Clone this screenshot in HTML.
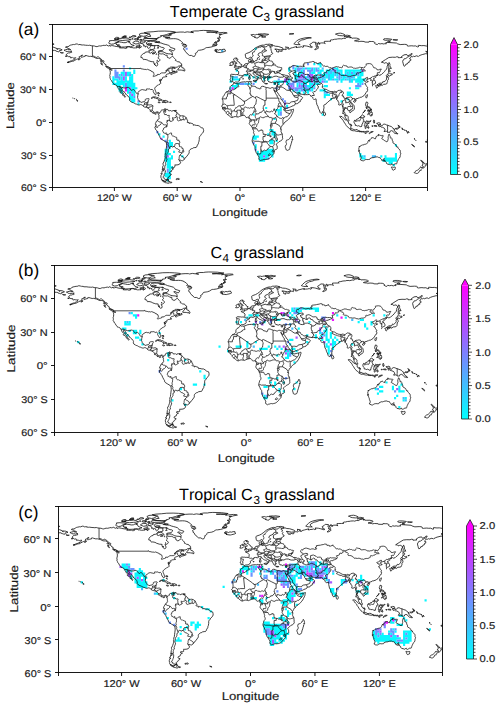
<!DOCTYPE html>
<html><head><meta charset="utf-8"><title>grassland maps</title>
<style>
html,body{margin:0;padding:0;background:#fff}
body{width:500px;height:709px;overflow:hidden}
svg{display:block}
text{text-rendering:geometricPrecision;font-kerning:none;font-family:"Liberation Sans", sans-serif;fill:#1a1a1a}
.t{font-size:9.5px;stroke:#1a1a1a;stroke-width:0.18px}
.ttl{font-size:15.5px;fill:#000}
</style></head><body>
<svg width="500" height="709" viewBox="0 0 500 709">
<defs>
<linearGradient id="cool" x1="0" y1="1" x2="0" y2="0"><stop offset="0" stop-color="#00ffff"/><stop offset="1" stop-color="#ff00ff"/></linearGradient>
<g id="world" fill="none" stroke="#111" stroke-linejoin="round"><path vector-effect="non-scaling-stroke" stroke-width="0.8" d="M11.9 24.3L13.3 23.9L15.5 23.4L16.3 23.4L16.2 23.9L18.3 23.9L17.5 23.3L16.3 22.9L15.6 22.4L14.6 22L13.2 21.6L13.8 21.1L15.6 21.1L16.8 20.6L17.1 20.1L18.1 19.7L19.1 19.5L21 19.1L21.9 19.2L23.4 18.6L24.9 18.8L25.7 19.3L26.1 19.1L27.8 19.2L27.7 19.4L29.3 19.6L30.3 19.5L32.4 19.8L34.3 19.9L35.1 20L36.4 19.8L37.9 20.2L39 20.3L40.9 20.5L42.4 21L43.5 21.1L44.4 20.7L45.6 20.4L47.1 20.5L48.6 20.1L50.2 19.8L50.9 20.2L51.6 20L51.9 19.5L52.5 19.6L54.2 20.5L55.6 19.8L55.7 20.6L56.9 20.4L57.3 20.1L58.5 20.2L60.1 20.6L62.4 21L63.8 21.2L64.8 21.1L66.1 21.6L64.7 22.1L66.5 22.3L69.2 22.2L70 22.6L71.1 22.6L72.2 22.1L71.2 21.7L71.8 21.3L73 21.3L73.8 21.2L74.7 21.4L75.7 22L76.8 21.9L78.5 22.3L80.1 22.2L81.6 22.2L81.4 21.6L82.3 21.4L83.9 21.8L83.9 22.7L84.5 21.9L85.3 21.9L85.8 20.9L84.7 20.3L83.5 19.9L83.6 18.8L84.8 18.1L86.1 18.2L87.1 18.7L88.5 19.8L87.6 20.3L89.5 20.5L89.5 21.5L90.8 20.7L92 21.4L91.7 22.1L92.7 22.8L93.7 22.1L94.4 21.2L94.5 20.1L95.9 20.2L97.4 20.3L98.7 20.8L98.8 21.3L98 21.9L98.7 22.4L98.6 22.9L96.7 23.6L95.3 23.7L94.2 23.4L93.9 23.9L93 24.8L92.7 25.2L91.5 25.9L90.1 26L89.3 26.4L89.2 27L88.1 27.2L86.8 28L85.8 29.1L85.4 29.9L85.3 31L86.8 31.2L87.2 32.1L87.7 32.9L89.1 32.7L91 33.1L92 33.5L92.7 34L93.9 34.3L95 34.7L96.6 34.8L97.7 34.9L97.6 35.7L97.9 36.7L98.6 37.8L100.1 38.8L100.9 38.5L101.4 37.4L100.9 35.9L100.2 35.3L101.8 34.9L102.9 34.2L103.5 33.5L103.4 32.8L102.7 32L101.5 31.2L102.7 30.1L102.2 29.2L101.9 27.7L102.6 27.5L104.3 27.7L105.3 27.8L106.2 27.6L107.1 27.9L108.3 28.5L108.6 28.9L110.4 28.9L110.4 29.8L110.7 31L111.6 31.2L112.3 31.8L113.8 31.2L114.8 30.1L115.4 29.7L116.2 30.6L117.5 31.8L118.6 33L118.2 33.7L119.5 34.2L120.4 34.8L122 35L122.7 35.4L123.1 36.2L123.8 36.4L124.2 36.7L124.3 37.9L122.9 38.6L121.2 38.9L120 39.8L118.3 39.9L116.1 39.7L114.6 39.7L113.6 39.8L112.8 40.5L111.5 40.9L110 42.3L108.9 43.2L109.7 43L111.3 41.7L113.5 40.9L114.9 40.8L115.8 41.3L114.9 41.9L115.2 43L115.5 43.8L116.8 44.3L118.5 44.1L119.5 43L119.5 43.7L120.2 44.1L119 44.7L116.8 45.3L115.8 45.7L114.6 46.5L113.9 46.4L113.8 45.5L115.6 44.7L114 44.7L112.9 44.9L113 45.2L112 45.7L110.9 46L109.9 46.3L109.3 46.9L109.2 47.1L109.2 47.7L109.5 48.2L109.9 48.2L109.8 47.9L110.1 48.1L110 48.4L109.4 48.5L108.9 48.5L108.1 48.7L107.1 48.8L106.3 49.1L106 49.4L105.7 49.5L106 49.6L105.8 50.3L105.1 51.1L105 50.8L104.8 50.8L104.5 50.5L104.7 51L104.9 51.2L104.9 51.6L104.6 52L104.1 52.8L104 52.7L104.3 52.1L103.8 51.7L103.7 50.9L103.5 51.3L103.7 51.9L103 51.8L103.7 52.1L103.7 53L104 53.1L104.3 54.5L103.6 55.2L102.6 55.5L102 56.1L101.5 56.1L100.9 56.5L100.8 56.8L99.7 57.5L99.1 58L98.7 58.6L98.5 59.3L98.7 60L99 60.8L99.5 61.5L99.5 62L99.9 63.1L99.9 63.8L99.9 64.2L99.6 64.8L99.3 64.9L98.8 64.8L98.7 64.4L98.3 64.1L97.8 63.3L97.3 62.5L97.1 62.1L97.3 61.5L97.1 60.9L96.3 60.1L95.9 59.9L94.9 60.4L94.7 60.3L94.2 59.9L93.6 59.6L92.5 59.7L91.6 59.6L90.8 59.7L90.4 59.8L90.6 60.1L90.6 60.5L90.8 60.7L90.6 60.8L90.2 60.7L89.8 60.9L89.1 60.9L88.4 60.3L87.5 60.5L86.8 60.2L86.2 60.3L85.3 60.5L84.4 61.3L83.4 61.7L82.9 62.2L82.6 62.6L82.6 63.3L82.7 63.8L82.9 64.1L82.5 65L82.3 65.7L82.2 67.1L82.1 67.6L82.3 68.1L82.6 68.6L82.8 69.4L83.5 70.1L83.7 70.7L84.1 71.2L85.2 71.4L85.6 71.9L86.5 71.6L87.2 71.5L88.6 71.1L89.2 70.7L89.5 70.1L89.5 69.3L89.7 69L90.4 68.7L91.5 68.5L92.3 68.5L93 68.5L93.2 68.7L93.2 69.2L92.6 69.7L92.4 70.3L92.6 70.5L92.4 71L92.2 71.7L91.9 71.5L91.7 71.5L91.7 71.7L91.9 71.7L91.9 72.7L91.7 72.9L91.8 73.5L91.1 74.1L91.4 74.3L91.5 74.1L91.8 74.3L92.1 74.1L92.4 74.1L93.1 74.2L93.6 74.2L94 74L94.6 74.1L95 74L95.6 74.2L96.2 74.6L96.6 74.7L96.8 75L96.7 75.3L96.8 75.7L96.6 76L96.5 76.4L96.5 76.9L96.5 77.6L96.4 77.7L96.3 78.1L96.3 78.4L96.1 78.6L96.3 79.1L96.6 79.6L97 80L97.5 80.4L97.8 80.8L98.2 81L98.6 81.2L99 81.1L99.5 80.9L100.1 80.7L100.4 80.4L101 80.5L101.5 80.6L101.9 80.8L102.3 81L102.7 81.3L103.2 81.4L103.9 80.7L104.3 80.6L104.3 80.2L104.5 79.4L105.1 78.9L105.7 78.9L105.8 78.7L106.6 78.8L107.4 78.3L107.8 78L108.2 77.6L108.6 77.6L108.9 77.9L108.7 78.2L108.6 78.5L108 78.6L108.4 79L108.4 79.5L107.9 80.1L108.3 80.9L108.7 80.9L109 80.1L108.7 79.8L108.6 79L109.8 78.6L109.7 78.2L110.1 77.8L110.4 78.5L111.1 78.6L111.8 79.1L111.8 79.5L112.7 79.5L113.8 79.3L114.3 79.8L115.1 79.9L115.7 79.6L115.7 79.4L116.9 79.3L118.1 79.3L117.3 79.6L117.6 80L118.4 80.1L119.2 80.6L119.3 81.4L119.8 81.4L120.2 81.6L120.9 82L121.5 82.7L121.5 83.2L121.9 83.2L122.5 83.7L122.8 84L124 84.2L124.2 84L125 84L126 84.2L127.1 84.6L128.2 85.4L128.3 85.8L128.7 85.8L128.9 86.3L129.5 88.1L130 88.3L130.1 89L129.3 89.8L129.6 90.1L131.4 90.2L131.4 91.2L132.2 90.6L133.4 90.9L135.1 91.5L135.6 92.1L135.4 92.7L136.6 92.4L138.5 92.9L140 92.9L141.5 93.7L142.8 94.8L143.6 95.1L144.4 95.2L144.8 95.5L145.1 96.7L145.3 97.3L144.9 99L144.4 99.7L142.9 101L142.3 102.2L141.6 103L141.3 103.1L141.1 103.8L141.1 105.7L140.8 107.2L140.7 107.9L140.4 108.3L140.2 109.6L139.2 110.9L139.1 111.9L138.2 112.4L138 113L136.9 113L135.3 113.3L134.7 113.8L133.5 114.1L132.3 114.9L131.5 115.9L131.4 116.6L131.5 117.2L131.3 118.2L131.1 118.7L130.4 119.2L129.3 121L128.4 121.8L127.7 122.2L127.3 123.2L126.6 123.8L126.2 124.4L125.1 125L124.3 124.8L123.8 124.9L122.9 124.4L122.2 124.5L121.6 123.9L121.5 124.4L122.8 125.3L122.6 126L123.3 126.4L123.2 126.9L122.2 128.2L120.8 128.7L118.8 128.9L117.7 128.8L117.9 129.4L117.7 130.2L117.8 130.7L117.2 131L116.2 131.2L115.3 130.8L114.9 131.1L115 132.1L115.7 132.4L116.2 132L116.5 132.6L115.6 132.9L114.8 133.5L114.7 134.5L114.4 135L113.5 135L112.7 135.6L112.4 136.3L113.4 137L114.4 137.2L114 138.1L112.8 138.7L112.2 139.9L111.3 140.3L110.9 140.7L111.2 141.8L111.8 142.3L111.4 142.3L110.5 142.3L110.1 142.5L109.2 142.9L109 143.8L108.6 143.9L107.4 143.5L106.3 142.8L105 142.3L104.7 141.6L105 141L104.5 140.4L104.4 138.7L104.8 137.7L105.9 136.9L104.4 136.7L105.3 135.8L105.7 134.1L106.8 134.4L107.3 132.4L106.6 132.1L106.3 133.4L105.7 133.2L106 131.8L106.3 129.9L106.8 129.3L106.5 128.3L106.4 127.2L106.8 127.1L107.5 125.5L108.1 123.9L108.6 122.4L108.3 120.9L108.6 120.1L108.5 118.9L109.1 117.6L109.3 115.7L109.6 113.6L109.9 111.4L109.8 109.8L109.6 108.3L108.6 107.8L108.5 107.4L106.6 106.4L104.8 105.3L104 104.7L103.6 103.8L103.7 103.5L102.9 102.2L101.9 100.4L101 98.4L100.5 97.9L100.2 97.2L99.5 96.5L98.8 96.1L99.1 95.7L98.6 94.7L98.9 94L99.7 93.4L100.2 92.7L100 92.2L99.6 92.7L99 92.2L99.2 92L99.1 91.1L99.4 90.9L99.6 90.3L100 89.6L99.9 89.2L100.5 89L101.1 88.6L101 88.3L101.4 88.2L101.3 87.7L101.6 87.4L102.1 87.3L102.5 86.7L102.9 86.2L102.5 85.9L102.7 85.3L102.5 84.4L102.7 84.2L102.5 83.3L102.1 82.8L101.8 82.5L101.6 82L101.8 81.7L101.6 81.6L101.4 81.3L100.9 81L100.4 81.1L100.2 81.4L99.8 81.7L99.6 81.7L99.5 81.9L100 82.5L99.7 82.6L99.6 82.7L99.1 82.8L98.9 82.2L98.8 82.3L98.5 82.3L98.3 81.9L97.9 81.8L97.6 81.7L97.2 81.7L97.2 81.9L97 81.8L96.5 81.5L96.3 81.3L96.4 81.2L96.4 81L96.1 80.7L95.7 80.5L95.3 80.4L95.3 80.1L95 79.9L95.1 80.2L94.9 80.4L94.7 80.2L94.3 80.1L94.2 79.9L94.2 79.6L94.3 79.2L94.1 79.1L94.3 78.9L93.9 78.6L93.5 78.2L93.2 77.9L92.8 77.5L92.3 77.1L92.4 76.9L92.6 77.1L92.7 77L92.5 76.7L92.2 76.6L92.1 76.8L91.5 76.8L91.2 76.7L90.7 76.5L90.2 76.5L89.9 76.3L89.4 76.1L88.8 76.1L88.3 75.9L87.8 75.5L86.6 74.4L86.1 74.1L85.3 73.8L84.8 73.9L84 74.2L83.4 74.3L82.7 74.1L82 73.9L81 73.4L80.3 73.3L79.2 72.8L78.3 72.3L78.1 72.1L77.5 72L76.5 71.7L76.1 71.2L75 70.7L74.5 70L74.3 69.6L74.6 69.5L74.5 69.2L74.7 68.9L74.7 68.6L74.4 68.1L74.3 67.7L74 67.2L73.1 66.2L72.1 65.5L71.6 64.8L70.7 64.4L70.6 64.2L70.7 63.6L70.2 63.3L69.6 62.8L69.4 62.1L68.8 62.1L68.2 61.5L67.8 61L67.7 60.7L67.2 60L66.8 59.2L66.8 58.8L66.1 58.4L65.8 58.5L65.2 58.2L65.1 58.6L65.2 59.1L65.3 59.8L65.7 60.2L66.4 60.9L66.6 61.2L66.7 61.2L66.9 61.6L67 61.6L67.2 62.2L67.5 62.5L67.8 62.8L68.4 63.3L68.7 64.3L69 64.7L69.3 65.2L69.3 65.7L69.8 65.7L70.2 66.2L70.6 66.6L70.6 66.8L70.2 67.2L70 67.2L69.7 66.6L69 66L68.3 65.5L67.8 65.3L67.8 64.5L67.7 64L67.2 63.7L66.5 63.2L66.4 63.4L66.2 63.1L65.5 62.9L64.9 62.3L65 62.2L65.4 62.3L65.8 61.9L65.8 61.4L65.1 60.7L64.5 60.4L64.1 59.8L63.7 59.2L63.3 58.4L62.9 57.5L62.7 57L62.1 56.4L61.6 56.3L61.5 56L60.9 55.9L60.6 55.6L59.6 55.5L59.4 55.4L59.3 54.8L58.3 53.8L57.5 52.5L57.5 52.2L57 51.9L56.3 51L56.1 50.2L55.6 49.7L55.8 48.9L55.8 48L55.5 47.2L55.9 46.3L56.1 44.5L55.9 43.1L55.6 42.3L55.3 41.8L55.4 41.6L56.9 42L57.4 42.9L57.7 42.6L57.5 41.8L57.2 41L57 41L55.1 40L54.4 39.6L52.6 39.2L52 38.3L52.2 37.7L50.9 37.2L50.7 36.4L49.5 35.7L49.5 35.2L48.9 34.8L48 34.5L47.8 33.6L46.5 32.8L45.9 31.9L45 31.8L43.4 31.8L42.2 31.5L40.1 30.5L37.4 29.9L36 30L34.1 29.5L32.9 29.1L31.8 29.3L32 30L31.4 30.1L30.3 30.3L29.4 30.6L28.3 30.8L28.1 30.3L28.6 29.3L29.7 29L29.4 28.7L28.1 29.3L27.4 29.9L26 30.6L26.7 31.1L25.8 31.9L24.7 32.3L23.7 32.6L23.4 33L21.9 33.5L21.6 34L20.4 34.4L19.7 34.4L18.8 34.6L17.8 35L16.9 35.3L15.2 35.6L15.1 35.4L16.2 35L17.1 34.6L18.2 34.1L19.4 34L19.9 33.6L21.3 33L21.5 32.8L22.3 32.4L22.4 31.7L23 31.1L21.8 31.4L21.5 31.2L20.9 31.6L20.3 31.1L20 31.4L19.6 30.9L18.6 31.3L18 31.3L17.9 30.7L18.1 30.4L17.5 30L16.2 30.2L15.3 29.7L14.7 29.5L14.7 28.9L13.9 28.5L14.3 27.9L15.1 27.4L15.4 26.9L16.2 26.8L16.9 26.9L17.7 26.5L18.5 26.5L19.2 26.2L19 25.8L18.5 25.6L19.2 25.2L18.6 25.2L17.6 25.4L17.2 25.7L16.4 25.4L15 25.5L13.6 25.3L13.2 24.9L11.9 24.3M133.2 7.4L136.6 6.8L140.1 6.8L141.4 6.5L144.9 6.3L152.9 6.5L159.2 7.3L157.3 7.7L153.5 7.7L148.1 7.8L148.6 8L152.1 7.9L155.2 8.2L157.1 7.9L157.9 8.3L156.8 8.8L159.4 8.5L164.2 8.1L167.2 8.3L167.8 8.7L163.7 9.4L163.2 9.7L159.9 9.8L162.3 9.9L161.1 10.6L160.3 11.2L160.3 12.4L161.5 13L160 13.1L158.3 13.4L160.2 13.9L160.4 14.8L159.3 14.8L160.6 15.7L158.4 15.8L159.6 16.2L159.2 16.5L157.8 16.7L156.4 16.7L157.7 17.4L157.7 17.8L155.7 17.4L155.2 17.7L156.6 17.9L157.9 18.5L158.2 19.3L156.5 19.5L155.7 19.1L154.5 18.6L154.8 19.2L153.6 19.8L156.3 19.8L157.7 19.9L155 20.7L152.2 21.5L149.3 21.9L148.2 21.9L147.2 22.3L145.8 23.3L143.7 24L143 24.1L141.6 24.3L140.2 24.5L139.3 25.2L139.3 25.9L138.8 26.5L137.2 27.3L137.6 28.1L137.1 28.9L136.6 29.9L135.2 30L133.7 29.1L131.7 29.1L130.8 28.6L130.1 27.6L128.4 26.4L127.9 25.7L127.7 24.8L126.3 23.9L126.7 23.2L126 22.8L127 21.6L128.5 21.3L128.9 20.8L129.1 20.1L128 20.4L127.4 20.6L126.5 20.7L125.3 20.4L125.2 19.7L125.6 19.2L126.6 19.2L128.6 19.4L126.9 18.8L126 18.5L125 18.6L124.2 18.3L125.3 17.4L124.7 17L123.9 16.3L122.7 15.3L121.4 14.9L121.4 14.5L118.7 13.9L116.6 13.8L113.9 13.9L111.5 13.9L110.3 13.6L108.6 13L111.2 12.7L113.2 12.6L109 12.4L106.7 12L106.8 11.6L110.6 11.1L114.3 10.6L114.7 10.2L112 9.9L112.8 9.5L116.3 8.8L117.8 8.7L117.3 8.2L119.7 8L122.8 7.8L125.9 7.8L127 8.1L129.6 7.6L132 7.9L133.4 8L135.5 8.3L133.1 7.8L133.2 7.4M115 28.1L113.5 27.7L111.5 27.6L109.5 27.2L108.2 26.6L106.5 25.8L104.5 25.6L102.2 25.7L102 25.1L103.5 24.7L106 24.6L106.5 23.7L107.8 22.7L106.7 21.9L105 21.7L103.5 21L102 20L100 20L97.5 20L95 19.9L92.5 19.7L91 19L90.5 17.8L91.5 16.5L94.5 16.2L97.5 16.3L99.5 17L102 17.5L104.5 17.7L106.5 18.5L108.5 19L110.5 19.5L112 20L113 20.8L113.5 21.8L116 22.5L118 23.2L117.5 23.8L116.5 25L115 24.6L113.5 23.7L112.2 24L113 24.8L114.5 25.5L115 26.3L115.5 26.9L115 28.1M79 20L77.5 20.5L75.5 21.1L73.5 21L71.5 21.3L69.5 21.4L66.7 21.5L66 20.9L64 20.8L62.7 20L65 19.7L63 19.3L61.6 19.1L62.2 18.6L61 18.3L62 17.5L64.5 16.7L67 17.1L69 17.5L71 17.4L72.5 16.6L74.5 17L75.5 18.8L77.2 19.5L79 20M59.5 18.6L57 18.9L55 18.1L54.4 17.6L55.5 16.7L55.2 15.7L58.5 15.5L62 15.8L64.5 16.5L62.5 17.2L60.8 17.6L59.5 18.6M100 13.8L97 13.6L91.5 13.6L90.5 13L92 12L95 11.5L93.5 10.5L94 9.5L90 9L88.5 8.4L92 7.8L97 7.5L102 7L108 6.9L113 7.1L117.5 7.5L118.5 8L115.5 8.5L112.5 9.2L110 10L107.5 10.7L104 11.2L105 11.7L103.5 12.5L101.5 12.8L102 13.4L100 13.8M88 11.7L85 11.2L83.5 10L85.5 9L89 8.7L91 9.2L92.5 9.8L91.5 10.8L89.5 11.4L88 11.7M99.5 15.4L96 15.5L92 15.5L89 15.3L87.5 14.5L88 13.8L91 13.6L95 13.8L98 14.1L100.5 14.7L99.5 15.4M74 15L71 15.2L67.5 15.5L64 15.1L62.5 14.4L65 13.6L67.5 13.5L71 13.2L73.5 13.5L74.5 14.2L74 15M64.5 13.5L62 14.1L60 13.7L62 12.6L64 12.7L64.5 13.5M82.5 15L79.5 14.8L79 14L81 13.6L82.5 14L82.5 15M86.5 15.3L84 15.2L84.5 14.5L86.5 14.6L86.5 15.3M86 18L84.5 17.1L85 16.2L88 15.9L89.8 16.5L88 17.5L86 18M83 18.3L80.5 18.7L77.5 17.5L78.5 16.8L80 16.1L83 16.2L83.5 17.3L83 18.3M84 21.5L81.5 21.4L80.5 20.8L82 20.2L84 20.5L84 21.5M99.7 26.2L98.5 26.6L96.5 25.9L94.5 27L92.8 26.4L93.5 25.3L94 24.4L96.5 24L98.5 25.1L99.7 26.2M98.5 27.3L97 27.8L96 27.5L97 27.1L98.5 27.3M83.5 12.5L85.5 12.4L85.2 11.6L83.8 11.4L83 11.9L83.5 12.5M76 12.1L78.5 12.2L80.8 11.7L80 11.1L77.5 11L76 12.1M68 12.1L71 12L71.5 11.3L69.5 11.2L68 12.1M67 12.6L69.5 12.7L71.5 12.4L70 12L67 12.6M74 12.7L75.5 12.8L76 12.4L74.5 12.3L74 12.7M99 17.2L102 17.3L103.5 16.8L101.5 16.3L99.5 16.4L99 17.2M101 22.5L102.5 22.2L101.5 21.7L101 22.5M81.5 14.2L83.5 14.4L83 13.7L81.5 14.2M76.5 14.1L78 14.3L77.5 13.7L76.5 14.1M100.5 33.8L101.2 34L101 33.4L100.5 33.8M73.5 16.8L75 16.6L74.5 16.2L73.2 16.3L73.5 16.8M75 15L76 14.7L75.2 14.4L74.4 14.7L75 15M100 14.2L101 13.9L99.5 13.7L100 14.2M101.5 20.7L102.5 20.4L102 20.1L101.2 20.4L101.5 20.7M98.5 37.1L99.2 36.9L98.5 36.7L98 36.9L98.5 37.1M99.8 28.2L100.5 27.8L100 27.6L99.5 27.9L99.8 28.2M102 26.7L102.8 26.4L101.8 26.2L102 26.7M115 28.7L115.7 28.4L114.9 28.2L115 28.7M92 19.5L94 19.2L96 18.6L93.5 18.1L91.5 18.6L92 19.5M60 14.5L62.5 14.8L64 14.5L62 14.1L60 14.5M82 12.8L83.5 13L84 12.6L82.5 12.4L82 12.8M88.5 12.8L90.5 12.5L89 12.2L88.5 12.8M124.5 38.4L123.3 38.7L122.6 39.4L121.6 40.8L120.7 41.4L120.6 42.3L121.8 42.4L123.9 42.4L124.7 42.9L125.8 42.2L126.4 43.4L127.4 43L127.3 42.2L126.9 41.5L126.4 40.8L125.5 40.4L124.5 40.2L124.2 39.5L124.5 38.4M118.2 40.9L116.4 40.6L115.5 40.1L116.8 40.3L118.2 40.9M118 43.6L116.8 43.8L115.8 43.4L116.4 43.4L118 43.6M56.5 41.6L54.5 41.1L52.5 39.9L51.6 39.2L53 39.4L54.5 40L56 40.8L56.5 41.6M48.8 37.9L47.5 37.2L46.9 35.8L48.3 35.9L48 37L48.8 37.9M47.4 35L46.5 34.1L47 33.6L47.5 34.4L47.4 35M27.5 32.1L26.5 33L25.4 33.1L25.8 32.4L27 31.9L27.5 32.1M8.3 26.2L9.5 26.6L11.3 26.7L10.4 26.9L8.7 26.8L8.3 26.2M13.1 29.8L14.5 29.6L14.4 30.1L13.1 29.8M15.1 35.4L16.5 35.1L15.8 35.6L15.1 35.4M24.5 70.9L24.1 70.5L24.2 69.8L24.9 70.2L25.2 70.5L24.5 70.9M23.9 69.4L23.3 69.1L23.6 69L23.9 69.4M22.3 68.7L21.8 68.5L22.1 68.3L22.3 68.7M20.6 68.1L20.2 67.9L20.5 67.8L20.6 68.1M97.7 66.8L98.6 66.9L99.4 66.9L100.3 67.2L100.7 67.6L101.7 67.5L102 67.7L102.8 68.3L103.5 68.8L103.8 68.8L104.4 69L104.3 69.3L105.1 69.3L105.8 69.7L105.7 70L105 70.1L104.4 70.1L103.7 70L102.2 70.1L102.9 69.6L102.5 69.3L101.9 69.3L101.5 69L101.3 68.4L100.7 68.4L99.8 68.2L99.5 68L98.2 67.8L97.8 67.6L98.2 67.4L97.2 67.3L96.5 67.8L96.1 67.8L96 68.1L95.5 68.2L95 68.1L95.5 67.8L95.8 67.4L96.2 67.2L96.7 67L97.5 66.9L97.7 66.8M106.8 70.1L107.4 70.1L108.3 70.3L108.4 70.1L109.2 70.1L109.8 70.4L110 70.3L110.2 70.7L110.8 70.7L110.8 71L111.2 71L111.7 71.4L111.3 71.8L110.8 71.6L110.4 71.6L110 71.6L109.9 71.8L109.5 71.8L109.3 71.6L109 71.7L108.6 72.4L108.3 72.2L108.3 72L107.6 71.8L107.2 71.8L106.5 71.8L106.1 72L105.5 71.7L105.6 71.3L106.5 71.5L107.3 71.5L107.7 71.3L107.2 70.9L107.2 70.5L106.6 70.4L106.8 70.1M102.4 71.5L103.1 71.6L103.6 71.8L103.8 72.1L103.1 72.1L102.8 72.3L102.2 72.1L101.7 71.8L101.8 71.5L102.2 71.5L102.4 71.5M113.7 71.5L114.2 71.6L114.4 71.8L114.2 72L113.4 72L112.8 72L112.8 71.6L112.9 71.5L113.7 71.5M102.5 66.2L102.2 65.7L101.6 65.4L102 64.8L102.2 65.2L102.5 66.2M101 63.2L101.5 63.1L102.2 63.2L102.2 63.4L101.1 63.6L101 63.2M102.2 63L103 63.4L102.8 64.1L102.6 64L102.7 63.5L102.2 63.1L102.2 63M118.3 79.2L118.9 79.1L119.1 79.1L119.1 79.9L118.2 80L118 79.9L118.3 79.6L118.3 79.2M118.8 141.8L120 141.2L120.8 141.5L121.5 141.1L122.2 141.6L122 141.9L120.6 142.2L120.2 141.8L119.3 142.3L118.8 141.8M111.4 142.6L111.8 143.1L112.2 143.8L113.5 144.4L115 144.7L114.5 145.2L113.5 145.2L113 144.9L112.7 145.3L111.8 145.6L111.4 145.6L110.8 145.5L110 145.2L109 145.1L107.7 144.5L106.7 144L105.3 142.8L106.2 143.1L107.6 143.7L108.9 144.1L109.4 143.6L109.7 142.9L110.7 142.5L111.4 142.6M142 144L143.5 144.2L144.2 144.8L143 144.5L142 144M360 25L358.7 25.5L357.4 25.4L358.3 25.9L358.9 26.8L359.4 27L359.5 27.4L359.2 27.7L357.4 27.5L354.6 28.2L353.7 28.4L352.1 29L350.7 29.7L350.3 30.1L348.9 29.4L346.3 30.2L345.8 29.8L344.9 30.3L343.5 30.1L343.2 30.8L342 31.8L342.1 32.2L343.2 32.4L343.1 33.8L342.1 33.9L341.7 34.7L342.1 35.1L340.4 35.7L340 36.8L338.5 37L338.2 38.1L336.8 39L336.4 38.3L336 36.8L335.4 34.6L335.9 33.2L336.8 32.6L336.8 32.2L338.4 31.9L340.1 30.7L341.9 29.7L343.7 28.9L344.5 27.5L343.3 27.5L342.7 28.4L340.1 29.5L339.3 28.2L336.7 28.6L334.2 30.2L335 30.9L332.8 31.1L331.3 31.2L331.3 30.5L329.8 30.3L328.5 30.8L325.5 30.7L322.2 31L319 32.9L315.1 35.3L316.7 35.4L317.2 36L318.2 36.2L318.8 35.8L319.9 35.8L321.4 36.9L321.4 37.8L320.6 38.8L320.5 40L320.1 41.5L318.6 43L318.2 43.7L316.9 44.9L315.5 46L314.9 46.6L313.5 47.2L312.9 47.2L312.3 46.7L310.9 47.5L310.8 47.8L310.4 47.7L310 48.1L309.7 48.4L309.7 49.1L309.2 49.3L309 49.5L308.6 49.8L308 50L307.5 50.2L307.5 50.7L307.4 50.8L307.8 51L308.4 51.4L309.2 52.6L309.5 53.2L309.5 54.4L309.1 54.9L308.2 55.1L307.4 55.5L306.5 55.6L306.4 55.1L306.6 54.3L306.1 53.3L306.9 53.1L306.2 52.2L305.7 52.1L305.6 52.2L305.3 52.3L305.2 52.1L305 52L304.7 51.9L305 51.5L305.2 51.3L305.1 51.1L305.4 50.6L305.3 50.5L304.7 50.3L304.3 50.1L302.9 50.4L302.1 50.8L301.1 51.1L301.6 50.6L301.4 50.2L302.2 49.6L301.6 49L300.8 49.4L299.6 50.1L299 50.8L298 50.8L297.5 51.3L298.1 51.9L298.9 52.1L298.9 52.5L299.7 52.8L300.8 52.1L301.7 52.5L302.4 52.5L302.5 53.1L301.1 53.4L300.6 53.9L299.7 54.4L299.1 55.1L300.2 55.6L300.6 56.6L301.2 57.5L301.9 58.3L301.9 59L301.3 59.3L301.5 59.9L302.1 60.2L301.9 61L301.7 61.8L301.1 61.9L300.4 63L299.6 64.3L298.7 65.5L297.3 66.4L295.9 67.2L294.8 67.3L294.1 67.8L293.8 67.5L293.2 68L291.8 68.5L290.8 68.6L290.4 69.7L289.9 69.7L289.6 69L289.9 68.6L288.5 68.3L288.1 68.5L286.7 69.3L285.9 70.2L285.7 70.9L286.4 72L287.4 73.3L288.3 73.9L288.9 74.7L289.3 76.6L289.2 78.3L288.4 79L287.2 79.6L286.4 80.5L285.2 81.4L284.8 80.8L285.1 80.1L284.3 79.5L283.5 79.4L283.1 78.8L282.6 77.8L281.7 77.3L280.8 77.4L281 76.6L280.1 76.6L280 77.7L279.5 79.2L279.1 80L279.2 80.8L279.9 80.8L280.3 81.7L280.5 82.6L281 83.1L281.6 83.3L282.1 83.8L282.4 83.9L283 84.5L283.4 85.1L283.4 85.8L283.3 86.3L283.4 86.6L283.5 87.2L283.9 87.5L284.2 88.4L284.2 88.7L283.5 88.8L282.6 88L281.4 87.2L281.3 86.7L280.7 86.1L280.6 85.2L280.2 84.7L280.3 84L280.1 83.5L279.7 83.2L279.5 82.7L279 82.1L278.5 81.6L278.3 82.2L278.1 81.7L278.3 81L278.6 80.1L278.5 79.3L278.8 78.6L278.4 78L278.5 76.9L278.1 76.4L277.8 75.2L277.6 73.9L277.2 73.1L276.5 73.6L275.4 74.3L274.8 74.2L274.2 74L274.5 72.7L274.3 71.8L273.5 70.6L273.7 70.3L273.1 70.1L272.4 69.3L272.1 68.8L272 68.3L271.8 67.8L271.4 67.2L270.5 67.2L270.6 67.6L270.3 68.2L269.9 68L269.7 68.1L269.4 68L269 67.9L268.9 68.3L268.2 68.3L267 68.5L267 69.3L266.5 69.8L265.1 70.5L263.9 71.7L263.2 72.3L262.2 73L262.2 73.4L261.7 73.7L260.8 74L260.3 74.1L260 74.9L260.2 76.2L260.3 77L259.9 77.9L259.9 79.6L259.3 79.7L258.9 80.5L259.2 80.8L258.3 81.1L257.9 81.8L257.5 82L256.6 81.1L256.1 79.7L255.8 78.7L255.4 78.2L254.9 77.3L254.6 76L254.4 75.4L253.5 74L253.1 72.1L252.8 70.8L252.8 69.6L252.6 68.6L251.2 69.2L250.5 69.1L249.2 67.9L249.6 67.5L249.3 67.2L248.2 66.3L247.4 66.1L247.2 65.3L246.4 64.6L244.5 64.8L242.9 64.8L241.5 64.9L239.6 64.6L238.5 64.4L237.4 64.3L237 63L236.5 62.9L235.7 63L234.7 63.5L233.5 63.2L232.5 62.4L231.5 62.1L230.8 61.2L230.1 59.9L229.6 60L228.9 59.7L228.6 60.1L228 60L228.2 60.5L228.1 60.7L228.4 61.5L228.8 62.3L229.3 62.5L229.5 62.9L230.2 63.3L230.2 63.7L230.1 64.1L230.2 64.4L230.5 64.7L230.7 65L230.8 65.2L231.1 65.4L231.4 65.4L231.6 65.8L231.8 65.7L231.8 66L232.6 65.8L233.4 65.8L234 65.9L234.7 65.2L235.4 64.6L236.1 63.9L236.4 63.6L236.5 63.7L236.4 64.1L236.3 64.3L236.4 65.1L236.8 65.8L237.4 66.1L238.1 66.2L238.7 66.4L239.2 67L239.4 67.3L239.8 67.5L239.8 67.7L239.4 68.3L239.3 68.6L238.9 68.9L238.5 69.6L238 69.5L237.8 69.8L237.7 70.3L237.8 70.9L237.7 71.1L237.2 71L236.6 71.4L236.5 71.9L236.3 72.1L235.7 72.1L235.3 72.4L235.3 72.8L234.8 73L234.2 73L233.6 73.3L233.1 73.3L232.4 73.6L232.2 74.1L232.2 74.4L231.2 74.8L229.6 75.3L228.7 76L228.2 76L227.9 76L227.3 76.4L226.7 76.6L225.9 76.7L225.6 76.7L225.4 77L225.1 77L225 77.3L224.5 77.3L224.2 77.4L223.5 77.4L223.2 76.8L223.2 76.2L223.1 75.9L222.9 75.2L222.6 74.8L222.8 74.7L222.7 74.3L222.8 74.1L222.8 73.7L222.7 73.2L222.3 72.9L222.3 72.5L221.8 72.2L221.2 71.3L220.9 70.5L220.2 69.8L219.8 69.7L219.1 68.7L219 68L219.1 67.4L218.5 66.3L218 65.9L217.5 65.7L217.2 65.1L217.2 64.9L216.9 64.4L216.6 64.2L216.2 63.4L215.6 62.6L215.1 61.9L214.6 61.9L214.8 61.4L214.8 61L215 60.6L214.9 60.5L214.6 60.9L214.4 61.7L214.2 62.2L213.9 62.4L213.6 62L213.1 61.6L212.4 60.1L212.3 60.2L212.7 61.3L213.3 62.3L214.1 63.9L214.5 64.4L214.8 65L215.7 66.1L215.5 66.2L215.5 66.9L216.7 67.8L216.9 68L217.2 69L217 69.2L217.1 70.2L217.5 71.4L217.9 71.6L218.4 72L219 73.2L219.3 74.1L219.8 74.6L221.2 75.5L221.7 76.1L222.3 76.7L222.6 77L223.1 77.3L223.3 77.6L223.3 78L222.7 78.3L223.2 78.5L223.5 78.7L223.7 79.1L224.1 79.5L224.6 79.6L225.6 79.3L226.7 79.2L227.5 78.9L228 78.8L228.4 78.6L228.9 78.6L229.3 78.6L229.7 78.4L230.3 78.3L230.7 78L231.1 78L231.1 78.2L231 78.8L231.1 79.4L230.8 79.7L230.6 80.8L230.1 81.9L229.4 83.2L228.6 84.7L227.7 85.8L226.6 87.1L225.6 88L224.1 89L223.1 89.7L222 90.9L221.8 91.5L221.6 91.7L220.9 92.1L220.6 92.5L220.3 92.6L220.1 93.3L219.8 93.7L219.6 94.3L219.2 94.7L218.7 95.9L218.8 96.5L219.4 96.8L219.5 97.1L219.2 97.7L219.2 98L219.2 98.5L219.5 99.1L219.9 100.1L220.3 100.3L220.5 100.8L220.4 101.8L220.6 102.6L220.6 104.2L220.8 104.7L220.5 105.4L220.1 106.1L219.4 106.7L218.5 107.1L217.4 107.6L216.3 108.7L215.9 108.8L215.2 109.5L214.8 109.8L214.7 110.5L215.2 111.2L215.4 111.8L215.4 112.1L215.6 112.1L215.5 113.1L215.4 113.5L215.6 113.7L215.5 114.1L215 114.5L214.2 114.8L213 115.4L212.6 115.7L212.7 116.2L212.9 116.2L212.8 116.7L212.6 117.5L212.5 118.3L212.2 118.8L211.5 119.3L211.3 119.4L210.9 119.9L210.6 120.4L210.1 121.1L208.9 122.2L208.2 122.8L207.5 123.2L206.4 123.6L205.9 123.7L205.8 123.9L205.2 123.8L204.7 124L203.6 123.8L203 123.9L202.6 123.9L201.5 124.3L200.7 124.4L200.1 124.8L199.6 124.8L199.2 124.5L198.9 124.4L198.4 124L198.4 124.1L198.2 123.9L198.2 123.3L197.9 122.6L198.2 122.4L198.2 121.7L197.6 120.7L197.1 119.9L196.3 118.6L195.6 117.8L195.2 117.1L195 116.1L194.7 115.4L194.4 113.8L194.4 112.7L194.3 112.1L193.9 111.7L193.3 110.9L192.8 109.7L192.6 109L191.8 108.1L191.7 107.3L191.6 106.7L191.8 105.8L192.1 104.9L192.2 104.5L192.5 103.5L192.7 103.1L193.3 102.5L193.6 102L193.7 101.3L193.7 100.7L193.4 100.4L193.1 99.8L192.9 99.2L192.9 99L193.2 98.6L192.9 97.6L192.7 96.9L192.2 96.3L192.3 96.1L192.2 95.8L191.9 95L191.1 94L190.1 93L189.4 92.1L188.8 91.1L188.8 90.8L189.1 90.5L189.3 89.7L189.5 89L189.3 88.8L189.7 87.7L189.8 86.9L189.4 86.3L188.9 86.1L188.7 85.7L188.5 85.5L188.5 85.2L187.5 85.6L187.1 85.5L186.7 85.8L185.9 85.7L185.4 85.1L185 84.4L184.3 83.7L183.6 83.7L182.7 83.7L181.9 83.9L181.1 84.1L179.5 84.7L178.9 85L178 85.3L177.1 85L176.7 85L176 84.8L175.3 84.8L174.2 85L173.5 85.3L172.5 85.7L172.3 85.6L172 85.6L171 85.2L170.1 84.4L169.2 83.9L168.6 83.2L168.3 83.1L167.6 82.7L167.1 82.2L166.9 81.8L166.8 81.1L166.3 80.5L165.9 80.1L165.7 80L165.4 79.8L165.3 79.3L165.2 79.1L164.9 79L164.3 78.5L163.9 78.5L163.7 78.2L163.7 78L163.4 77.8L163.3 77.6L163.2 76.8L163.3 76.4L162.9 75.6L162.4 75.3L162.8 75.1L163.3 74.4L163.5 73.9L163.4 73.3L163.7 72.8L163.8 71.9L163.7 70.9L163.6 70.4L163.7 69.9L163.5 69.4L162.9 69L163 68.6L163 68.1L163.4 67.8L163.7 67.3L163.7 67L164 66.3L164.6 65.6L164.9 65.5L165.2 64.9L165.2 64.4L165.6 63.8L166.2 63.4L166.9 62.4L167.4 62L168.3 61.9L169.1 61.2L169.6 60.9L170.4 60.1L170.2 58.8L170.6 58L170.7 57.4L171.3 56.8L172.3 56.3L173.1 55.9L173.8 54.9L174.1 54.2L174.8 54.2L175.4 54.7L176.4 54.6L177.4 54.8L177.8 54.8L178.8 54.3L179.9 54.1L180.5 53.7L181.5 53.4L183.2 53.2L184.8 53.1L185.3 53.3L186.3 52.9L187.3 52.9L187.7 53.1L188.4 53L189.5 52.6L190.2 52.8L190.2 53.3L191 52.9L191.1 53.1L190.6 53.6L190.6 54L190.9 54.3L190.8 55.2L190.2 55.7L190.3 56.2L190.9 56.2L191.1 56.7L191.5 56.9L192.7 57.2L193.1 57.1L193.9 57.3L195.2 57.7L195.7 58.6L196.6 58.8L198 59.2L199.1 59.7L199.6 59.5L200.1 59L199.8 58.2L200.1 57.8L200.8 57.3L201.5 57.2L202.9 57.4L203.2 57.8L203.6 57.8L203.9 58L204.9 58.1L205.2 58.4L206.5 58.4L207.5 58.7L208.4 59L208.9 59.1L209.7 58.8L210.1 58.5L211 58.4L211.7 58.6L212 59.1L212.2 58.7L213 59L213.8 59L214.3 58.8L214.6 58.5L214.5 58.4L214.8 57.9L215 57.2L215.1 56.9L215.5 56.1L216 55.4L215.9 54.6L216.2 54.2L215.8 53.7L216.2 53.4L215.6 53.4L214.7 53.2L214 53.8L212.5 53.9L211.7 53.4L210.6 53.3L210.4 53.7L209.7 53.9L208.7 53.3L207.6 53.3L207.1 52.4L206.3 51.8L206.8 51L206.2 50.5L207.3 49.6L208.8 49.5L209.2 48.8L211.2 48.9L212.3 48.3L213.5 48L215.2 48L216.9 48.7L218.3 49L219.5 48.9L220.4 49L221.6 48.5L221.7 48L221.4 47.4L220.9 47L220.3 46.9L220 46.6L218.7 45.7L217.5 45.3L216.7 44.8L217.4 44.6L218.2 43.8L217.7 43.4L219.2 43L219.1 42.7L218.2 42.9L217.4 43L216.8 43.3L215.8 43.4L215 43.7L215 44.4L215.5 44.6L216.5 44.5L216.3 44.9L215.2 45.1L213.9 45.6L213.3 45.4L213.6 45L212.4 44.7L212.6 44.5L213.6 44.1L213.3 43.9L211.7 43.7L211.7 43.3L210.8 43.4L210.4 44L209.6 45L209.1 45.2L208.8 45.1L208.6 46.3L208 46.7L207.7 47.4L208 48L208.1 48.4L209 48.7L208.8 49L207.6 49L207.2 49.3L206.4 49.9L206 49.4L205.4 49.1L204.9 49L203.7 49.3L204.4 49.9L203.9 50L203.3 50L202.8 49.5L202.6 49.7L202.8 50.3L203.3 50.8L203 51L203.5 51.5L204 51.8L204 52.3L203.1 52.1L203.4 52.6L202.8 52.7L203.2 53.6L202.5 53.6L201.7 53.1L201.3 52.4L201.1 51.7L200.7 51.2L200.2 50.7L200.2 50.4L200 50.3L200 50.1L199.4 49.8L199.3 49.3L199.4 48.6L199.5 48.3L198.4 47.5L197.5 47.1L196.9 46.8L196 46.5L195.2 45.8L195.4 45.7L194.9 45.3L194.9 44.9L194.3 44.8L193.9 45.2L193.7 44.9L193.7 44.5L193.1 44.3L192.6 44.6L192.3 45.1L192.6 45.9L193.5 46.4L194 47.2L195.1 48L195.9 48L196.2 48.3L195.9 48.5L196.8 48.8L197.5 49.1L198.4 49.6L198.5 49.8L198.3 50.2L197.7 49.7L196.9 49.6L196.4 50.2L197.2 50.6L197.1 51.1L196.6 51.2L196.1 52L195.7 52.1L195.7 51.8L195.9 51.2L196.1 51L195.7 50.5L195.4 50L195 49.8L194.7 49.4L194.1 49.2L193.6 48.8L192.9 48.8L192.1 48.3L191.2 47.6L190.5 47.1L190.2 46.1L189.7 46L188.9 45.6L188.4 45.8L187.8 46.2L187.4 46.3L186.5 46.9L184.6 46.6L183.1 46.9L183 47.5L183 48.1L182.1 48.8L180.8 49L180.7 49.3L180.1 49.9L179.7 50.7L180.1 51.3L179.5 51.7L179.3 52.4L178.6 52.6L177.8 53.3L176.6 53.3L175.6 53.3L175 53.7L174.6 54L174.1 54L173.8 53.6L173.5 53.1L172.6 52.9L172.1 53.2L171.6 53L171.1 53.1L171.2 52.4L171.2 51.7L170.7 51.6L170.5 51.3L170.6 50.6L170.9 50.2L171 49.8L171.2 49.2L171.2 48.8L171 48.5L171 48.1L171 47.4L170.6 47L172 46.2L173.2 46.4L174.6 46.4L175.7 46.6L176.5 46.5L178.1 46.6L178.6 46L178.8 44L177.8 42.9L177 42.4L175.5 42L175.4 41.3L176.7 41.1L178.4 41.4L178.1 40.2L179 40.6L181.3 39.9L181.6 39L182.5 38.9L183.3 38.6L183.8 38.4L184.7 36.9L186.1 36.5L186.9 36.5L187.1 36.3L187.9 36.2L188.1 36.5L188.8 36L188.6 35.6L188.5 35L188.1 34.5L188.1 33.5L188.3 33.2L188.5 32.9L189.4 32.8L189.9 32.4L190.6 32.3L190.6 32.8L190.2 33.1L190.4 33.4L190.9 33.5L190.7 33.9L190.4 33.8L189.7 34.5L189.9 35L189.9 35.4L190.9 35.6L190.9 36L192 35.8L192.5 35.5L193.7 35.9L194.1 36.2L194.8 36L196.4 35.5L197.6 35.1L198.6 35.3L198.7 35.6L199.7 35.6L199.9 35.1L201.3 34.8L201.1 34L201.1 33.2L201.6 32.6L202.5 32.2L203.3 33L204.1 33L204.3 32.2L204.4 31.6L204.1 31.7L203.4 31.4L203.3 30.8L204.6 30.5L205.9 30.4L206.9 30.5L208 30.5L209.1 30L208.1 29.5L206.3 29.6L204.5 29.9L202.9 30.1L202.3 29.6L201.3 29.3L201.5 28.3L201.1 27.4L201.5 26.8L202.4 26.2L204.7 25.1L205.4 24.9L205.3 24.5L203.9 24L202.2 24.3L201.2 25L201.4 25.6L199.8 26.4L197.8 27.2L197.1 28.7L197.8 29.4L198.8 29.9L197.9 31L196.8 31.3L196.4 33L195.9 33.9L194.7 33.8L194.1 34.6L192.9 34.6L192.6 33.7L191.8 32.6L191 31.1L190.4 30.5L188.4 31.7L187.1 31.9L185.7 31.4L185.3 30.3L185 28L185.9 27.4L188.6 26.5L190.5 25.5L192.4 24.1L194.8 22.2L196.4 21.4L199.2 20.2L201.4 19.7L203 19.8L204.6 19L206.4 19L208.2 18.8L211.3 19.5L210 19.8L211.1 20.4L212.1 20.1L213.8 20.7L216.5 20.9L220.3 22.1L221.1 22.5L221.1 23.2L220 23.7L218.4 24L213.9 23.2L213.2 23.4L214.8 24.1L214.9 24.6L214.9 25.6L216.2 25.9L217 26.1L217.1 25.7L216.5 25.2L217.2 24.9L219.6 25.5L220.4 25.2L219.8 24.5L222.1 23.5L223 23.6L223.9 23.9L224.5 23.2L223.7 22.7L224.2 22L223.4 21.4L226.2 21.8L226.8 22.3L225.6 22.4L225.6 23L226.3 23.3L227.9 23.1L228.1 22.5L230.2 22L233.7 21.1L234.5 21.2L233.5 21.8L234.7 21.9L235.4 21.6L237.3 21.5L238.8 21.1L239.9 21.7L241.1 21.1L240 20.5L240.6 20.2L243.5 20.5L244.9 20.8L248.5 21.9L249.2 21.4L248.2 20.9L248.1 20.6L246.9 20.5L247.3 20.1L246.7 19.3L246.7 19L248.5 18.1L249.2 17.2L249.9 17L252.6 17.2L252.8 17.8L251.8 18.6L252.5 18.9L252.8 19.6L252.6 21L253.7 21.6L253.2 22.3L251.3 23.7L252.4 23.8L252.8 23.5L253.9 23.2L254.2 22.7L255.1 22.2L254.5 21.7L254.9 21L253.8 20.9L253.6 20.4L254.4 19.4L253.1 18.5L254.9 17.9L254.7 17.2L255.2 17.2L255.7 17.7L255.3 18.7L256.4 18.8L255.9 18.1L257.6 17.7L259.6 17.7L261.5 18.2L260.6 17.4L260.5 16.3L262.2 16.2L264.7 16.2L266.8 16.1L266 15.5L267.2 14.9L268.3 14.9L270.3 14.4L272.9 14.2L273.2 14L275.9 13.9L276.7 14.1L278.9 13.5L280.8 13.6L281 13.1L282 12.7L284.4 12.3L286.1 12.6L284.7 12.9L287 13L287.2 13.5L288.1 13.3L291.1 13.3L293.3 13.8L294.1 14.2L293.9 14.7L292.8 15L290.1 15.5L289.4 15.8L290.6 16L292.1 16.2L293 16L293.5 16.7L294 16.4L295.6 16.2L298.8 16.4L299 16.9L303.2 17L303.3 16.3L305.4 16.4L307 16.4L308.6 17L309.1 17.6L308.5 18L309.7 18.8L311.3 19.2L312.2 18.2L313.9 18.6L315.6 18.3L317.5 18.7L318.2 18.4L319.9 18.5L319.1 17.6L320.5 17.2L329.5 17.8L330.4 18.4L333 19.2L337 19L339 19.1L339.8 19.5L339.7 20.3L340.9 20.6L342.3 20.4L344.1 20.3L345.9 20.5L347.8 20.4L349.6 21.3L350.8 21L350 20.3L350.4 19.9L353.6 20.2L355.7 20.1L358.6 20.6L360 21M0 21L2.4 21.8L5.1 22.8L5 23.4L5.7 23.7L5.4 22.9L8.1 23.1L10.1 24L9.1 24.5L7.5 24.6L7.4 25.5L7 25.8L6.1 25.7L5.3 25.4L4 25.1L3.8 24.6L2.8 24.5L1.6 24.6L1.1 24.3L1.3 23.9L0.1 24.1L0.6 24.6L0 25M226.7 45.4L227.5 46.5L227.7 47.5L228.6 48.2L229.1 48.7L229.6 49.4L230.4 49.7L229.5 50L229.2 50.9L228.9 51.6L229.1 52.4L230.1 52.6L230.8 53.1L232.3 53.3L233.8 53.1L233.9 52.8L233.7 52.1L233.9 51.1L233.1 50.7L233.4 50.1L232.7 50L232.9 49.1L232.8 48.9L232.5 48.2L232.9 47.9L232.5 47.2L231.3 46.9L231 45.7L230.3 45.4L231.3 44.8L232.5 44.6L233 44.7L233.2 43.8L233 43.1L231.2 43L230 43.4L229.1 43.6L228.6 44.2L227.7 44.4L226.7 45.4M177 31.4L175.9 32.5L176.9 32.3L178 32.3L177.8 33.1L176.9 34L177.9 34.1L178.9 35.4L179.6 35.5L180.2 36.7L180.5 37.1L181.7 37.3L181.6 37.9L181.1 38.2L181.4 38.7L180.6 39.2L179.2 39.2L177.5 39.5L177 39.3L176.4 39.8L175.5 39.7L174.8 40L174.2 39.8L175.7 38.8L176.6 38.6L175 38.4L174.7 38L175.8 37.7L175.2 37.2L175.4 36.5L176.9 36.6L177.1 36L176.4 35.4L175.2 35.2L174.9 34.9L175.3 34.5L174.9 34.2L174.4 34.7L174.4 33.7L173.8 33.2L174.2 32.2L175 31.4L175.8 31.5L177 31.4M173.8 36.1L174 36.9L173.2 37.7L171.4 38.3L170 38.2L170.8 37.1L170.3 36.1L171.7 35.3L172.4 34.9L173.3 34.8L174.3 35.5L173.8 36.1M165.5 23.5L165.3 24.2L166.4 24.9L165.1 25.6L162.2 26.3L161.3 26.5L160 26.4L157.2 26L158.2 25.6L156 25.1L157.8 24.9L157.8 24.6L155.7 24.4L156.3 23.7L157.9 23.6L159.4 24.3L160.9 23.7L162.2 24L163.8 23.5L165.5 23.5M195.1 10.3L195.5 10L197 10L198.2 10.3L201.5 11L199 11.4L198.5 12.2L197.6 12.4L197.1 13.2L195.9 13.2L193.8 12.6L194.7 12.3L193.2 12L191.2 11.1L190.4 10.3L193.2 10L193.7 10.3L195.1 10.3M207.4 9.9L205.9 10.5L203 10.6L200.1 10.4L199.9 10.2L198.5 10.1L197.4 9.7L200.5 9.4L201.9 9.6L202.9 9.3L205.4 9.6L207.4 9.9M204.7 12.2L202.5 12.6L200.7 12.3L201.4 12.1L200.8 11.8L202.9 11.5L203.3 11.9L204.7 12.2M231.4 18.5L233.5 19.2L237.5 19.3L236 18.3L235.5 17.6L236 16.7L238 15.6L239 15L241 14.7L244 13.6L248.2 13.1L246 12.7L242 13.1L238 14L235.6 14.9L234 16.1L232.5 17.5L231.4 18.5M227 9.6L229.5 9.8L231.5 9.3L229 9.1L227 9.6M279.9 11.1L277.8 11.2L275 11L273.3 10.6L272.5 9.9L271.2 9.7L273.8 9L275.9 8.8L277.9 9.2L280.2 10.2L279.9 11.1M279.4 12.1L281.3 10.8L282.8 10.7L285.4 11.3L284.7 11.7L279.4 12.1M318.8 13.9L321.5 13.9L325.1 14.4L324.3 15.2L320.6 15.2L319 15.4L317 14.7L317.5 14L318.8 13.9M326.1 14.8L328.2 14.7L330.7 14.9L329.6 15.3L327.9 15.2L326.1 14.8M321 16.6L322 16.1L323.5 16.5L323.6 16.8L322.1 16.8L321 16.6M360 18.5L358.7 18.9L358.9 19.2L360 19.2M0 19.2L1.3 19.1L2.3 18.9L2.4 18.7L1 18.4L0.1 18.4L0 18.5M323.6 39.2L324.6 41L323.2 40.7L322.6 42.1L323.5 43.2L323.5 43.9L322.8 43.3L322.1 44L321.9 43.2L322 42.2L321.9 41.1L322.1 40.4L322.2 39L321.6 38.1L321.7 36.7L322.6 36.2L322.2 35.8L322.6 35.6L323.3 37.3L323.2 38.2L323.6 39.2M323.9 45.8L324.6 46L325.3 45.6L325.5 46.7L324.1 47L323.2 48L321.6 47.3L321.1 48.4L320 48.4L319.8 47.4L320.3 46.7L321.4 46.6L321.7 45.2L322 44.5L323.1 45.5L323.9 45.8M321.9 50.8L321 51.8L321 52.9L320.6 53.7L320.8 54.2L320.2 54.9L319 55.3L317.2 55.4L315.8 56.5L315.1 56.1L315.1 55.4L313.3 55.6L312.2 56.1L311 56.1L311.9 55.3L312.6 54.6L314.6 54.3L315.7 54.5L316.7 52.7L317.4 53.2L318.9 52.2L319.4 51.8L320.1 50.6L319.9 49.4L320.3 48.8L321.4 48.6L321.9 50L321.9 50.8M309.4 56.7L310.4 56.4L310.9 55.8L311.9 56.1L312 57.3L311.3 58.5L310.7 59L310.2 58.6L310.4 57.7L309.8 57.4L309.4 56.7M314.6 55.9L314.8 56.2L314.2 56.8L313.8 56.5L313.3 56.7L313 57.3L312.4 57L312.4 56.5L312.9 55.9L313.5 56.1L313.9 55.6L314.6 55.9M301.8 65.6L301.2 67.2L300.8 68L300.2 67.2L300.1 66.4L300.7 65.5L301.5 64.7L301.9 65L301.8 65.6M290.3 71.3L289.5 71.8L288.7 71.5L288.6 70.6L289.1 70.2L290.2 69.9L290.8 69.9L291 70.3L290.6 70.7L290.3 71.3M300.6 71.5L301.9 71.8L302.2 73L301.6 74.1L301.7 75.7L302.5 75.7L303.9 76.2L304.2 77L303.3 77L302 76.2L301 76.4L300.6 75.7L300.9 75.4L300.2 75L299.9 73.6L300.4 72.4L300.6 71.5M306.4 81.6L306.5 82.2L306.5 82.8L306.2 83.7L305.8 82.7L305.4 83.2L305.7 84L305.4 84.4L304.2 83.8L303.9 83.1L304.2 82.6L303.6 82.2L303.3 82.6L302.8 82.5L302.1 83.1L301.9 82.8L302.3 82L302.9 81.7L303.5 81.3L303.8 81.8L304.6 81.5L304.8 81L305.5 81L305.4 80.2L306.2 80.7L306.3 81.2L306.4 81.6M304.3 77.5L305.5 77.8L305.8 79L305 78.8L304.3 77.5M304.3 78.5L305 78.8L305.2 79.6L304.8 79.9L304.3 78.5M302 78.6L303.1 78.5L302.5 79.4L302 79.5L302 78.6M303 79.1L303.5 80L303.1 81L302.4 80.3L303 79.1M297.2 81.6L299.7 79.5L299.6 78.7L298.5 80.7L297.2 81.6M300.3 76.5L301.5 76.9L301.2 77.8L300.3 76.5M303.3 78.8L304 79.2L303.6 80.4L303.3 78.8M297.9 85.9L297.3 86.8L298.1 87.7L297.9 88.2L299 89.1L297.8 89.2L297.5 89.9L297.5 90.8L296.6 91.5L296.5 92.5L296.1 94L296 93.7L294.9 94.1L294.5 93.5L293.8 93.4L293.3 93.1L292.1 93.5L291.7 93L291.1 93L290.2 92.9L290.1 91.6L289.6 91.3L289.1 90.5L288.9 89.6L289.1 88.7L289.7 88L290.4 88.3L291.2 88.2L291.4 87.3L291.8 87.1L293 86.9L293.7 86.1L294.2 85.5L294.7 86L295.4 84.5L296.2 83.9L296.7 83.1L297.1 83.1L297.6 83.6L297.7 84L298.4 84.3L299.2 84.6L299.1 85L298.4 85L298.6 85.5L297.9 85.9M275.3 84.5L275.9 84.6L277.5 84.8L278.4 85.7L279.1 86.4L279.7 86.8L280.6 87.9L281.7 87.9L282.5 88.6L283.1 89.4L283.8 89.9L283.4 90.7L284 91.1L284.4 91.1L284.5 91.8L284.9 92.3L285.6 92.4L286.1 93.1L285.9 94.3L285.8 95.8L284.7 95.9L283.9 95L282.6 94.2L282.2 93.6L281.4 92.8L280.9 92L280.1 90.7L279.3 89.8L279 89L278.6 88.2L277.7 87.5L277.2 86.7L276.4 86.1L275.4 85L275.3 84.5M285.5 91.6L286.5 92.2L286.8 93.1L285.9 92.5L285.5 91.6M286.1 95.9L287.3 96L288.1 96.3L288.5 96.4L288.6 96.8L290.5 96.9L290.8 96.5L292.6 97L293 97.6L294.5 97.8L294.6 98.8L293.5 98.3L292.6 98.4L291.5 98.3L290.6 98.1L289.4 97.7L288.7 97.6L288.3 97.8L286.4 97.3L286.3 96.9L285.4 96.8L286.1 95.9M294.6 98.2L295.7 98.4L296.6 98.2L296.5 98.8L295.2 98.8L294.6 98.2M296.8 98.6L297.6 98.4L298.7 98.3L299.1 98.7L297.5 99L296.8 98.6M299.9 98.4L300.7 98.2L302 98.1L302.9 98.1L302.8 98.6L301.3 98.9L299.9 98.8L299.9 98.4M299 99.6L300.8 99.8L300 100.2L299 99.6M305 98.9L305.1 98.7L305.9 98.4L306.6 98.4L307.3 98.4L307 98.7L305.9 99.1L305.1 99.4L304.4 100.1L303.6 100.4L303.5 100.2L303.6 99.9L304 99.3L305 98.9M305.2 88.6L304.4 89.6L303.7 89.8L302.7 89.6L301.1 89.6L300.2 89.8L300 90.5L300.9 91.4L301.5 91L303.3 90.6L303.3 91.1L302.8 90.9L302.4 91.5L301.5 91.9L302.4 93.2L302.3 93.5L303.2 94.7L303.2 95.3L302.6 95.6L302.2 95.3L302.7 94.5L301.7 94.8L301.5 94.6L301.6 94.2L300.9 93.6L301 92.6L300.3 92.9L300.4 94.1L300.4 95.5L299.8 95.7L299.4 95.4L299.6 94.5L299.5 93.5L299.1 93.5L298.8 92.8L299.2 92.2L299.3 91.3L299.8 89.8L300 89.4L300.9 88.7L301.7 89L302.9 89.1L304.1 89.1L305.1 88.4L305.2 88.6M307.9 87.8L308.6 88.5L308.7 88.9L308 89.5L308.9 89.7L308.1 90.9L307.7 90.3L307.4 89L307.9 87.8M308.1 93L310.5 93L310.8 93.8L308.2 93.5L308.1 93M306 93.2L307.2 93.3L306.9 93.8L306 93.6L306 93.2M321 92.6L322.7 93.3L324.6 93.9L325.3 94.4L325.8 94.9L326 95.5L327.6 96.1L327.9 96.6L327 96.7L327.2 97.4L328.1 98L328.7 99.1L329.3 99.1L329.3 99.5L330 99.7L329.7 99.9L330.8 100.3L330.7 100.6L330 100.7L329.8 100.4L328.9 100.3L327.9 100.1L327.1 99.5L326.6 98.9L326.1 98.1L324.7 97.6L323.9 97.9L323.3 98.2L323.4 99L322.6 99.3L322.1 99.2L321 99.1L320.1 98.3L319.1 98.1L318.9 98.4L317.6 98.4L318 97.6L318.7 97.3L318.4 96.2L317.9 95.4L316 94.5L315.2 94.5L313.7 93.5L313.4 94L313 94.1L312.8 93.8L312.8 93.3L312 92.8L313.1 92.5L313.8 92.5L313.7 92.2L312.2 92.2L311.8 91.6L310.9 91.4L310.5 90.9L311.9 90.7L312.4 90.4L314 90.8L314.1 91.2L314.4 92.8L315.5 93.4L316.3 92.3L317.4 91.7L318.3 91.7L319.2 92L319.9 92.4L321 92.6M328.3 95.6L329.9 95.5L330.4 95.5L331.6 94.2L332.4 94.3L331.5 95.6L330.2 96.3L329 96.1L328.3 95.6M330.8 92.7L332.2 93.2L333 94.5L332.6 94.8L331.5 93.3L330.8 92.7M334.7 95L335.5 96.2L335.9 96.8L335 96.5L334.7 95M339.7 99.3L340.6 99.6L340.5 99.9L339.8 99.8L339.7 99.3M340.9 98.3L341.5 99.6L341 99L340.9 98.3M338.2 97.3L339.5 98L339.9 98.5L338.6 97.8L338.2 97.3M336.5 96.6L337.5 97.2L337.3 97.4L336.5 96.6M346.6 104.6L347.2 105.5L346.8 105.7L346.6 104.6M347.8 106.2L348.2 106.6L347.9 106.6L347.8 106.2M344 110.1L345 110.5L347 112.2L346.6 112.4L345.3 111.6L344 110.1M357.3 107.4L358.4 107.3L358.6 108.1L357.4 108.2L357.3 107.4M358.7 106L360 106.2L359.4 106.8L358.7 106M261.8 82.5L261.6 83.5L261.2 83.8L260.4 84L259.9 83.2L259.7 81.8L260.1 80.2L260.8 80.7L261.3 81.4L261.8 82.5M229.5 102.5L229.8 102.9L230.1 103.6L230.2 104.8L230.5 105.2L230.4 105.7L230.2 106L229.9 105.4L229.7 105.7L229.9 106.5L229.8 106.9L229.5 107.1L229.4 108L229 109.1L228.6 110.5L227.9 112.4L227.6 113.8L227.1 114.9L226.3 115.2L225.4 115.6L224.8 115.3L224 115L223.8 114.5L223.7 113.6L223.3 112.8L223.2 112.1L223.4 111.3L223.9 111.2L223.9 110.8L224.4 110.1L224.5 109.4L224.2 109L224 108.3L224 107.4L224.3 106.8L224.4 106.2L224.9 106.2L225.5 106L225.9 105.8L226.3 105.8L226.9 105.2L227.7 104.6L228 104.1L227.9 103.7L228.3 103.8L228.8 103.1L228.9 102.5L229.2 102L229.5 102.5M323.6 103.8L323.9 104.5L324.6 104.2L324.9 104.6L325.4 105L325.3 105.4L325.5 106.3L325.6 106.8L325.9 106.9L326.2 107.8L326.1 108.3L326.4 109L327.5 109.5L328.2 110L328.9 110.4L328.7 110.6L329.3 111.3L329.7 112.3L330.1 112.1L330.5 112.6L330.7 112.4L330.9 113.5L331.6 114.1L332.1 114.5L332.9 115.3L333.1 116.1L333.2 116.6L333.1 117.3L333.6 118.1L333.5 119L333.3 119.5L333.1 120.3L333.1 120.9L332.9 121.6L332.4 122.5L331.7 123L331.3 123.8L331 124.3L330.7 125.2L330.3 125.7L330.1 126.4L329.9 127.1L330 127.4L329.4 127.8L328.3 127.8L327.4 128.2L326.9 128.6L326.3 129L325.5 128.6L324.9 128.4L325 127.9L324.5 128.1L323.6 128.8L322.8 128.5L320.6 128L320 127.4L319.8 126.6L319.6 126.1L319.1 125.7L318.1 125.6L318.4 125.1L318.2 124.4L317.7 125.1L316.8 125.3L317.4 124.7L317.5 124.1L317.9 123.6L317.8 122.9L317 123.8L316.4 124.1L316 124.9L315.2 124.5L315.2 124L314.6 123.2L314.1 122.8L314.3 122.6L313 122L312.3 122L311.3 121.5L309.5 121.6L308.2 122L307.1 122.3L306.1 122.2L305.1 122.7L304.2 123L304 123.5L303.7 123.9L302.8 123.9L302.2 124L301.3 123.8L300.6 123.9L299.9 124L299.3 124.5L299 124.5L298.5 124.8L298 125.1L297.3 125L296.6 125L295.6 124.4L295 124.2L295.1 123.6L295.6 123.5L295.7 123.3L295.7 122.9L295.8 122.2L295.7 121.6L295.2 120.6L295 120L295 119.5L294.6 118.8L294.6 118.5L294.2 118.1L294.1 117.3L293.5 116.5L293.3 116.1L293.8 116.5L293.4 115.6L293.9 115.9L294.2 116.3L294.2 115.8L293.7 115L293.6 114.7L293.4 114.4L293.5 113.8L293.7 113.6L293.8 113.1L293.7 112.5L294.1 111.8L294.2 112.5L294.6 111.8L295.5 111.5L295.9 111.1L296.7 110.7L297.2 110.6L297.4 110.8L298.2 110.4L298.8 110.3L299 110L299.2 110L299.8 110L300.9 109.7L301.4 109.2L301.7 108.7L302.2 108.2L302.3 107.8L302.3 107.2L303 106.4L303.4 107.3L303.9 107.1L303.5 106.6L303.8 106.1L304.3 106.3L304.4 105.6L304.9 105.1L305.2 104.7L305.7 104.5L305.7 104.2L306.1 104.3L306.1 104.1L306.6 104L307.1 103.8L307.8 104.3L308.4 104.9L309 104.9L309.6 105L309.4 104.4L309.9 103.6L310.3 103.4L310.2 103.1L310.6 102.5L311.2 102.2L311.7 102.3L312.6 102.1L312.6 101.6L311.8 101.3L312.4 101.1L313 101.4L313.6 101.8L314.4 102L314.7 101.9L315.3 102.2L315.9 102L316.3 102L316.5 101.9L316.9 102.3L316.7 102.9L316.3 103.3L316 103.3L316.1 103.7L315.8 104.2L315.4 104.7L315.5 105L316.3 105.5L317.1 105.9L317.6 106.2L318.3 106.8L318.6 106.8L319.1 107.1L319.3 107.4L320.2 107.7L320.9 107.4L321.1 106.8L321.3 106.4L321.4 105.8L321.7 105L321.6 104.6L321.6 104.3L321.5 103.7L321.6 102.9L321.8 102.7L321.7 102.4L321.9 101.9L322.1 101.3L322.1 101L322.5 100.7L322.8 101.2L322.9 101.8L323.1 101.9L323.2 102.3L323.5 102.8L323.6 103.4L323.6 103.8M327.7 130.8L328.3 130.9L328.4 132.1L328 132.4L327.9 133.2L327.6 132.9L326.9 133.6L326.7 133.6L326.1 133.6L325.4 132.7L325.3 132L324.7 131.2L324.7 130.7L325.4 130.8L326.4 131.1L326.9 131L327.7 130.8M354.6 126.2L355.3 127.2L355.4 126.5L355.8 126.8L356 127.6L356.8 127.9L357.4 128L358 127.6L358.5 127.7L358.3 128.6L358 129.2L357.2 129.2L356.9 129.4L357 129.9L356.9 130.1L356.5 130.6L356 131.3L355.2 131.7L355.1 131.4L354.6 131.3L355.2 130.5L354.9 129.9L353.8 129.5L353.9 129.2L354.6 128.8L354.7 128L354.7 127.4L354.3 126.7L354.3 126.5L353.8 126.1L353.1 125.2L352.6 124.5L353 124.5L353.6 125L354.3 125.3L354.6 126.2M352.8 130.5L353 130.9L353.2 131.3L354 130.9L354.2 131.3L354.2 131.8L353.9 132.2L353.2 133L352.7 133.4L353.1 133.8L352.3 133.9L351.4 134.2L351.2 134.9L350.6 135.9L349.8 136.4L349.3 136.6L348.4 136.6L347.8 136.3L346.7 136.2L346.5 135.8L347.1 135.1L348.3 134.1L348.9 133.9L349.7 133.6L350.5 133L351.1 132.5L351.6 131.8L351.9 131.5L352.1 131L352.8 130.5M212.3 54.9L213 54.6L214.6 54.3L213.9 54.9L214 55.4L213 55.4L212.3 54.9M203.5 54.7L204.3 54.6L206.3 54.7L206.2 55L204.7 55.1L203.5 54.7M192.4 52.2L193.5 51.8L195.6 51.7L195.1 53L194.3 53L192.4 52.2M188.2 49.1L189.2 48.8L189.8 49.5L189.6 50.8L188.8 51.1L188.4 50.8L188.4 49.6L188.2 49.1M188.7 47.4L189.4 47L189.6 47.8L189.2 48.6L188.8 48.4L188.5 47.7L188.7 47.4M182.4 50.4L183.2 50.1L183.4 50.5L182.7 50.7L182.4 50.4M192.7 34.4L192.1 35.2L191 34.6L190.9 34.2L192.4 33.9L192.7 34.4M189.8 34.5L190.5 34.5L190.8 34.9L190 35L189.8 34.5M198.2 33L198.8 32.4L198.9 32.1L198.3 32.6L198.2 33M188.5 86.3L188.9 86.3L188.7 86.8L188.5 86.3M219.2 95.8L219.5 96.4L219.3 96.2L219.2 95.8M326.5 45L328 44.7L327 45.1L326.5 45M306.2 56.6L306.9 56.5L306.5 56.8L306.2 56.6"/><path vector-effect="non-scaling-stroke" stroke-width="0.75" d="M57.2 41L84.8 41L84.8 40.6L85.2 40.6L85.4 41.2L85.7 41.3L86.4 41.4L87.4 41.5L88.4 41.9L89.2 41.7L90.4 42L90.7 42L91.6 41.7L95.1 43.1L95.2 43.4L95.5 43.5L95.4 43.6L95.7 43.6L95.9 43.5L95.9 43.7L96.1 43.9L96.4 43.9L96.5 44L96.4 44.2L97.5 44.6L97.7 45.6L97.9 46.4L97.6 47L97.1 47.6L96.9 47.9L96.9 48L97 48.2L97.3 48.3L97.6 48.3L98.7 47.8L99.8 47.6L101.1 47.1L101.1 47L101 46.7L100.8 46.5L101.3 46.4L103.2 46.4L103.5 46L103.6 45.9L104.7 45.2L105.1 45L106.7 45L108.5 45L108.6 44.7L108.9 44.7L109.3 44.5L109.7 44.1L110 43.3L110.8 42.5L111.1 42.8L111.8 42.6L112.2 42.9L112.2 44.3L112.9 44.9M39 20.3L39 29.7L40 29.7L41 30L41.7 30.4L42.6 31.1L43.5 30.5L44.5 30.2L45.1 30.7L45.7 31.1L46.6 31.6L48.3 33.5L50 34.1L50 34.7L49.5 35.2M62.9 57.5L64 57.4L65.3 57.3L65.2 57.5L66.7 58L69 58.7L71 58.7L71.8 58.7L71.8 58.2L73.5 58.2L73.9 58.6L74.4 58.9L75 59.4L75.3 59.9L75.5 60.4L76.1 60.7L76.9 61L77.5 60.2L78.3 60.2L79 60.6L79.5 61.3L79.9 61.9L80.5 62.5L80.7 63.2L81 63.6L81.8 63.9L82.5 64.2L82.9 64.1M87.8 75.5L87.9 74.9L87.8 74.8L88.2 73.9L89.5 73.9L89.6 73.6L89.3 73.3L88.5 72.8L89 72.8L89 72.2L90.9 72.2M90.9 72.2L91.2 72.1L91.5 71.5L91.7 71.5M90.9 72.2L90.8 73L90.8 74.1L91.1 74.1M91.8 74.3L91.3 74.7L90.8 74.9L90.8 75.1L90.7 75.6L90.4 75.6L90.5 75.8L89.9 76.3M90.7 75.6L91.2 75.9L91.5 76.2L92.2 76.6M92.7 77L93.1 76.8L93.2 76.2L94 75.9L94.5 75.9L95 75.5L95.5 75.4L96.8 75M94.3 78.9L95 79L95.6 79L96.1 79.3L96.3 79.1M97.5 80.4L97.1 80.9L97.1 81.2L97 81.8M102.7 81.3L102.5 81.5L102.8 82.1L102.5 82.4L102.1 82.8M108.3 72L108.3 71.7L108 71.4L108.3 71.2L108.4 70.8L108.3 70.3M108.7 78.2L107.8 78.9L107.4 79.2L107.1 79.5L107 80.3L107.3 81.4L107.6 81.6L107.6 82L107.5 82.4L107.6 82.6L107.8 82.7L108 83L109.3 82.9L109.9 83L110.6 83.9L111 83.8L112.3 83.7L112.7 83.9L112.5 84.4L112.3 84.8L112.2 85.5L112.4 86.2L112.7 86.5L112.7 86.7L112.2 87.2L112.5 87.4L112.8 87.8L113.1 88.8M113.1 88.8L113.7 89.3L114.5 89.2L114.7 88.9L115.4 88.7L115.8 88.5L115.9 88.1L116.6 87.8L116.6 87.6L115.7 87.5L115.6 86.9L115.6 86.2L115.2 85.9L115.4 85.8L116.1 86L116.9 86.2L117.2 86L117.9 85.8L119 85.5L119.4 85.1L119.3 84.8M119.3 84.8L118.6 84L118.9 83.8L118.8 83.3L119.5 83.1L119.7 83L119.4 82.6L119.5 82.2L120.2 81.6M119.3 84.8L119.8 84.8L120 85L119.9 85.4L120.2 85.6L120.5 86L120.2 86.4L120 87.2L120.3 87.8L120.3 88.2L121 88.7L121.5 88.7L121.6 88.5L121.9 88.5L122.3 88.3L122.7 88L123.2 88.1L123.5 88.1M123.5 88.1L123.2 87.6L122.8 87.2L122.7 86.7L122.4 86.7L122 85.9L122.1 85.4L122.1 85.2L122.7 84.9L122.8 84M123.5 88.1L124 88.2L124.1 88L123.9 87.8L124 87.5L124.4 87.6L124.9 87.5L125.5 87.7M125.5 87.7L125.7 87.3L125.8 86.8L126 86.4L125.6 85.8L125.5 85.1L126 84.2M125.5 87.7L126.2 87.6L126.5 87.7L126.6 88L127.1 87.9L127.4 87.5L127.8 86.8L128.3 85.8M113.1 88.8L112.9 88.9L112.7 88.3L112.5 88L112.1 88.3L110.2 88.3L110.2 88.9L110.8 89L110.8 89.4L110.5 89.3L110 89.5L110 90.2L110.4 90.5L110.6 91.1L110.1 94.3M110.1 94.3L109.6 93.8L109.3 93.7L110 92.7L109.2 92.3L108.6 92.3L108.2 92.2L107.7 92.4L106.9 92.3L106.3 91.3L105.9 91L105.6 90.5L104.9 90.1L104.6 90.2M104.6 90.2L104.2 89.9L103.7 89.6L103.4 89.7L102.6 89.6L102.3 89.2L102.1 89.2L101.1 88.6M104.6 90.2L104.8 90.9L104.5 91.6L103.4 92.6L102.2 93L101.5 93.9L101.4 94.5L100.8 95L100.4 94.5L100 94.3L99.6 94.4L99.5 94.1L99.8 93.8L99.7 93.4M110.1 94.3L109.2 94.2L107.1 95.3L106.8 96.1L106.9 96.6L106.3 96.9L106.3 97.3L106 97.5L106.4 98.4L107 99L106.8 99.5L107.4 99.5L107.8 100L108.7 100.1L109.5 99.5L109.5 101L109.9 101.1L110.5 101M110.5 101L111.3 102.6L111.1 102.9L111.1 103.6L111 104.5L110.7 105L110.8 105.3L110.6 105.7L111 106.5L110.4 107.6L110.1 108.1L109.6 108.3M110.4 107.6L110.9 108.3L111 109L111.6 109.4L111.2 110.4L111.8 111.5L112.2 112.9L112.9 112.7M112.9 112.7L113.7 111.8L115 112.1L115.6 112.8L116 112L117.2 112L117.3 112.2M117.3 112.2L117.7 111L117.7 110.5L118.2 109.6L120 109.3L120.9 109.4L121.8 109.9L121.8 110.2M110.5 101L111.2 101L111.7 101L112 100.7L112.8 100.3L113.3 99.9L114.7 99.8L114.6 100.5L114.7 100.9L114.6 101.6L115.7 102.5L116.8 102.6L117.2 103L117.9 103.2L118.3 103.5L118.9 103.5L119.5 103.8L119.5 104.3L119.7 105.1L119.5 105.1L119.8 106.3L121.8 106.3L121.6 106.9L121.7 107.3L122.3 107.5L122.5 108.2L122.3 109L122 109.4L122.2 110L121.8 110.2M121.8 110.2L122.1 110.7L122.1 112.1L123.1 112.3L123.5 112.1L124.2 112.4L124.4 112.7L124.5 113.6L124.6 114L125.3 113.8L125.7 114L125.7 114.6L125.6 115.2L125.4 115.7M125.4 115.7L125.2 116.6L124.3 117.4L123.5 117.5L122.4 117.4L121.4 117.1L122.4 115.6L122.2 115.2L121.2 114.8L120 114L119.2 113.9L117.3 112.2M125.4 115.7L125.9 115.5L126.4 116.1L126.3 116.9L125.5 117.5L124.8 117.9L123.7 118.8L122.4 120.2M122.4 120.2L122.1 121L121.9 122L121.9 123L121.7 123.3L121.6 123.9M122.4 120.2L123 120.1L124 120.9L124.4 120.8L125.4 121.5L126.2 122L126.8 122.7L126.3 123.2L126.6 123.8M112.9 112.7L112.7 114L111.6 114.5L111.4 116.5L111.7 116.9L111 117.5L110.3 118.5L110 119.4L110.1 120.3L109.5 121.4L109.9 123.1L110.2 123.3L110.2 124.2L109.6 125.2L109.6 126L108.9 126.7L108.9 127.6L109.2 128.6L108.6 128.9L108.3 129.8L108.1 130.8L108.2 132.1L107.8 132.2L108.1 133.4L108.5 133.8L108.2 134.2L108.7 134.4L108.8 134.8L108.3 135L108.5 135.6L108.1 136.9L107.5 137.7L107.7 138.2L107.3 138.9L106.6 139.3L106.7 140.4L107 140.7L107.7 140.7L107.7 141.4L108.1 142L110.5 142.1L111.4 142.3M111.4 142.6L111.4 144.9M171.2 48L171.7 47.7L172 48.2L172.6 48.2L172.8 48.1L173.3 48.1L173.6 48.6L173.2 48.9L173.1 49.7L173 49.8L172.9 50.3L172.5 50.4L172.9 51L172.6 51.6L173 51.9L172.8 52.2L172.5 52.6L172.6 52.9M178.1 46.6L178.5 47L180.3 47.4L180.7 47.2L181.8 47.7L183 47.5M182.5 38.9L182.7 39.2L183.1 39.2L183.6 39.6L184.3 40.1L184.8 40L185.7 40.5L185.9 40.6L186.2 40.5L186.7 40.8L188.1 41L187.6 41.7L187.5 42.4L187.2 42.5L186.7 42.5L186.8 42.7L186 43.3L186 43.7L186.5 43.6L186.8 44L186.8 44.3L187.1 44.7L186.8 45L187 45.8L187.6 45.9L187.4 46.3M183.3 38.6L184.1 38.7L185 38.5L185.6 39L185.7 39.2L186 39.2L186.2 39.5L186.1 39.9L186.2 40.1L186.2 40.5M185.7 40.5L185.8 39.9L186.1 39.9M186 39.2L186.1 38.8L186 38.2L186.6 38.1L186.8 37.8L187.1 37.8L187.1 36.9L186.9 36.5M188.5 35L189.3 35.2L189.9 35M194.1 36.2L194.3 36.8L194.1 37L194.4 37.4L194.7 37.9L194.6 38.2L195 38.9L194.6 39L194.3 38.9L194.1 39.1L193.3 39.3L193 39.5L192.2 39.7L192.4 40L192.5 40.5L193 40.7L193.6 41.1L193.2 41.6L192.9 41.7L193 42.4L192.9 42.5L192.6 42.3L192.1 42.3L191.4 42.5L190.5 42.4L190.4 42.7L189.9 42.4L189.6 42.5L188.5 42.2L188.3 42.4L187.5 42.4M189.6 42.5L189.6 42.6L189.5 42.9L189.9 43.1L190.4 43.1L190.4 43.5L189.9 43.7L189.2 43.6L189 44L188.5 44L188.3 43.8L187.8 44.2L187.3 44.2L186.8 44M190.4 43.1L191.1 43.2L191.2 43.1L192.2 42.9L192.4 43.2L193.8 43.5L194.6 43.6L195.1 43.3L196 43.3L196.2 43.1L196.5 42.5L196.3 42.3L196.9 42.3L197 41.9L197 41.4L196.5 41.2L196 41.3L195.2 41L194.9 41L194.3 41.4L193.6 41.1M193.8 43.5L193.7 44L193.9 44.4L193.7 44.5M193.7 44.5L194.4 44.5L195.3 44.5L195.3 44.3L195.7 44.2L195.8 43.8L196.6 43.5L196.2 43.1M196.6 43.5L196.9 43.6L197.6 44L198.5 44.2L198.8 44.1L199.1 44.5L199.4 44.8L199 45.1M199 45.1L198.6 44.9L197.9 44.9L197 44.8L196.5 44.8L196.3 45L196 44.8L195.8 45.2L196.2 45.6L196.5 46L196.9 46.3L197.3 46.5L197.7 47L198.6 47.4M199 45.1L199.4 45.1L199.1 45.6L199.6 46L199.5 46.3L199.2 46.5L198.7 46.8L198.6 47.4M199.2 46.5L199.6 46.8L200.3 47.1L200.1 47.4L199.8 47.5L199.7 47.3L199.3 47.8L199.4 48.1M198.8 44.1L199.6 43.8L200.2 43.9L200.8 44.3L200.9 44.6L201.5 44.8L201.6 45.2L202.2 45.5L202.5 45.3L202.7 45.4L202.5 45.6L202.7 45.8L202.4 46L202.5 46.4L203 46.8L202.6 47.1L202.4 47.4L202.6 47.5L202.4 47.7L201.9 47.7L201.6 47.8L200.8 48L200.6 48.1L200.5 47.8L200.3 47.7L200.1 47.4M200.6 48.1L200.5 48.5L200.6 48.9L201 49.2L200.7 49.6L200.2 50.4M201 49.2L201.7 49.1L202.1 48.9L202.6 48.9L202.8 48.7L202.9 48.7L202.9 48L202.4 47.7M202.9 48.7L203.7 48.7L204.5 48.4L205.2 48.8L206.1 48.7L206.1 48.2L206.6 48.4L206.3 49.1L206 49.4M206.1 48.2L207.1 47.9L208 48M202.7 45.8L202.9 46.2L203.3 46.1L204.1 46.3L205.6 46.3L206.1 46.1L207.2 45.8L208 46.2L208.6 46.3M200.2 43.9L201 43.7L201.6 43L202.1 42.3L202.7 42.1L203.1 41.9L204.4 42L204.9 42.3L205.2 42.1L206.6 41.8L207.2 42.2L207.6 42.6L208.1 43.2L208.2 43.6L208.1 44.1L208.2 44.5L208.7 44.7L209.2 44.5L209.6 45M206.6 41.8L206.9 41.6L207.5 41.5L208.3 41.8L208.7 41.9L209.1 42.1L209.1 42.5L209.4 42.6L209.6 43.1L209.9 43.3L209.8 43.5L210 43.6L209.8 43.6L209.2 43.6L208.9 43.6L208.9 43.7L208.7 44.1L208.5 44.4L208.2 44.5M197 41.9L197.9 42.2L198.7 42.1L198.8 41.9L199.2 41.9L199.7 41.7L199.8 41.8L200.2 41.7L200.5 41.4L200.8 41.4L201.9 41.7L202.1 41.6L202.7 42.1M197 41.4L197.1 41.2L197.6 41.2L197.9 41.1L198.1 41L198.2 40.7L198.4 40.7L198.6 40.5L198.8 40.5L199.3 40.4L199.8 40.8L200.4 40.6L200.9 40.7L201.6 40.5L202.6 40.9L202.3 41.2L202.1 41.6M195 38.9L195.5 39.2L196.2 39.3L196.2 39.6L196.7 39.8L196.9 39.5L197.6 39.6L197.7 40L198.4 40L198.8 40.5M202.6 40.9L202.8 41L202.5 40.5L203.4 39.7L203.9 39.6L204 39.3L203.5 38.4L203.5 38L203.2 37.5L203.8 37.3L203.8 36.9L203.5 36.5L203.5 36.1L202.7 35.7L200.9 35.7L199.7 35.6M202.7 35.7L202.7 35.4L202.8 35.1L202.3 35L201.3 34.8M203.5 36.1L204.4 36.1L205.5 35.7L205.8 35.1L206.6 34.8L206.5 34.4L205 33.8L204.9 33.6L202.2 33.7L201.1 34M206.5 34.4L207.1 34.2L208.2 33.8L207.8 32.8L207.3 32.5L206.5 32.5L205.6 32.1L205.2 32L204.3 32.2M207.3 32.5L207.7 32.2L207.4 31.3L208.1 30.7L208 30.5M208.2 33.8L209.2 34.1L209.4 34.3L209.9 34.2L210.9 34.5L211 34.9L210.8 35.2L211.4 35.8L211.8 36L211.7 36.2L212.4 36.4L212.7 36.6L212.3 36.9L211.5 36.8L211.3 36.9L211.5 37.3L211.8 37.9M203.5 38.4L204.6 38.1L205.3 38.1L206.3 38.2L207.4 38.4L208.2 38.4L208.6 38.6L209 38.4L209.2 38.6L210.2 38.6L210.6 38.7L210.6 38.2L210.9 38L211.8 37.9M211.8 37.9L212.2 37.9L212.4 37.7L212.7 37.8L213.8 37.7L214.4 38.2L214.1 38.4L214.2 38.7L215 38.8L215.4 39.2L215.4 39.4L216.6 39.8L217.4 39.6L218 40.1L218.6 40.1L220.1 40.4L220.1 40.7L219.7 41.2L219.9 41.8L219.7 42.1L218.8 42.2L218.3 42.5L218.2 42.9M208.1 29.5L210.2 28.2L211.1 27.6L211.5 27.1L210 26.5L210.4 25.8L209.5 25L210.2 24.2L209.1 23.1L210 22.3L208.4 21.6L208.6 20.9L209.4 20.8L211.1 20.4M203.9 24L203.6 23.6L203.5 22.1L202 21.4L200.7 20.9L201.2 20.6L202.4 21.2L203.7 21.1L204.7 21.3L205.7 20.9L206.2 20.2L207.7 19.8L209 20.2L208.6 20.9M191 31.1L191.5 30.6L192.3 29.9L192.6 28.7L192 28.2L191.9 26.9L192.6 25.9L193.6 26L193.9 25.5L193.6 25.2L195.1 23.8L196.1 22.7L196.8 22L197.7 22L198 21.4L199.9 21.6L200 20.9L200.7 20.9M173.8 36.1L173.1 35.9L172.4 35.9L172.6 35.4L172.4 34.9M221.6 48.5L222.6 48.4L223.6 48.9L223.8 49.3L223.7 49.8L224.4 50L224.8 50.3L224.1 50.6L224.4 51.7L224.2 52L224.8 52.8L224.3 53L223.9 52.7L222.8 52.6L222.3 52.8L221.2 52.9L220.7 52.9L219.5 53.3L218.7 53.3L218.2 53.1L217.1 53.4L216.7 53.2L216.7 53.7L216.4 54L216.2 54.2M220 46.6L220.9 46.6L222.4 46.8L223.8 47.3L223.9 47.5L224.5 47.3L225.5 47.5L225.8 47.9L226.4 48.1L226.2 48.3L226.6 48.8L226.5 48.9L226 48.9L225.2 48.6L225 48.8L223.6 48.9M225 48.8L225.2 49L225.6 49.2L225.4 49.4L225.9 49.8L225.6 50.1L226 50.4L226.5 50.5L226.5 51.2L226.1 51.3L225.7 50.7L225.3 50.5L224.8 50.3M226.5 51.2L227.7 50.5L228.1 50.4L228.4 50.7L228 51.2L228.6 51.7L228.9 51.7M226.4 48.1L226.7 48.2L227.4 48.8L227.8 48.9L228 48.6L228.6 48.2M222.3 52.8L221.8 53.4L221.3 53.6L221.4 54.4L221 55.6L218.8 56.6L216.8 57.7L215.7 57.3L215.8 56.7L216.6 55.8L216.4 55.4L216 55.4M215.1 56.9L215.5 56.9L215.6 56.7L215.8 56.7M215.7 57.3L215.6 57.6L215.4 58.5L215.4 58.9L214.9 60.5M214.3 58.8L214.9 60.5M218.8 56.6L219.2 57.8L219 58L217 58.5L218 59.5L217.7 59.7L217.5 60.1L216.7 60.1L216.5 60.5L216.1 60.8L215 60.6M219.2 57.8L220.4 58.1L221.9 58.8L224.7 60.8L226.6 60.9L227.3 59.9L228 60M226.6 60.9L227.5 61L227.7 61.5L228.4 61.5M224.8 52.8L225.4 54L226.1 54.3L226.2 54.9L225.7 55.2L225.4 56L226.1 57L227.3 57.5L227.8 58.3L227.7 59L228 59L228 59.5L228.6 60.1M230.8 65.2L231.1 65.4M231.6 65.8L232 67L235 67.5L235.2 67.3L235.7 68L235 70L232 71L229.1 71.4L228.2 71.8L227.5 72.9L227 73L226.8 72.7L226.4 72.8L225.4 72.7L225.2 72.6L224.1 72.6L223.8 72.7L223.4 72.4L223.1 72.9L223.2 73.3L222.8 73.7M232 71L233.1 73.3M235.2 67.3L235.2 66.9L235.5 66.5L235.5 66.1L236 65.9L235.8 65.7L235.9 65.1L236.4 65.1M229.1 43.6L228.6 43.4L228.7 42.9L228.1 42.3L227.3 42.3L226.5 41.6L227 40.9L226.8 40.6L227.6 39.5L228.6 40.1L228.7 39.4L230.8 38.3L232.3 38.3L234.5 39L235.7 39.4L236.8 39L238.4 38.9L239.6 39.5L239.9 39.2L241.3 39.2L241.6 38.7L240 38L240.9 37.5L240.7 37.3L241.7 37L241 36.3L241.4 36L245.2 35.6L245.7 35.4L248.2 35L249.1 34.6L250.9 34.8L251.2 35.9L252.2 35.6L253.5 36L253.4 36.5L254.4 36.5L256.9 35.5L256.5 35.8L257.8 36.6L260 39.1L260.6 38.6L261.9 39.2L263.4 38.9L263.9 39.1L264.4 39.7L265.1 39.9L265.5 40.3L266.8 40.2L267.4 40.8L267.8 40.7M267.4 40.8L266.6 41.5L265.8 41.5L265.7 42.5L265.2 43L263.2 42.7L262.5 44.5L261.9 44.7L260 45.1L260.9 46.8L260.2 47.1L260.3 47.6M260.3 47.6L259.6 47.5L259.1 47.1L257.7 47L256 47L255.6 47.1L254.2 46.7L253.7 46.9L253.5 47.5L251.8 47.1L251.2 47.3L251 47.7M251 47.7L250.4 47.9L249.1 48.6L248.6 49.3L248.3 49.3L248 48.9L246.7 48.8L246.5 48L246 48L246.1 47L244.9 46.3L243.2 46.4L242 46.5L241.1 45.6L238.7 44.5L238.5 44.4L235.9 45L236 48.7M236 48.7L235.5 48.7L234.8 48L234.1 47.7L232.9 47.9L232.5 48.2M236 48.7L237.1 48.7L236.9 48.2L237.8 47.8L238.6 47.2L240 47.8L240.1 48.6L240.5 48.8L241.6 48.7L241.9 48.9L242.4 50L243.5 50.6L244.2 51.1L245.2 51.6L246.6 52L246.5 52.6M233.9 52.8L234.8 52.6L235.5 52L236.2 52.1L236.6 51.9L237.3 52L238.4 52.5L239.2 52.6L240.4 53.5L241.1 53.5L241.2 54.4M241.2 54.4L242.2 54.7L243 54.6L243.2 54.1L244 54L244.6 53.7L244.8 52.9L245.6 52.7L245.8 52.3L246.2 52.6L246.5 52.6L247.1 52.6L247.8 52.9M247.8 52.9L248.1 53L248.9 52.7L249.2 52.9L249.5 52.4L250.1 52.4L250.3 52.3L250.4 51.9L250.8 51.5L251.3 51.7L251.2 52L251.5 52.1L251.4 52.9L251.8 53.3L252.2 53L252.6 53L253.3 52.5L253.9 52.6L255 52.6M247.8 52.9L248.2 51.1L247.4 50.9L247.7 50.4L248.5 50.5L249 49.9L249.3 49.3L250.7 49L250.4 49.6L250.8 49.3L251 49.8L251.8 49.9L253.1 49.1L251.9 48.6L251.2 48.9L250.4 48.5L251.3 47.8L251 47.7M249.5 50.5L250.5 50.4L251.8 50.7L253.7 50.6M260.3 47.6L260.1 47.9L258.5 48.4L258.2 48.8L256.9 48.9L256.5 49.6L255.5 49.4L254.8 49.6L253.8 50.1L254 50.3L253.7 50.6L253.9 51.5L254.3 51.4L254.9 51.6L254.8 52L255 52.6M251.8 53.3L251.3 53.9L251.5 54.4L251.6 54.9L251.1 55.3L251.2 55.6L250.9 56L249.9 56L250.3 56.6L249.7 56.9L249.3 57.5L249.3 58.1L248.9 58.4L248.6 58.3L247.8 58.4L247.7 58.7L246.9 58.7L246.4 59.3L246.3 60.1L245.1 60.5L244.3 60.4L244.2 60.7L243.6 60.5L242.6 60.7L240.9 60.2M252.2 53L252.9 53.3L254.1 53.2L254.6 53L255 52.6M240.9 60.2L241.8 59.3L241.7 58.6L240.9 58.5L240.9 57.8L240.5 57L241 56.5L240.5 56.3L240.8 55.6L241.2 54.4M240.9 60.2L241.4 60.7L241.8 61.3L242.7 61.7L242.8 62.6L243.2 62.8L243.3 63.2L241.9 63.8L241.5 64.9M248.2 66.3L248.8 65.6L251 65.6L250.8 64.8L250.3 64.3L250.2 63.5L249.5 63.1L250.6 62L251.8 62.1L252.8 61L253.4 60L254.4 59L254.4 58.3L255.3 57.7L254.4 57.2L254.1 56.6L253.8 55.7L254.2 55.2L255.8 55.5L256.9 55.4L257.8 54.5M257.8 54.5L256.2 54.1L255.9 53.3L255.2 52.9L255 52.6M257.8 54.5L258.9 55.7L258.8 56.5L259.2 57L259.2 57.5L258.5 57.4L258.7 58.5L259.7 59.1L261.1 59.8M261.1 59.8L262.3 59.9L263.3 60.5L263.9 60.7L264.2 61.2L265 61.4L265.8 61.8L266.9 62L268.1 62.1M261.1 59.8L260.5 60.3L260.1 61.2L261.1 61.6L262 62.1L263.3 62.6L264.7 62.8L265.2 63.3L266 63.4L267.2 63.6L268.1 63.6L268.2 63.2L268 62.5L268.1 62.1M268.1 62.1L268.7 61.9L268.8 62.7L269.5 62L270 61.7L270.7 61.9L271.3 62L271.7 62.2L272.1 62.5L272 63.2L271.2 63.2L270.4 63.1L269.7 63.3L268.8 62.7M271.7 62.2L272.5 62.1L273.4 61.4L274.6 60.7L275.4 61L276.1 60.5L276.6 61.2L276.2 61.6L277.3 61.7M277.3 61.7L277.4 62.1L277.1 62.3L277.1 62.9L276.4 62.7L275.1 63.4L275.2 64L274.6 64.8L274.6 65.3L274.1 66.2L273.3 65.9L273.3 67L273.1 67.3L273.2 67.7L272.7 68M272.7 68L272.1 66.4L271.9 66.4L271.7 67L271.2 66.5L271.5 65.9L271.9 65.9L272.4 65L271.8 64.8L270.9 64.9L269.9 64.7L269.8 64L269.4 64L268.6 63.5L268.2 64.2L268.9 64.8L268.3 65.1L268.1 65.5L268.7 65.8L268.5 66.4L268.9 67.1L269 67.9M272.7 68L272.6 68.7L272.3 68.5L272.4 69.3M277.3 61.7L277.9 61.7L278.2 62.2L278.7 62.5L278.7 63.3L278.7 64.1L277.7 64.9L277.6 66.1L278.7 65.9L278.9 66.9L279.5 67L279.2 67.9L280 68.3L280.4 68.4L281.1 68.2L281.2 68.6M280.1 69.6L280.3 69.2L281.2 68.6M280.1 69.6L279.5 69.8L279 70.2L278.2 70.3L277.8 71.4L277.4 71.5L277.9 72.4L278.5 73.2L278.9 73.8L278.5 74.7L278.2 74.9L278.4 75.4L279.1 76.2L279.2 76.7L279.2 77.2L279.6 78.1L279 79L278.6 80.1M281.2 68.6L281.3 68.8L281.8 68.8L281.6 67.7L282.2 67.5L282.7 67.3L283.5 67.3L284.5 67.2L285.3 66.7L285.8 67L286.7 67.2L286.6 67.8L287 68.2L288.1 68.5M282.2 67.5L282.8 68.3L283.2 69.2L284.4 69.2L284.8 70.1L284.2 70.4L283.9 70.7L285.1 71.3L286.6 73.4L287.3 74.1L287.6 74.8L287.4 75.8M280.1 69.6L280.6 69.9L280.6 70.5L281.3 70.5L281 71.6L281.1 72.5L282.1 71.9L282.4 72.1L283.2 71.7L284 71.8L284.7 72.6L284.8 73.6L285.6 74.4L285.5 75.3L285.2 75.7M285.2 75.7L286 76.1L286.5 75.4L287.4 75.8M285.2 75.7L284.3 75.6L283 75.8L282.4 76.6L282.6 77.8M287.4 75.8L287.6 76.5L287.5 77.7L285.8 78.4L286.2 79L285.2 79.1L284.3 79.5M280.1 83.5L280.3 83.4L281.1 83.8L281.1 84.3L281.8 84.2L282.1 83.8M267.8 40.7L268.8 40.5L270.7 39.7L272.2 39.2L273.1 39.5L274.1 39.5L274.8 40L275.8 40L277.3 40.3L278.2 39.6L277.8 39L278.9 38L280 38.4L280.9 38.5L282.1 38.7L282.3 39.5L283.7 39.9L284.6 39.7L285.9 39.6L286.9 39.7L287.9 40.2L288.5 40.7L289.4 40.7L290.7 40.9L291.6 40.6L292.9 40.5L294.4 39.8L295 39.9L295.5 40.2L296.7 40.1M267.8 40.7L268 41.4L268.9 41.9L270.3 42.3L271 43.1L270.6 44.3L270.9 44.7L272.1 44.9L273.5 45L274.7 45.6L275.3 45.8L275.8 46.7L276.4 47.3L277.4 47.2L279.5 47.5L280.9 47.3L281.8 47.5L283.3 48.1L284.5 48.1L285 48.4L286.1 47.9L287.7 47.5L289.2 47.5L290.4 47.1L291.1 46.6L291.8 46.3L291.7 45.9L291.4 45.5L291.9 44.9L292.4 45L293.5 45.2L294.5 44.7L296 44.3L296.7 43.6L297.4 43.3L298.9 43.2L299.7 43.3L299.8 43L298.9 42.2L298.1 41.9L297.3 42.3L296.3 42.1L295.7 42.3L295.5 41.9L296.2 40.9L296.7 40.1M296.7 40.1L297.9 40.5L299.3 39.9L299.3 39.4L300.2 38.4L300.7 38L300.7 37.5L300.2 37.2L301 36.8L302.2 36.6L303.6 36.5L305.1 36.8L305.9 37.2L306.6 38.2L306.9 38.6L307.3 39.3L307.7 40.2L309.4 40.6L310.6 41.3L311 42.2L312.5 42.2L313.4 41.8L315 41.5L314.5 42.4L314.1 42.8L313.8 43.9L313.1 44.9L311.9 44.7L311 45L311.3 45.9L311.1 47.1L310.6 47.1L310.6 47.6L310.8 47.8M310.6 47.6L310.3 47.1L309.6 47.6L308.1 48L308.2 48.5L307.3 48.5L306.9 48.2L306.2 48.9L305.1 49.4L304.3 50.1M306.2 52.2L306.7 52.2L307.1 51.7L307.8 51.7L308.4 51.4M289.7 88L289.8 88.7L290.5 89.2L291.2 89L291.8 89.1L292.4 88.6L292.9 88.5L293.8 88.8L294.6 88.6L295.1 87.2L295.5 86.8L295.9 85.7L297 85.7L297.9 85.9M294.2 85.5L294.7 86L295.4 85.7L295.4 84.5M321 92.6L321 96.9L320.9 97L321 99.1M305 98.9L305.1 99.4M177.8 54.8L178.2 55.5L178.3 56.1L178.6 57.1L178.9 57.4L178.7 57.7L177.4 57.9L176.9 58.3L176.3 58.4L176.3 59.1L175.1 59.5L174.8 60L173.9 60.3L172.9 60.4L171.3 61.2L171.3 62.3M171.3 62.3L166.9 62.4M163 68.6L167 68.7L167 67L168 66.5L168 64L171.3 64L171.3 62.3M171.3 62.7L175.2 65L181.8 69.4L182.1 69.9L183.2 70.3L183.2 70.9L184.3 70.8L185.7 70.4L188.6 68.4L192 66.5L191.6 65.9L190.8 65.4L190.3 65.6L189.9 63.8L189.3 63.9L189.9 62.2L189.9 61L189.5 59.7L189.1 57.9L188.4 57.5L188.4 57.2L187.6 56.7L187.5 55.9L188.1 55.3L188.4 54.5L188.2 53.6L188.4 53M189.5 59.7L190 59L190.4 58.2L191.1 57.4L191.5 56.9M175.2 65L173.6 65L174.5 73.7L174.5 74.5L170.4 74.5L169.9 74.7L169.3 74.9L168.7 74.6L168.3 74.6L168.2 75.2L167.8 75.4M167.8 75.4L167.2 74.7L166.6 74L165.9 73.7L165.4 73.4L164.9 73.4L164.4 73.6L163.9 73.5L163.5 73.9M167.8 75.4L167.9 76L168.1 76.6L168.5 77.6M163.2 76.8L164.1 76.9L164.3 76.7L164.5 76.7L164.9 76.5L165.3 76.7L165.7 76.7L166.2 76.5L165.9 76.2L165.6 76.4L165.3 76.4L164.9 76.1L164.6 76.1L164.4 76.4L163.3 76.4M163.3 77.6L163.8 77.5L164.2 77.5L164.4 77.4L166.3 77.4L167.5 77.7L167.7 77.7L168.5 77.6M166.3 77.4L166.3 77.8L166.2 77.9L166.3 78.2L166.1 78.3L165.9 78.3L165.6 78.5L165.3 78.5L164.9 79M168.5 77.6L168.5 77.9L168.7 77.9L169.1 77.8L169.4 78.1L169.8 78.2L170.1 77.9L170.4 77.8L170.7 77.7L170.9 77.7L171.1 77.9L171.2 78.2L171.6 78.6L171.4 79.2L171.4 79.5L172 79.8M166.8 81.1L167.3 80.7L167.4 80.4L167.6 80.2L167.8 80.1L168.1 80L168.9 80L169.2 80.3L169.4 80.7L169.3 81L169.5 81.3L169.5 81.7L169.8 81.6M168.6 83.2L168.8 82.9L168.8 82.6L169.3 82.1L169.8 81.6L170 81.6L170.2 81.5L170.7 82.1L170.6 82.5L170.8 82.7L171.1 82.7L171.3 82.3L171.6 82.3M171.6 82.3L171.7 82.3L171.8 81.9L171.7 81.7L171.8 81.5L172.2 81.4L171.9 80.6L171.7 80.2L171.8 79.9L172 79.8M171.6 82.3L171.5 82.6L171.6 83.1L171.4 83.5L171.7 83.8L172 83.9L172.4 84.3L172.5 84.7L172.4 84.8L172.3 85.6M172 79.8L172.1 79.7L172.4 79.8L173.2 79.9L173.3 79.6L173.5 79.6L173.8 79.5L174.2 79.8L174.6 79.6M174.6 79.6L175.1 79.8L175.2 80.2L175.7 80.4L176 80.1L176.5 80.1L177.2 80.4L177.4 81.8L177 82.6L176.8 83.8L177.2 84.6L177.1 85M174.6 79.6L174.8 78.3L175.6 77.5L175.7 76.8L176 76.5L176.5 76.7L176.9 76.5L177 76.2L177.8 75.8L178 75.4L178.9 75L179.5 74.9L180.4 75.1L181 75L181.4 74.7L183.6 74.4L183.7 73.8L184.3 73.2L184.3 70.8M180.4 75.1L180.3 75.6L180.4 76L181 76.7L181 77.2L182.2 77.4L182.2 78.1M177.2 80.4L177.1 79L178.8 79L179.2 79.1L179.6 78.9L180 79L180.9 79L181.2 78.9L181.4 78.5L181.9 78.4L182.2 78.1M180 79L179.9 79.3L180.4 79.8L180.4 80.5L180.5 81.3L180.7 81.7L180.5 82.6L180.6 83.1L180.8 83.7L181.1 84.1M180.9 79L180.8 79.5L181.1 79.8L181.4 80.2L181.5 80.7L181.7 80.9L181.6 83.2L181.9 83.9M182.2 78.1L182.4 78.1L182.8 77.8L183.6 78.3L183.6 78.7L183.8 79.3L183.6 79.7L183.7 79.9L183.2 80.6L182.9 80.9L182.7 81.5L182.8 82.1L182.7 83.7M183.6 78.3L183.7 77.5L184 77L184.1 76.5L184.4 76.2L185.4 76.1L186.4 76.5L186.8 76.9L187.3 76.9L187.8 76.7L189 77.2L189.5 77.2L190.1 76.7L190.7 76.8L191 76.6L191.5 76.7L192.3 77L193.1 76.4L193.3 76.4L193.6 76.3M193.6 76.3L193.5 75.6L194 74.3L195.2 73.4L195.3 72.1L195.7 70L195.9 69.6L195.5 69.3L195.5 69L195.1 68.7L194.8 67.1L194.1 67.5L193.6 67L192 66.5M194.8 67.1L195.9 66.6L199.8 68.5L203.8 70.4L203.9 74.4L203 74.3L202.6 75.1L202.3 75.7L202.5 75.9L202.2 76.2L202.3 76.6L202 77L201.9 77.4L202.3 77.3L202.5 77.7L202.5 78.3L202.9 78.6L202.9 78.9M193.6 76.3L194.2 77.5L194.6 77.9L194.5 78.1L194.4 78.4L193.6 79.2L193.3 79.8L193.2 80.4L193 80.6L192.8 81.3L192.2 81.7L192.1 82.2L191.8 82.6L191.8 83L191.1 83.4L190.5 82.9L190.1 83L189.5 83.5L189.2 83.6L188.8 84.5L188.5 85.2M194.2 77.5L194.6 78.4L195 79.1L195.5 80L194.9 80L194.6 80.1L194.2 80L193.9 80.5L194.5 81L195.4 82.3M195.4 82.3L195.3 82.6L194.8 83.6L194.5 83.8L194.5 84.5L194.6 85L194.5 85.3L194.9 85.8L195 86.2L195.4 86.7L195.9 87L196 87.7L195.9 88.3L195.2 88L194.3 87.8L193.1 87.7L192.9 87.7L192.4 87.8L191.8 87.7L191.3 87.7L189.7 87.7M191.3 87.7L191.3 88.9L189.5 89M193.1 87.7L193.3 88.7L194 88.6L194.3 88.8L193.8 90L194.3 90.5L194.4 91.3L194.3 92L194 92.5L193.1 92.4L192.6 92L192.5 92.4L191.8 92.5L191.5 92.8L191.9 93.4L191.1 94M198.4 86.5L198.4 87.1L198.1 87.6L197.9 88.3L197.8 89.1L197.8 89.7L197.7 90.1L197.6 90.4L197.5 90.7L196.9 91.2L196.4 91.7L196 92.7L196 93.5L195.8 93.9L195.2 94.3L194.6 95L194.2 94.8L194.1 94.5L193.6 94.5L193.3 94.9L193 94.8L192.6 94.4L192.3 94.6L191.9 95M192.6 95L192.5 95.2L192.4 95.7L192.2 95.8M196 87.7L196.5 86.8L197.1 86.3L197.8 86.4L198.4 86.5L198.5 85.8L198.9 85.3L199.5 85L200.3 85.3L200.9 85.7L201.7 85.8L202.4 86L202.7 85.4L202.8 85.3L203.3 85.4L204.4 84.9L204.8 85.1L205.1 85.1L205.3 84.8L205.7 84.7L206.4 84.8L207 84.9L207.4 84.8M195.4 82.3L196.1 82.5L196.3 82.2L196.5 82.3L196.7 82.5L198 82.1L198.4 81.7L198.9 81.4L198.8 81L199.1 80.9L200.1 81L201 80.5L201.7 79.4L202.2 79L202.9 78.9L203 79.3L203.6 79.9L203.6 80.3L203.4 80.7L203.5 81L203.8 81.3L204.6 81.8L205.1 82.2L205.1 82.5L206.2 83.5L206.5 84L207.2 84.5L207.4 84.8M203.8 70.4L205 70L205 68L216.9 68M205 68L205 60.8L204.7 60L205 59.3L204.8 58.9L205.2 58.4M203.8 81.3L204.5 81.1L205.1 79.7L205.8 79.6L206.5 80.5L207.1 80.4L208 80.6L209 80.6L209 80.4L209.5 80.2L209.6 79.9L210 79.7L210.8 80.3L211.3 80.2L211.8 79.5L212.4 78.9L212.3 78.3L212.1 78L212.7 78L212.7 77.8L213.2 77.8L213.1 78.6L213.2 79.3L213.8 80L214 80.4M214 80.4L214 81.3L213.8 81.6L213.3 81.7L212.9 82.2L213.6 82.3L214.1 82.8L214.2 83.2L214.7 83.4L215.3 84.5L215.8 84.7M214 80.4L214.1 80.5L214.3 79.4L214.7 79.1L214.8 78.7L215.3 77.9L215.9 77.4L216.3 76.4L216.4 75.6M216.4 75.6L216.3 75.2L216.8 73.7L216.8 73L217.2 72.7L217.9 72.6L218.4 72M216.4 75.6L217.6 75.8L217.9 75L218.5 75.5L219.1 75.3L219.3 75.5L220 75.5L220.9 75.9L221.2 76.2L221.6 76.5L222 77.1L222.3 77.5L222.8 77.5L223.1 77.3M222.3 77.5L222 77.9L221.7 78.4L221.7 78.6L221.8 79L222.3 79L222.6 78.9L222.8 79.1L223.2 78.5M222.8 79.1L223.2 80L223.7 80.8L226.9 82L227.8 82L225 85L223.7 85L222.8 85.8L222.1 85.8L221.9 86.1M228.9 78.6L228.9 80.5L228.5 81.2L227.8 82M221.9 86.1L221.2 86.1L220.8 85.7L219.9 86.2L219.6 86.6L218.9 86.5L218.7 86.4L218.4 86.4L218.1 86.4L216.9 85.5L216.2 85.5L215.8 85.2L215.8 84.7M221.9 86.1L221 87.2L221 90.9L221.6 91.7M215.3 84.5L214.6 85.2L214 85.8L214.5 86.4L214.6 87L215 88.1L214.7 88.8L213.9 89.9L213.9 91M214 85.8L213.4 86.2L212.7 86.2L211.9 86.4L211.2 86.2L210.8 86.5L209.9 85.8L209.7 85.4L209.2 85.6L208.7 85.5L208.4 85.7L208 85.6L207.4 84.8M210.8 86.5L210.8 87.7L211.2 87.8L210.8 88.2L210.5 88.4L210.1 88.9L209.9 89.4L209.8 90.2L209.6 90.6L209.6 91.3L209.8 91.4L210.4 91.1L210.8 91L213.9 91M209.6 91.3L209.3 91.6L209.2 92.2L209.1 92.3L209 92.8L209.6 92.9L209.9 92.3L210.5 92.4L210.8 91.7L210.4 91.1M210.5 92.4L210.5 92.8L210.7 93L210.8 93.4L210.5 93.6L210.1 94.1L209.8 94.5M209 92.8L209.3 93.3L209.3 94.5L209.8 94.5L209.5 95.4L209.4 95.9L209.6 96.5L210.2 97.1L210.7 98.3M210.7 98.3L208.7 98.5L208.4 99.2L208.7 99.6L208.5 100.8L208.4 101.8L208.6 102L209.3 102.4L209.6 102.2L209.7 103.3L208.9 103.2L208.5 102.7L208.2 102.3L207.4 102.1L207.2 101.6L206.6 101.9L205.8 101.8L205.4 101.3L204.8 101.2L204.3 101.3L204 100.9L203.5 100.9L202.8 101L202.4 101L202.2 101.1L202.2 99.9M202.2 99.9L201.9 99.5L201.8 98.9L201.9 98.3L201.8 97.9L201.7 97.3L200.5 97.3L200.6 96.9L200.1 96.9L200 97.1L199.4 97.2L199.2 97.7L199 98L198.5 97.8L198.1 98L197.5 98.1L197.1 97.5L196.9 97.2L196.6 96.6L196.3 95.9L193.4 95.9L193 96L192.7 96L192.3 96.1M204 100.9L204 103L202 103L202 106.1L203.2 107.5M191.7 107.3L192.2 107.1L192.8 106.9L193.5 107L194.1 107.4L194.2 107.3L198.3 107.3L199 107.8L201.4 107.9L203.2 107.5L204 107.3L204.7 107.3L205.1 107.7L205.3 107.7M205.1 107.7L204.5 107.9L204.2 107.9L203.6 108.3L203.2 107.9L201.7 108.2L200.9 108.2L200.9 111.8L199.9 111.8L199.9 114.8L199.9 118.5L199 119L198.5 119L197.8 118.9L197.4 118.8L197.2 118.4L196.8 118.1L196.3 118.6M199.9 114.8L200.2 114.9L200.8 115.9L200.7 116.5L200.9 116.8L201.6 116.7L202.1 116.3L202.6 116L202.8 115.5L203.3 115.3L203.7 115.4L204.2 115.7L205 115.7L205.7 115.5L205.8 115.2L205.9 114.7L206.5 114.6L206.8 114.2L207.1 113.6L208 112.8L209.4 112.1M209.4 112.1L208.8 111.6L208 111.5L207.7 110.8L207.7 110.5L207.3 110.4L206.2 109.3L205.8 108.7L205.7 108.5L205.3 107.7M209.4 112.1L211.2 112.2L211.7 113.7L211.9 114.4L211.8 115.5L211.8 115.8L212.1 116.7L212.8 116.7M211.8 115.8L211.3 115.7L211 115.7L210.7 116.7L211.3 117.3L211.9 117.2L212.1 116.7M209 119L209.3 119.3L209 119.7L208.8 120.1L208.3 120.2L208.1 120.5L207.8 120.7L207 119.9L207.5 119.2L208.1 118.8L208.5 118.7L209 119M211.2 112.2L212.2 111.1L212.5 110.4L212.7 110.3L212.8 109.7L212.6 109.4L212.7 108.7L212.8 108L212.8 106.7L212.3 106.4L211.8 106.3L211.6 106.1L211.2 105.9L210.3 105.9M210.3 105.9L208.9 106L208.8 106.4L208.5 106.5L207.6 107.3L207 107.9L206.7 108L206.4 107.8L205.3 107.7M210.3 105.9L210.3 105.5L210.2 104.8L212 104.2L213.2 104M213.2 104L212.7 103.7L213 102.8L213.3 102.4L213.1 101.6L213.3 100.8L213.5 100.5L213.2 99.7L212.8 99.2L212.2 98.9L211.6 98.8L211.2 98.6L210.7 98.3M213.2 104L213.8 104.5L214.1 104.4L214.5 104.6L214.5 105L214.3 105.5L214.4 106.2L215 106.8L215.3 106.1L215.8 105.9L215.7 104.6L215.3 103.9L214.9 103.6L214.6 103.6L214.3 102.3L214.6 101.5L214.3 100.2L213.9 99.7L213.7 99.4L212.8 99.2M214.6 101.5L215.3 101.4L216.5 101.7L216.8 101.6L217.5 101.6L217.8 101.3L218.4 101.3L219.5 100.9L220.3 100.3M213.9 91L214.1 91.1L217.7 93.1L217.8 93.7L219.2 94.7"/></g>
<clipPath id="clipa"><rect x="52.5" y="24.5" width="375.00" height="163.00"/></clipPath>
<clipPath id="clipb"><rect x="54.5" y="265.5" width="383.00" height="167.00"/></clipPath>
<clipPath id="clipc"><rect x="58.5" y="506.5" width="384.00" height="166.00"/></clipPath>
</defs>
<rect width="500" height="709" fill="#fff"/>
<g clip-path="url(#clipa)"><path fill="#6c93ff" d="M122.77 65.21h2.09v2.20h-2.09zM114.40 69.60h2.09v2.20h-2.09zM122.77 69.60h2.09v2.20h-2.09zM114.40 71.80h2.09v2.20h-2.09zM116.49 71.80h2.09v2.20h-2.09zM114.40 73.99h2.09v2.20h-2.09zM116.49 73.99h2.09v2.20h-2.09zM120.68 73.99h2.09v2.20h-2.09zM129.05 73.99h2.09v2.20h-2.09zM114.40 76.19h2.09v2.20h-2.09zM116.49 76.19h2.09v2.20h-2.09zM118.59 76.19h2.09v2.20h-2.09zM118.59 78.38h2.09v2.20h-2.09zM124.87 82.77h2.09v2.20h-2.09zM124.87 84.97h2.09v2.20h-2.09zM133.24 95.95h2.09v2.20h-2.09zM137.43 100.34h2.09v2.20h-2.09zM156.27 131.07h2.09v2.20h-2.09zM164.64 139.85h2.09v2.20h-2.09zM166.73 142.05h2.09v2.20h-2.09zM166.73 144.24h2.09v2.20h-2.09zM166.73 146.44h2.09v2.20h-2.09zM166.73 168.39h2.09v2.20h-2.09zM166.73 170.59h2.09v2.20h-2.09zM240.00 82.77h2.09v2.20h-2.09zM242.09 82.77h2.09v2.20h-2.09zM252.56 82.77h2.09v2.20h-2.09zM277.68 78.38h2.09v2.20h-2.09zM275.59 87.16h2.09v2.20h-2.09zM306.99 63.02h2.09v2.20h-2.09zM292.33 65.21h2.09v2.20h-2.09zM292.33 67.41h2.09v2.20h-2.09zM296.52 67.41h2.09v2.20h-2.09zM298.61 67.41h2.09v2.20h-2.09zM300.71 67.41h2.09v2.20h-2.09zM304.89 67.41h2.09v2.20h-2.09zM311.17 67.41h2.09v2.20h-2.09zM315.36 67.41h2.09v2.20h-2.09zM296.52 69.60h2.09v2.20h-2.09zM298.61 69.60h2.09v2.20h-2.09zM302.80 69.60h2.09v2.20h-2.09zM306.99 69.60h2.09v2.20h-2.09zM309.08 69.60h2.09v2.20h-2.09zM311.17 69.60h2.09v2.20h-2.09zM315.36 69.60h2.09v2.20h-2.09zM317.45 69.60h2.09v2.20h-2.09zM302.80 71.80h2.09v2.20h-2.09zM309.08 71.80h2.09v2.20h-2.09zM302.80 73.99h2.09v2.20h-2.09zM306.99 73.99h2.09v2.20h-2.09zM319.55 73.99h2.09v2.20h-2.09zM302.80 76.19h2.09v2.20h-2.09zM306.99 76.19h2.09v2.20h-2.09zM309.08 76.19h2.09v2.20h-2.09zM315.36 76.19h2.09v2.20h-2.09zM319.55 76.19h2.09v2.20h-2.09zM296.52 78.38h2.09v2.20h-2.09zM298.61 78.38h2.09v2.20h-2.09zM300.71 78.38h2.09v2.20h-2.09zM302.80 78.38h2.09v2.20h-2.09zM304.89 78.38h2.09v2.20h-2.09zM309.08 78.38h2.09v2.20h-2.09zM315.36 78.38h2.09v2.20h-2.09zM292.33 80.58h2.09v2.20h-2.09zM294.43 80.58h2.09v2.20h-2.09zM296.52 80.58h2.09v2.20h-2.09zM298.61 80.58h2.09v2.20h-2.09zM315.36 80.58h2.09v2.20h-2.09zM317.45 80.58h2.09v2.20h-2.09zM288.15 82.77h2.09v2.20h-2.09zM290.24 82.77h2.09v2.20h-2.09zM292.33 82.77h2.09v2.20h-2.09zM298.61 82.77h2.09v2.20h-2.09zM302.80 82.77h2.09v2.20h-2.09zM313.27 82.77h2.09v2.20h-2.09zM288.15 84.97h2.09v2.20h-2.09zM292.33 84.97h2.09v2.20h-2.09zM300.71 84.97h2.09v2.20h-2.09zM302.80 84.97h2.09v2.20h-2.09zM304.89 84.97h2.09v2.20h-2.09zM311.17 84.97h2.09v2.20h-2.09zM288.15 87.16h2.09v2.20h-2.09zM290.24 87.16h2.09v2.20h-2.09zM294.43 87.16h2.09v2.20h-2.09zM296.52 87.16h2.09v2.20h-2.09zM298.61 87.16h2.09v2.20h-2.09zM300.71 87.16h2.09v2.20h-2.09zM304.89 87.16h2.09v2.20h-2.09zM306.99 87.16h2.09v2.20h-2.09zM313.27 87.16h2.09v2.20h-2.09zM294.43 89.36h2.09v2.20h-2.09zM296.52 89.36h2.09v2.20h-2.09zM300.71 89.36h2.09v2.20h-2.09zM302.80 89.36h2.09v2.20h-2.09zM309.08 89.36h2.09v2.20h-2.09zM332.11 67.41h2.09v2.20h-2.09zM332.11 69.60h2.09v2.20h-2.09zM325.83 71.80h2.09v2.20h-2.09zM338.39 71.80h2.09v2.20h-2.09zM350.95 71.80h2.09v2.20h-2.09zM357.23 71.80h2.09v2.20h-2.09zM338.39 73.99h2.09v2.20h-2.09zM344.67 73.99h2.09v2.20h-2.09zM357.23 73.99h2.09v2.20h-2.09zM338.39 76.19h2.09v2.20h-2.09zM350.95 76.19h2.09v2.20h-2.09zM332.11 78.38h2.09v2.20h-2.09zM338.39 78.38h2.09v2.20h-2.09zM344.67 78.38h2.09v2.20h-2.09zM357.23 82.77h2.09v2.20h-2.09zM361.41 82.77h2.09v2.20h-2.09zM281.87 98.14h2.09v2.20h-2.09zM283.96 100.34h2.09v2.20h-2.09zM286.05 106.92h2.09v2.20h-2.09zM279.77 111.31h2.09v2.20h-2.09zM279.77 113.51h2.09v2.20h-2.09zM252.56 142.05h2.09v2.20h-2.09zM254.65 148.63h2.09v2.20h-2.09zM267.21 157.42h2.09v2.20h-2.09zM185.57 47.65h2.09v2.20h-2.09zM355.13 84.97h2.09v2.20h-2.09zM357.23 84.97h2.09v2.20h-2.09zM359.32 84.97h2.09v2.20h-2.09zM325.83 91.56h2.09v2.20h-2.09z"/><path fill="#08f7ff" d="M129.05 67.41h2.09v2.20h-2.09zM133.24 69.60h2.09v2.20h-2.09zM120.68 71.80h2.09v2.20h-2.09zM122.77 71.80h2.09v2.20h-2.09zM126.96 71.80h2.09v2.20h-2.09zM129.05 71.80h2.09v2.20h-2.09zM133.24 71.80h2.09v2.20h-2.09zM118.59 73.99h2.09v2.20h-2.09zM122.77 73.99h2.09v2.20h-2.09zM126.96 73.99h2.09v2.20h-2.09zM131.15 73.99h2.09v2.20h-2.09zM112.31 76.19h2.09v2.20h-2.09zM120.68 76.19h2.09v2.20h-2.09zM124.87 76.19h2.09v2.20h-2.09zM129.05 76.19h2.09v2.20h-2.09zM131.15 76.19h2.09v2.20h-2.09zM112.31 78.38h2.09v2.20h-2.09zM114.40 78.38h2.09v2.20h-2.09zM116.49 78.38h2.09v2.20h-2.09zM120.68 78.38h2.09v2.20h-2.09zM124.87 78.38h2.09v2.20h-2.09zM129.05 78.38h2.09v2.20h-2.09zM131.15 78.38h2.09v2.20h-2.09zM112.31 80.58h2.09v2.20h-2.09zM116.49 80.58h2.09v2.20h-2.09zM118.59 80.58h2.09v2.20h-2.09zM120.68 80.58h2.09v2.20h-2.09zM122.77 80.58h2.09v2.20h-2.09zM124.87 80.58h2.09v2.20h-2.09zM126.96 80.58h2.09v2.20h-2.09zM129.05 80.58h2.09v2.20h-2.09zM131.15 80.58h2.09v2.20h-2.09zM112.31 82.77h2.09v2.20h-2.09zM114.40 82.77h2.09v2.20h-2.09zM116.49 82.77h2.09v2.20h-2.09zM118.59 82.77h2.09v2.20h-2.09zM120.68 82.77h2.09v2.20h-2.09zM122.77 82.77h2.09v2.20h-2.09zM126.96 82.77h2.09v2.20h-2.09zM129.05 82.77h2.09v2.20h-2.09zM131.15 82.77h2.09v2.20h-2.09zM133.24 82.77h2.09v2.20h-2.09zM116.49 84.97h2.09v2.20h-2.09zM118.59 84.97h2.09v2.20h-2.09zM122.77 84.97h2.09v2.20h-2.09zM126.96 84.97h2.09v2.20h-2.09zM129.05 84.97h2.09v2.20h-2.09zM131.15 84.97h2.09v2.20h-2.09zM133.24 84.97h2.09v2.20h-2.09zM118.59 87.16h2.09v2.20h-2.09zM120.68 87.16h2.09v2.20h-2.09zM126.96 87.16h2.09v2.20h-2.09zM131.15 87.16h2.09v2.20h-2.09zM133.24 87.16h2.09v2.20h-2.09zM135.33 87.16h2.09v2.20h-2.09zM118.59 89.36h2.09v2.20h-2.09zM120.68 89.36h2.09v2.20h-2.09zM126.96 89.36h2.09v2.20h-2.09zM129.05 89.36h2.09v2.20h-2.09zM131.15 89.36h2.09v2.20h-2.09zM133.24 89.36h2.09v2.20h-2.09zM120.68 91.56h2.09v2.20h-2.09zM126.96 91.56h2.09v2.20h-2.09zM131.15 91.56h2.09v2.20h-2.09zM133.24 91.56h2.09v2.20h-2.09zM129.05 93.75h2.09v2.20h-2.09zM133.24 93.75h2.09v2.20h-2.09zM129.05 95.95h2.09v2.20h-2.09zM131.15 95.95h2.09v2.20h-2.09zM129.05 98.14h2.09v2.20h-2.09zM131.15 98.14h2.09v2.20h-2.09zM133.24 98.14h2.09v2.20h-2.09zM131.15 100.34h2.09v2.20h-2.09zM133.24 100.34h2.09v2.20h-2.09zM137.43 102.53h2.09v2.20h-2.09zM158.36 133.27h2.09v2.20h-2.09zM162.55 135.46h2.09v2.20h-2.09zM168.83 139.85h2.09v2.20h-2.09zM168.83 142.05h2.09v2.20h-2.09zM170.92 142.05h2.09v2.20h-2.09zM168.83 144.24h2.09v2.20h-2.09zM170.92 144.24h2.09v2.20h-2.09zM168.83 146.44h2.09v2.20h-2.09zM164.64 148.63h2.09v2.20h-2.09zM166.73 148.63h2.09v2.20h-2.09zM164.64 150.83h2.09v2.20h-2.09zM166.73 150.83h2.09v2.20h-2.09zM173.01 150.83h2.09v2.20h-2.09zM164.64 153.02h2.09v2.20h-2.09zM166.73 153.02h2.09v2.20h-2.09zM168.83 153.02h2.09v2.20h-2.09zM164.64 155.22h2.09v2.20h-2.09zM170.92 155.22h2.09v2.20h-2.09zM181.39 155.22h2.09v2.20h-2.09zM164.64 157.42h2.09v2.20h-2.09zM166.73 157.42h2.09v2.20h-2.09zM168.83 157.42h2.09v2.20h-2.09zM170.92 157.42h2.09v2.20h-2.09zM164.64 159.61h2.09v2.20h-2.09zM166.73 159.61h2.09v2.20h-2.09zM168.83 159.61h2.09v2.20h-2.09zM166.73 161.81h2.09v2.20h-2.09zM168.83 161.81h2.09v2.20h-2.09zM166.73 164.00h2.09v2.20h-2.09zM168.83 164.00h2.09v2.20h-2.09zM166.73 166.20h2.09v2.20h-2.09zM168.83 166.20h2.09v2.20h-2.09zM170.92 166.20h2.09v2.20h-2.09zM168.83 168.39h2.09v2.20h-2.09zM168.83 170.59h2.09v2.20h-2.09zM164.64 172.78h2.09v2.20h-2.09zM166.73 172.78h2.09v2.20h-2.09zM168.83 172.78h2.09v2.20h-2.09zM164.64 174.98h2.09v2.20h-2.09zM166.73 174.98h2.09v2.20h-2.09zM168.83 174.98h2.09v2.20h-2.09zM166.73 177.17h2.09v2.20h-2.09zM168.83 177.17h2.09v2.20h-2.09zM166.73 179.37h2.09v2.20h-2.09zM235.81 69.60h2.09v2.20h-2.09zM244.19 73.99h2.09v2.20h-2.09zM246.28 73.99h2.09v2.20h-2.09zM231.63 76.19h2.09v2.20h-2.09zM248.37 76.19h2.09v2.20h-2.09zM252.56 76.19h2.09v2.20h-2.09zM256.75 76.19h2.09v2.20h-2.09zM231.63 78.38h2.09v2.20h-2.09zM233.72 78.38h2.09v2.20h-2.09zM235.81 78.38h2.09v2.20h-2.09zM237.91 78.38h2.09v2.20h-2.09zM229.53 80.58h2.09v2.20h-2.09zM254.65 80.58h2.09v2.20h-2.09zM235.81 82.77h2.09v2.20h-2.09zM237.91 82.77h2.09v2.20h-2.09zM248.37 82.77h2.09v2.20h-2.09zM231.63 84.97h2.09v2.20h-2.09zM233.72 84.97h2.09v2.20h-2.09zM235.81 84.97h2.09v2.20h-2.09zM229.53 87.16h2.09v2.20h-2.09zM233.72 87.16h2.09v2.20h-2.09zM263.03 76.19h2.09v2.20h-2.09zM267.21 76.19h2.09v2.20h-2.09zM269.31 76.19h2.09v2.20h-2.09zM263.03 78.38h2.09v2.20h-2.09zM267.21 78.38h2.09v2.20h-2.09zM273.49 80.58h2.09v2.20h-2.09zM275.59 80.58h2.09v2.20h-2.09zM277.68 80.58h2.09v2.20h-2.09zM279.77 80.58h2.09v2.20h-2.09zM281.87 80.58h2.09v2.20h-2.09zM286.05 80.58h2.09v2.20h-2.09zM273.49 82.77h2.09v2.20h-2.09zM277.68 82.77h2.09v2.20h-2.09zM286.05 82.77h2.09v2.20h-2.09zM313.27 63.02h2.09v2.20h-2.09zM317.45 63.02h2.09v2.20h-2.09zM319.55 63.02h2.09v2.20h-2.09zM296.52 65.21h2.09v2.20h-2.09zM319.55 65.21h2.09v2.20h-2.09zM288.15 67.41h2.09v2.20h-2.09zM294.43 67.41h2.09v2.20h-2.09zM302.80 67.41h2.09v2.20h-2.09zM306.99 67.41h2.09v2.20h-2.09zM309.08 67.41h2.09v2.20h-2.09zM313.27 67.41h2.09v2.20h-2.09zM317.45 67.41h2.09v2.20h-2.09zM288.15 69.60h2.09v2.20h-2.09zM294.43 69.60h2.09v2.20h-2.09zM300.71 69.60h2.09v2.20h-2.09zM313.27 69.60h2.09v2.20h-2.09zM319.55 69.60h2.09v2.20h-2.09zM294.43 71.80h2.09v2.20h-2.09zM298.61 71.80h2.09v2.20h-2.09zM300.71 71.80h2.09v2.20h-2.09zM311.17 71.80h2.09v2.20h-2.09zM313.27 71.80h2.09v2.20h-2.09zM317.45 71.80h2.09v2.20h-2.09zM319.55 71.80h2.09v2.20h-2.09zM294.43 73.99h2.09v2.20h-2.09zM296.52 73.99h2.09v2.20h-2.09zM298.61 73.99h2.09v2.20h-2.09zM315.36 73.99h2.09v2.20h-2.09zM294.43 76.19h2.09v2.20h-2.09zM296.52 76.19h2.09v2.20h-2.09zM304.89 76.19h2.09v2.20h-2.09zM313.27 76.19h2.09v2.20h-2.09zM317.45 76.19h2.09v2.20h-2.09zM288.15 78.38h2.09v2.20h-2.09zM294.43 78.38h2.09v2.20h-2.09zM306.99 78.38h2.09v2.20h-2.09zM313.27 78.38h2.09v2.20h-2.09zM317.45 78.38h2.09v2.20h-2.09zM319.55 78.38h2.09v2.20h-2.09zM288.15 80.58h2.09v2.20h-2.09zM302.80 80.58h2.09v2.20h-2.09zM304.89 80.58h2.09v2.20h-2.09zM306.99 80.58h2.09v2.20h-2.09zM309.08 80.58h2.09v2.20h-2.09zM313.27 80.58h2.09v2.20h-2.09zM319.55 80.58h2.09v2.20h-2.09zM296.52 82.77h2.09v2.20h-2.09zM300.71 82.77h2.09v2.20h-2.09zM304.89 82.77h2.09v2.20h-2.09zM309.08 82.77h2.09v2.20h-2.09zM311.17 82.77h2.09v2.20h-2.09zM315.36 82.77h2.09v2.20h-2.09zM317.45 82.77h2.09v2.20h-2.09zM296.52 84.97h2.09v2.20h-2.09zM306.99 84.97h2.09v2.20h-2.09zM309.08 84.97h2.09v2.20h-2.09zM313.27 84.97h2.09v2.20h-2.09zM302.80 87.16h2.09v2.20h-2.09zM309.08 87.16h2.09v2.20h-2.09zM311.17 87.16h2.09v2.20h-2.09zM292.33 89.36h2.09v2.20h-2.09zM298.61 89.36h2.09v2.20h-2.09zM304.89 89.36h2.09v2.20h-2.09zM306.99 89.36h2.09v2.20h-2.09zM311.17 89.36h2.09v2.20h-2.09zM296.52 91.56h2.09v2.20h-2.09zM298.61 91.56h2.09v2.20h-2.09zM302.80 91.56h2.09v2.20h-2.09zM306.99 91.56h2.09v2.20h-2.09zM334.20 67.41h2.09v2.20h-2.09zM336.29 67.41h2.09v2.20h-2.09zM321.64 69.60h2.09v2.20h-2.09zM325.83 69.60h2.09v2.20h-2.09zM327.92 69.60h2.09v2.20h-2.09zM336.29 69.60h2.09v2.20h-2.09zM338.39 69.60h2.09v2.20h-2.09zM340.48 69.60h2.09v2.20h-2.09zM344.67 69.60h2.09v2.20h-2.09zM346.76 69.60h2.09v2.20h-2.09zM348.85 69.60h2.09v2.20h-2.09zM350.95 69.60h2.09v2.20h-2.09zM353.04 69.60h2.09v2.20h-2.09zM355.13 69.60h2.09v2.20h-2.09zM357.23 69.60h2.09v2.20h-2.09zM323.73 71.80h2.09v2.20h-2.09zM327.92 71.80h2.09v2.20h-2.09zM332.11 71.80h2.09v2.20h-2.09zM336.29 71.80h2.09v2.20h-2.09zM340.48 71.80h2.09v2.20h-2.09zM344.67 71.80h2.09v2.20h-2.09zM348.85 71.80h2.09v2.20h-2.09zM353.04 71.80h2.09v2.20h-2.09zM321.64 73.99h2.09v2.20h-2.09zM323.73 73.99h2.09v2.20h-2.09zM325.83 73.99h2.09v2.20h-2.09zM330.01 73.99h2.09v2.20h-2.09zM332.11 73.99h2.09v2.20h-2.09zM336.29 73.99h2.09v2.20h-2.09zM340.48 73.99h2.09v2.20h-2.09zM342.57 73.99h2.09v2.20h-2.09zM346.76 73.99h2.09v2.20h-2.09zM348.85 73.99h2.09v2.20h-2.09zM350.95 73.99h2.09v2.20h-2.09zM355.13 73.99h2.09v2.20h-2.09zM325.83 76.19h2.09v2.20h-2.09zM330.01 76.19h2.09v2.20h-2.09zM332.11 76.19h2.09v2.20h-2.09zM342.57 76.19h2.09v2.20h-2.09zM344.67 76.19h2.09v2.20h-2.09zM353.04 76.19h2.09v2.20h-2.09zM357.23 76.19h2.09v2.20h-2.09zM323.73 78.38h2.09v2.20h-2.09zM330.01 78.38h2.09v2.20h-2.09zM334.20 78.38h2.09v2.20h-2.09zM336.29 78.38h2.09v2.20h-2.09zM340.48 78.38h2.09v2.20h-2.09zM342.57 78.38h2.09v2.20h-2.09zM346.76 78.38h2.09v2.20h-2.09zM350.95 78.38h2.09v2.20h-2.09zM355.13 78.38h2.09v2.20h-2.09zM325.83 80.58h2.09v2.20h-2.09zM340.48 80.58h2.09v2.20h-2.09zM350.95 80.58h2.09v2.20h-2.09zM355.13 80.58h2.09v2.20h-2.09zM323.73 84.97h2.09v2.20h-2.09zM325.83 84.97h2.09v2.20h-2.09zM348.85 87.16h2.09v2.20h-2.09zM355.13 87.16h2.09v2.20h-2.09zM321.64 89.36h2.09v2.20h-2.09zM323.73 89.36h2.09v2.20h-2.09zM348.85 91.56h2.09v2.20h-2.09zM348.85 93.75h2.09v2.20h-2.09zM350.95 93.75h2.09v2.20h-2.09zM359.32 69.60h2.09v2.20h-2.09zM359.32 71.80h2.09v2.20h-2.09zM361.41 71.80h2.09v2.20h-2.09zM359.32 73.99h2.09v2.20h-2.09zM361.41 73.99h2.09v2.20h-2.09zM359.32 76.19h2.09v2.20h-2.09zM357.23 78.38h2.09v2.20h-2.09zM359.32 78.38h2.09v2.20h-2.09zM361.41 78.38h2.09v2.20h-2.09zM363.51 78.38h2.09v2.20h-2.09zM357.23 80.58h2.09v2.20h-2.09zM359.32 80.58h2.09v2.20h-2.09zM361.41 80.58h2.09v2.20h-2.09zM359.32 82.77h2.09v2.20h-2.09zM357.23 87.16h2.09v2.20h-2.09zM286.05 104.73h2.09v2.20h-2.09zM265.12 106.92h2.09v2.20h-2.09zM279.77 106.92h2.09v2.20h-2.09zM275.59 109.12h2.09v2.20h-2.09zM277.68 109.12h2.09v2.20h-2.09zM279.77 109.12h2.09v2.20h-2.09zM277.68 111.31h2.09v2.20h-2.09zM252.56 113.51h2.09v2.20h-2.09zM277.68 113.51h2.09v2.20h-2.09zM273.49 117.90h2.09v2.20h-2.09zM269.31 128.88h2.09v2.20h-2.09zM271.40 128.88h2.09v2.20h-2.09zM271.40 131.07h2.09v2.20h-2.09zM273.49 131.07h2.09v2.20h-2.09zM267.21 133.27h2.09v2.20h-2.09zM271.40 133.27h2.09v2.20h-2.09zM273.49 133.27h2.09v2.20h-2.09zM252.56 135.46h2.09v2.20h-2.09zM254.65 135.46h2.09v2.20h-2.09zM256.75 135.46h2.09v2.20h-2.09zM273.49 135.46h2.09v2.20h-2.09zM252.56 137.66h2.09v2.20h-2.09zM254.65 137.66h2.09v2.20h-2.09zM269.31 139.85h2.09v2.20h-2.09zM271.40 139.85h2.09v2.20h-2.09zM275.59 139.85h2.09v2.20h-2.09zM269.31 142.05h2.09v2.20h-2.09zM271.40 142.05h2.09v2.20h-2.09zM254.65 144.24h2.09v2.20h-2.09zM254.65 146.44h2.09v2.20h-2.09zM267.21 148.63h2.09v2.20h-2.09zM269.31 148.63h2.09v2.20h-2.09zM271.40 148.63h2.09v2.20h-2.09zM256.75 150.83h2.09v2.20h-2.09zM260.93 150.83h2.09v2.20h-2.09zM263.03 150.83h2.09v2.20h-2.09zM265.12 150.83h2.09v2.20h-2.09zM267.21 150.83h2.09v2.20h-2.09zM269.31 150.83h2.09v2.20h-2.09zM271.40 150.83h2.09v2.20h-2.09zM256.75 153.02h2.09v2.20h-2.09zM258.84 153.02h2.09v2.20h-2.09zM260.93 153.02h2.09v2.20h-2.09zM263.03 153.02h2.09v2.20h-2.09zM265.12 153.02h2.09v2.20h-2.09zM267.21 153.02h2.09v2.20h-2.09zM269.31 153.02h2.09v2.20h-2.09zM271.40 153.02h2.09v2.20h-2.09zM258.84 155.22h2.09v2.20h-2.09zM260.93 155.22h2.09v2.20h-2.09zM265.12 155.22h2.09v2.20h-2.09zM267.21 155.22h2.09v2.20h-2.09zM271.40 155.22h2.09v2.20h-2.09zM258.84 157.42h2.09v2.20h-2.09zM260.93 157.42h2.09v2.20h-2.09zM263.03 157.42h2.09v2.20h-2.09zM265.12 157.42h2.09v2.20h-2.09zM258.84 159.61h2.09v2.20h-2.09zM260.93 159.61h2.09v2.20h-2.09zM263.03 159.61h2.09v2.20h-2.09zM394.91 144.24h2.09v2.20h-2.09zM359.32 153.02h2.09v2.20h-2.09zM394.91 153.02h2.09v2.20h-2.09zM359.32 155.22h2.09v2.20h-2.09zM361.41 155.22h2.09v2.20h-2.09zM380.25 155.22h2.09v2.20h-2.09zM384.44 155.22h2.09v2.20h-2.09zM394.91 155.22h2.09v2.20h-2.09zM361.41 157.42h2.09v2.20h-2.09zM363.51 157.42h2.09v2.20h-2.09zM384.44 157.42h2.09v2.20h-2.09zM386.53 157.42h2.09v2.20h-2.09zM388.63 157.42h2.09v2.20h-2.09zM390.72 157.42h2.09v2.20h-2.09zM392.81 157.42h2.09v2.20h-2.09zM394.91 157.42h2.09v2.20h-2.09zM382.35 159.61h2.09v2.20h-2.09zM384.44 159.61h2.09v2.20h-2.09zM386.53 159.61h2.09v2.20h-2.09zM388.63 159.61h2.09v2.20h-2.09zM390.72 159.61h2.09v2.20h-2.09zM392.81 159.61h2.09v2.20h-2.09zM394.91 159.61h2.09v2.20h-2.09zM388.63 161.81h2.09v2.20h-2.09zM390.72 161.81h2.09v2.20h-2.09zM392.81 164.00h2.09v2.20h-2.09zM254.65 47.65h2.09v2.20h-2.09zM319.55 89.36h2.09v2.20h-2.09zM346.76 91.56h2.09v2.20h-2.09zM323.73 93.75h2.09v2.20h-2.09zM325.83 93.75h2.09v2.20h-2.09zM327.92 93.75h2.09v2.20h-2.09zM346.76 93.75h2.09v2.20h-2.09zM323.73 95.95h2.09v2.20h-2.09zM330.01 98.14h2.09v2.20h-2.09zM346.76 98.14h2.09v2.20h-2.09zM340.48 100.34h2.09v2.20h-2.09zM321.64 113.51h2.09v2.20h-2.09z"/><path fill="#a659ff" d="M124.87 71.80h2.09v2.20h-2.09zM124.87 73.99h2.09v2.20h-2.09zM122.77 76.19h2.09v2.20h-2.09zM122.77 78.38h2.09v2.20h-2.09zM129.05 87.16h2.09v2.20h-2.09zM129.05 91.56h2.09v2.20h-2.09zM131.15 93.75h2.09v2.20h-2.09zM160.45 137.66h2.09v2.20h-2.09zM166.73 155.22h2.09v2.20h-2.09zM229.53 89.36h2.09v2.20h-2.09zM283.96 78.38h2.09v2.20h-2.09zM283.96 80.58h2.09v2.20h-2.09zM300.71 73.99h2.09v2.20h-2.09zM309.08 73.99h2.09v2.20h-2.09zM311.17 73.99h2.09v2.20h-2.09zM298.61 76.19h2.09v2.20h-2.09zM300.71 76.19h2.09v2.20h-2.09zM311.17 76.19h2.09v2.20h-2.09zM286.05 78.38h2.09v2.20h-2.09zM300.71 80.58h2.09v2.20h-2.09zM311.17 80.58h2.09v2.20h-2.09zM290.24 84.97h2.09v2.20h-2.09zM298.61 84.97h2.09v2.20h-2.09zM292.33 87.16h2.09v2.20h-2.09zM334.20 69.60h2.09v2.20h-2.09zM321.64 80.58h2.09v2.20h-2.09zM361.41 69.60h2.09v2.20h-2.09zM283.96 102.53h2.09v2.20h-2.09zM263.03 155.22h2.09v2.20h-2.09z"/><path fill="#ec13ff" d="M124.87 87.16h2.09v2.20h-2.09zM124.87 89.36h2.09v2.20h-2.09zM231.63 87.16h2.09v2.20h-2.09zM311.17 78.38h2.09v2.20h-2.09z"/><path fill="#40bfff" d="M233.72 76.19h2.09v2.20h-2.09zM235.81 76.19h2.09v2.20h-2.09zM244.19 82.77h2.09v2.20h-2.09zM246.28 82.77h2.09v2.20h-2.09zM321.64 67.41h2.09v2.20h-2.09zM330.01 69.60h2.09v2.20h-2.09zM330.01 71.80h2.09v2.20h-2.09zM334.20 71.80h2.09v2.20h-2.09zM346.76 71.80h2.09v2.20h-2.09zM355.13 71.80h2.09v2.20h-2.09zM327.92 73.99h2.09v2.20h-2.09zM334.20 73.99h2.09v2.20h-2.09zM353.04 73.99h2.09v2.20h-2.09zM321.64 76.19h2.09v2.20h-2.09zM323.73 76.19h2.09v2.20h-2.09zM327.92 76.19h2.09v2.20h-2.09zM336.29 76.19h2.09v2.20h-2.09zM340.48 76.19h2.09v2.20h-2.09zM346.76 76.19h2.09v2.20h-2.09zM348.85 76.19h2.09v2.20h-2.09zM321.64 78.38h2.09v2.20h-2.09zM327.92 78.38h2.09v2.20h-2.09zM348.85 78.38h2.09v2.20h-2.09zM353.04 78.38h2.09v2.20h-2.09zM323.73 80.58h2.09v2.20h-2.09zM336.29 80.58h2.09v2.20h-2.09zM348.85 80.58h2.09v2.20h-2.09zM323.73 91.56h2.09v2.20h-2.09zM363.51 155.22h2.09v2.20h-2.09zM371.88 155.22h2.09v2.20h-2.09zM373.97 155.22h2.09v2.20h-2.09zM221.16 49.84h2.09v2.20h-2.09z"/><use href="#world" transform="translate(51.6 23.5) scale(1.04667 1.09767)"/></g>
<rect x="52.5" y="24.5" width="375.00" height="163.00" fill="none" stroke="#000" stroke-width="0.9"/>
<g stroke="#000" stroke-width="0.9"><line x1="49.00" y1="24.50" x2="52.50" y2="24.50"/><line x1="49.00" y1="56.50" x2="52.50" y2="56.50"/><line x1="49.00" y1="89.50" x2="52.50" y2="89.50"/><line x1="49.00" y1="122.50" x2="52.50" y2="122.50"/><line x1="49.00" y1="155.50" x2="52.50" y2="155.50"/><line x1="49.00" y1="187.50" x2="52.50" y2="187.50"/><line x1="52.50" y1="187.50" x2="52.50" y2="191.00"/><line x1="114.40" y1="187.50" x2="114.40" y2="191.00"/><line x1="177.20" y1="187.50" x2="177.20" y2="191.00"/><line x1="240.00" y1="187.50" x2="240.00" y2="191.00"/><line x1="302.80" y1="187.50" x2="302.80" y2="191.00"/><line x1="365.60" y1="187.50" x2="365.60" y2="191.00"/><line x1="427.50" y1="187.50" x2="427.50" y2="191.00"/></g>
<text class="t" x="46.60" y="60.10" text-anchor="end" textLength="26.68" lengthAdjust="spacingAndGlyphs" style="font-size:9.5px">60° N</text><text class="t" x="46.60" y="93.10" text-anchor="end" textLength="26.68" lengthAdjust="spacingAndGlyphs" style="font-size:9.5px">30° N</text><text class="t" x="46.60" y="126.10" text-anchor="end" textLength="10.68" lengthAdjust="spacingAndGlyphs" style="font-size:9.5px">0°</text><text class="t" x="46.60" y="159.10" text-anchor="end" textLength="25.62" lengthAdjust="spacingAndGlyphs" style="font-size:9.5px">30° S</text><text class="t" x="46.60" y="191.10" text-anchor="end" textLength="25.62" lengthAdjust="spacingAndGlyphs" style="font-size:9.5px">60° S</text>
<text class="t" x="114.40" y="200.80" text-anchor="middle" textLength="34.92" lengthAdjust="spacingAndGlyphs" style="font-size:9.5px">120° W</text><text class="t" x="177.20" y="200.80" text-anchor="middle" textLength="28.94" lengthAdjust="spacingAndGlyphs" style="font-size:9.5px">60° W</text><text class="t" x="240.00" y="200.80" text-anchor="middle" textLength="10.68" lengthAdjust="spacingAndGlyphs" style="font-size:9.5px">0°</text><text class="t" x="302.80" y="200.80" text-anchor="middle" textLength="25.59" lengthAdjust="spacingAndGlyphs" style="font-size:9.5px">60° E</text><text class="t" x="365.60" y="200.80" text-anchor="middle" textLength="31.57" lengthAdjust="spacingAndGlyphs" style="font-size:9.5px">120° E</text>
<text x="240.00" y="215.60" text-anchor="middle" textLength="55.90" lengthAdjust="spacingAndGlyphs" style="font-size:10.9px;stroke:#1a1a1a;stroke-width:0.15px">Longitude</text>
<text transform="translate(13.8 105.60) rotate(-90)" text-anchor="middle" textLength="46.90" lengthAdjust="spacingAndGlyphs" style="font-size:10.9px;stroke:#1a1a1a;stroke-width:0.15px">Latitude</text>
<text class="ttl" x="169.65" y="17.1" style="font-size:16.1px">Temperate C</text><text class="ttl" x="263.6" y="21.30" style="font-size:11.7px">3</text><text class="ttl" x="274.5" y="17.1" style="font-size:16.1px">grassland</text>
<text x="18.1" y="34.9" style="font-size:17.3px;fill:#000">(a)</text>
<rect x="450.5" y="44.5" width="7.0" height="130.00" fill="url(#cool)"/><path d="M450.5 44.5 L454.0 37.6 L457.5 44.5 Z" fill="#ff00ff"/><path d="M450.5 44.5 L454.0 37.6 L457.5 44.5 L457.5 174.5 L450.5 174.5 Z" fill="none" stroke="#222" stroke-width="0.8"/><path d="M457.5 174.50h3.5M457.5 171.25h2.0M457.5 168.00h2.0M457.5 164.75h2.0M457.5 161.50h2.0M457.5 158.25h2.0M457.5 155.00h2.0M457.5 151.75h2.0M457.5 148.50h2.0M457.5 145.25h2.0M457.5 142.00h3.5M457.5 138.75h2.0M457.5 135.50h2.0M457.5 132.25h2.0M457.5 129.00h2.0M457.5 125.75h2.0M457.5 122.50h2.0M457.5 119.25h2.0M457.5 116.00h2.0M457.5 112.75h2.0M457.5 109.50h3.5M457.5 106.25h2.0M457.5 103.00h2.0M457.5 99.75h2.0M457.5 96.50h2.0M457.5 93.25h2.0M457.5 90.00h2.0M457.5 86.75h2.0M457.5 83.50h2.0M457.5 80.25h2.0M457.5 77.00h3.5M457.5 73.75h2.0M457.5 70.50h2.0M457.5 67.25h2.0M457.5 64.00h2.0M457.5 60.75h2.0M457.5 57.50h2.0M457.5 54.25h2.0M457.5 51.00h2.0M457.5 47.75h2.0M457.5 44.50h3.5" stroke="#000" stroke-width="0.7"/>
<text class="t" x="463.58" y="177.90" text-anchor="start" textLength="14.95" lengthAdjust="spacingAndGlyphs" style="font-size:9.5px">0.0</text><text class="t" x="463.58" y="145.40" text-anchor="start" textLength="14.95" lengthAdjust="spacingAndGlyphs" style="font-size:9.5px">0.5</text><text class="t" x="463.58" y="112.90" text-anchor="start" textLength="14.95" lengthAdjust="spacingAndGlyphs" style="font-size:9.5px">1.0</text><text class="t" x="463.58" y="80.40" text-anchor="start" textLength="14.95" lengthAdjust="spacingAndGlyphs" style="font-size:9.5px">1.5</text><text class="t" x="463.58" y="47.90" text-anchor="start" textLength="14.95" lengthAdjust="spacingAndGlyphs" style="font-size:9.5px">2.0</text>
<g clip-path="url(#clipb)"><path fill="#6c93ff" d="M319.08 329.86h2.14v2.24h-2.14zM321.22 332.10h2.14v2.24h-2.14zM323.36 334.34h2.14v2.24h-2.14zM329.78 350.02h2.14v2.24h-2.14zM329.78 354.50h2.14v2.24h-2.14zM128.57 311.94h2.14v2.24h-2.14zM158.54 370.18h2.14v2.24h-2.14zM259.14 320.90h2.14v2.24h-2.14zM269.85 320.90h2.14v2.24h-2.14zM293.39 307.46h2.14v2.24h-2.14zM295.53 309.70h2.14v2.24h-2.14zM293.39 311.94h2.14v2.24h-2.14zM295.53 311.94h2.14v2.24h-2.14zM299.81 307.46h2.14v2.24h-2.14zM297.67 320.90h2.14v2.24h-2.14zM284.83 323.14h2.14v2.24h-2.14zM321.22 316.42h2.14v2.24h-2.14zM323.36 316.42h2.14v2.24h-2.14zM278.41 345.54h2.14v2.24h-2.14zM286.97 341.06h2.14v2.24h-2.14zM286.97 350.02h2.14v2.24h-2.14zM289.11 352.26h2.14v2.24h-2.14zM289.11 354.50h2.14v2.24h-2.14zM284.83 376.90h2.14v2.24h-2.14zM261.28 392.58h2.14v2.24h-2.14zM265.56 394.82h2.14v2.24h-2.14zM376.87 388.10h2.14v2.24h-2.14zM394.00 390.34h2.14v2.24h-2.14z"/><path fill="#08f7ff" d="M323.36 329.86h2.14v2.24h-2.14zM325.50 329.86h2.14v2.24h-2.14zM319.08 332.10h2.14v2.24h-2.14zM325.50 332.10h2.14v2.24h-2.14zM329.78 332.10h2.14v2.24h-2.14zM321.22 334.34h2.14v2.24h-2.14zM325.50 334.34h2.14v2.24h-2.14zM329.78 334.34h2.14v2.24h-2.14zM319.08 336.58h2.14v2.24h-2.14zM325.50 336.58h2.14v2.24h-2.14zM329.78 336.58h2.14v2.24h-2.14zM334.06 336.58h2.14v2.24h-2.14zM321.22 338.82h2.14v2.24h-2.14zM325.50 338.82h2.14v2.24h-2.14zM327.64 338.82h2.14v2.24h-2.14zM331.92 338.82h2.14v2.24h-2.14zM336.20 338.82h2.14v2.24h-2.14zM327.64 341.06h2.14v2.24h-2.14zM331.92 341.06h2.14v2.24h-2.14zM334.06 341.06h2.14v2.24h-2.14zM338.34 341.06h2.14v2.24h-2.14zM325.50 343.30h2.14v2.24h-2.14zM331.92 343.30h2.14v2.24h-2.14zM334.06 343.30h2.14v2.24h-2.14zM325.50 345.54h2.14v2.24h-2.14zM327.64 345.54h2.14v2.24h-2.14zM331.92 345.54h2.14v2.24h-2.14zM327.64 347.78h2.14v2.24h-2.14zM331.92 347.78h2.14v2.24h-2.14zM327.64 350.02h2.14v2.24h-2.14zM327.64 352.26h2.14v2.24h-2.14zM130.71 311.94h2.14v2.24h-2.14zM132.85 314.18h2.14v2.24h-2.14zM134.99 314.18h2.14v2.24h-2.14zM134.99 316.42h2.14v2.24h-2.14zM124.29 320.90h2.14v2.24h-2.14zM128.57 320.90h2.14v2.24h-2.14zM124.29 323.14h2.14v2.24h-2.14zM126.43 323.14h2.14v2.24h-2.14zM128.57 323.14h2.14v2.24h-2.14zM122.15 327.62h2.14v2.24h-2.14zM124.29 327.62h2.14v2.24h-2.14zM128.57 329.86h2.14v2.24h-2.14zM132.85 329.86h2.14v2.24h-2.14zM134.99 329.86h2.14v2.24h-2.14zM139.27 329.86h2.14v2.24h-2.14zM124.29 332.10h2.14v2.24h-2.14zM132.85 332.10h2.14v2.24h-2.14zM134.99 332.10h2.14v2.24h-2.14zM139.27 332.10h2.14v2.24h-2.14zM126.43 334.34h2.14v2.24h-2.14zM134.99 336.58h2.14v2.24h-2.14zM137.13 336.58h2.14v2.24h-2.14zM139.27 338.82h2.14v2.24h-2.14zM141.41 343.30h2.14v2.24h-2.14zM77.20 341.06h2.14v2.24h-2.14zM158.54 332.10h2.14v2.24h-2.14zM218.47 345.54h2.14v2.24h-2.14zM167.10 352.26h2.14v2.24h-2.14zM167.10 354.50h2.14v2.24h-2.14zM167.10 358.98h2.14v2.24h-2.14zM184.22 358.98h2.14v2.24h-2.14zM199.21 370.18h2.14v2.24h-2.14zM203.49 374.66h2.14v2.24h-2.14zM203.49 376.90h2.14v2.24h-2.14zM192.79 383.62h2.14v2.24h-2.14zM194.93 383.62h2.14v2.24h-2.14zM203.49 383.62h2.14v2.24h-2.14zM179.94 388.10h2.14v2.24h-2.14zM171.38 399.30h2.14v2.24h-2.14zM184.22 403.78h2.14v2.24h-2.14zM248.44 314.18h2.14v2.24h-2.14zM250.58 314.18h2.14v2.24h-2.14zM254.86 314.18h2.14v2.24h-2.14zM257.00 314.18h2.14v2.24h-2.14zM246.30 316.42h2.14v2.24h-2.14zM235.60 320.90h2.14v2.24h-2.14zM239.88 320.90h2.14v2.24h-2.14zM252.72 323.14h2.14v2.24h-2.14zM263.42 320.90h2.14v2.24h-2.14zM271.99 316.42h2.14v2.24h-2.14zM274.13 316.42h2.14v2.24h-2.14zM276.27 318.66h2.14v2.24h-2.14zM246.30 341.06h2.14v2.24h-2.14zM254.86 341.06h2.14v2.24h-2.14zM291.25 307.46h2.14v2.24h-2.14zM295.53 307.46h2.14v2.24h-2.14zM291.25 309.70h2.14v2.24h-2.14zM293.39 309.70h2.14v2.24h-2.14zM297.67 309.70h2.14v2.24h-2.14zM297.67 311.94h2.14v2.24h-2.14zM299.81 309.70h2.14v2.24h-2.14zM304.10 307.46h2.14v2.24h-2.14zM308.38 307.46h2.14v2.24h-2.14zM312.66 307.46h2.14v2.24h-2.14zM297.67 307.46h2.14v2.24h-2.14zM301.95 307.46h2.14v2.24h-2.14zM306.24 307.46h2.14v2.24h-2.14zM310.52 307.46h2.14v2.24h-2.14zM314.80 307.46h2.14v2.24h-2.14zM316.94 307.46h2.14v2.24h-2.14zM314.80 309.70h2.14v2.24h-2.14zM316.94 309.70h2.14v2.24h-2.14zM282.69 314.18h2.14v2.24h-2.14zM289.11 311.94h2.14v2.24h-2.14zM291.25 314.18h2.14v2.24h-2.14zM293.39 316.42h2.14v2.24h-2.14zM289.11 316.42h2.14v2.24h-2.14zM278.41 318.66h2.14v2.24h-2.14zM308.38 320.90h2.14v2.24h-2.14zM297.67 327.62h2.14v2.24h-2.14zM306.24 334.34h2.14v2.24h-2.14zM314.80 334.34h2.14v2.24h-2.14zM314.80 336.58h2.14v2.24h-2.14zM323.36 325.38h2.14v2.24h-2.14zM325.50 327.62h2.14v2.24h-2.14zM289.11 338.82h2.14v2.24h-2.14zM291.25 338.82h2.14v2.24h-2.14zM306.24 341.06h2.14v2.24h-2.14zM336.20 314.18h2.14v2.24h-2.14zM344.77 316.42h2.14v2.24h-2.14zM357.61 320.90h2.14v2.24h-2.14zM359.75 318.66h2.14v2.24h-2.14zM361.89 318.66h2.14v2.24h-2.14zM364.03 323.14h2.14v2.24h-2.14zM364.03 325.38h2.14v2.24h-2.14zM366.17 327.62h2.14v2.24h-2.14zM370.45 320.90h2.14v2.24h-2.14zM370.45 323.14h2.14v2.24h-2.14zM372.59 314.18h2.14v2.24h-2.14zM383.30 314.18h2.14v2.24h-2.14zM351.19 343.30h2.14v2.24h-2.14zM235.60 345.54h2.14v2.24h-2.14zM237.74 345.54h2.14v2.24h-2.14zM239.88 345.54h2.14v2.24h-2.14zM246.30 343.30h2.14v2.24h-2.14zM246.30 345.54h2.14v2.24h-2.14zM259.14 347.78h2.14v2.24h-2.14zM261.28 347.78h2.14v2.24h-2.14zM263.42 347.78h2.14v2.24h-2.14zM265.56 347.78h2.14v2.24h-2.14zM267.71 345.54h2.14v2.24h-2.14zM274.13 345.54h2.14v2.24h-2.14zM276.27 347.78h2.14v2.24h-2.14zM280.55 347.78h2.14v2.24h-2.14zM289.11 343.30h2.14v2.24h-2.14zM291.25 347.78h2.14v2.24h-2.14zM293.39 347.78h2.14v2.24h-2.14zM295.53 350.02h2.14v2.24h-2.14zM284.83 350.02h2.14v2.24h-2.14zM289.11 350.02h2.14v2.24h-2.14zM286.97 352.26h2.14v2.24h-2.14zM291.25 352.26h2.14v2.24h-2.14zM286.97 354.50h2.14v2.24h-2.14zM284.83 356.74h2.14v2.24h-2.14zM286.97 356.74h2.14v2.24h-2.14zM276.27 354.50h2.14v2.24h-2.14zM293.39 361.22h2.14v2.24h-2.14zM227.04 350.02h2.14v2.24h-2.14zM267.71 376.90h2.14v2.24h-2.14zM276.27 376.90h2.14v2.24h-2.14zM269.85 381.38h2.14v2.24h-2.14zM274.13 381.38h2.14v2.24h-2.14zM274.13 383.62h2.14v2.24h-2.14zM282.69 381.38h2.14v2.24h-2.14zM263.42 385.86h2.14v2.24h-2.14zM265.56 385.86h2.14v2.24h-2.14zM271.99 385.86h2.14v2.24h-2.14zM278.41 388.10h2.14v2.24h-2.14zM278.41 390.34h2.14v2.24h-2.14zM282.69 390.34h2.14v2.24h-2.14zM263.42 394.82h2.14v2.24h-2.14zM263.42 397.06h2.14v2.24h-2.14zM265.56 397.06h2.14v2.24h-2.14zM295.53 381.38h2.14v2.24h-2.14zM293.39 388.10h2.14v2.24h-2.14zM385.44 381.38h2.14v2.24h-2.14zM379.01 385.86h2.14v2.24h-2.14zM381.15 385.86h2.14v2.24h-2.14zM374.73 388.10h2.14v2.24h-2.14zM379.01 390.34h2.14v2.24h-2.14zM381.15 390.34h2.14v2.24h-2.14zM376.87 392.58h2.14v2.24h-2.14zM391.86 385.86h2.14v2.24h-2.14zM391.86 388.10h2.14v2.24h-2.14zM398.28 390.34h2.14v2.24h-2.14zM400.42 390.34h2.14v2.24h-2.14zM402.56 390.34h2.14v2.24h-2.14zM398.28 385.86h2.14v2.24h-2.14zM398.28 388.10h2.14v2.24h-2.14zM400.42 383.62h2.14v2.24h-2.14zM396.14 394.82h2.14v2.24h-2.14zM394.00 397.06h2.14v2.24h-2.14zM404.70 397.06h2.14v2.24h-2.14zM402.56 399.30h2.14v2.24h-2.14zM398.28 406.02h2.14v2.24h-2.14z"/><path fill="#a659ff" d="M321.22 336.58h2.14v2.24h-2.14zM323.36 341.06h2.14v2.24h-2.14zM329.78 343.30h2.14v2.24h-2.14zM254.86 320.90h2.14v2.24h-2.14zM261.28 323.14h2.14v2.24h-2.14zM263.42 318.66h2.14v2.24h-2.14zM269.85 318.66h2.14v2.24h-2.14zM282.69 311.94h2.14v2.24h-2.14zM286.97 314.18h2.14v2.24h-2.14zM295.53 318.66h2.14v2.24h-2.14zM295.53 336.58h2.14v2.24h-2.14zM319.08 327.62h2.14v2.24h-2.14zM323.36 318.66h2.14v2.24h-2.14zM282.69 345.54h2.14v2.24h-2.14zM284.83 347.78h2.14v2.24h-2.14zM284.83 352.26h2.14v2.24h-2.14zM396.14 388.10h2.14v2.24h-2.14z"/><path fill="#ec13ff" d="M137.13 314.18h2.14v2.24h-2.14zM280.55 311.94h2.14v2.24h-2.14zM331.92 311.94h2.14v2.24h-2.14zM331.92 318.66h2.14v2.24h-2.14zM340.48 316.42h2.14v2.24h-2.14z"/><path fill="#40bfff" d="M126.43 320.90h2.14v2.24h-2.14zM244.16 318.66h2.14v2.24h-2.14zM289.11 323.14h2.14v2.24h-2.14zM291.25 327.62h2.14v2.24h-2.14zM351.19 318.66h2.14v2.24h-2.14zM252.72 345.54h2.14v2.24h-2.14zM402.56 397.06h2.14v2.24h-2.14zM404.70 399.30h2.14v2.24h-2.14z"/><use href="#world" transform="translate(53.65 264.9) scale(1.07028 1.12000)"/></g>
<rect x="54.5" y="265.5" width="383.00" height="167.00" fill="none" stroke="#000" stroke-width="0.9"/>
<g stroke="#000" stroke-width="0.9"><line x1="51.00" y1="265.50" x2="54.50" y2="265.50"/><line x1="51.00" y1="298.50" x2="54.50" y2="298.50"/><line x1="51.00" y1="332.50" x2="54.50" y2="332.50"/><line x1="51.00" y1="365.50" x2="54.50" y2="365.50"/><line x1="51.00" y1="399.50" x2="54.50" y2="399.50"/><line x1="51.00" y1="432.50" x2="54.50" y2="432.50"/><line x1="54.50" y1="432.50" x2="54.50" y2="436.00"/><line x1="117.87" y1="432.50" x2="117.87" y2="436.00"/><line x1="182.08" y1="432.50" x2="182.08" y2="436.00"/><line x1="246.30" y1="432.50" x2="246.30" y2="436.00"/><line x1="310.52" y1="432.50" x2="310.52" y2="436.00"/><line x1="374.73" y1="432.50" x2="374.73" y2="436.00"/><line x1="437.50" y1="432.50" x2="437.50" y2="436.00"/></g>
<text class="t" x="47.70" y="302.20" text-anchor="end" textLength="27.52" lengthAdjust="spacingAndGlyphs" style="font-size:9.8px">60° N</text><text class="t" x="47.70" y="336.20" text-anchor="end" textLength="27.52" lengthAdjust="spacingAndGlyphs" style="font-size:9.8px">30° N</text><text class="t" x="47.70" y="369.20" text-anchor="end" textLength="11.02" lengthAdjust="spacingAndGlyphs" style="font-size:9.8px">0°</text><text class="t" x="47.70" y="403.20" text-anchor="end" textLength="26.42" lengthAdjust="spacingAndGlyphs" style="font-size:9.8px">30° S</text><text class="t" x="47.70" y="436.20" text-anchor="end" textLength="26.42" lengthAdjust="spacingAndGlyphs" style="font-size:9.8px">60° S</text>
<text class="t" x="117.87" y="446.30" text-anchor="middle" textLength="36.03" lengthAdjust="spacingAndGlyphs" style="font-size:9.8px">120° W</text><text class="t" x="182.08" y="446.30" text-anchor="middle" textLength="29.86" lengthAdjust="spacingAndGlyphs" style="font-size:9.8px">60° W</text><text class="t" x="246.30" y="446.30" text-anchor="middle" textLength="11.02" lengthAdjust="spacingAndGlyphs" style="font-size:9.8px">0°</text><text class="t" x="310.52" y="446.30" text-anchor="middle" textLength="26.40" lengthAdjust="spacingAndGlyphs" style="font-size:9.8px">60° E</text><text class="t" x="374.73" y="446.30" text-anchor="middle" textLength="32.57" lengthAdjust="spacingAndGlyphs" style="font-size:9.8px">120° E</text>
<text x="246.30" y="461.50" text-anchor="middle" textLength="57.00" lengthAdjust="spacingAndGlyphs" style="font-size:11.3px;stroke:#1a1a1a;stroke-width:0.15px">Longitude</text>
<text transform="translate(15.2 348.55) rotate(-90)" text-anchor="middle" textLength="47.80" lengthAdjust="spacingAndGlyphs" style="font-size:11.3px;stroke:#1a1a1a;stroke-width:0.15px">Latitude</text>
<text class="ttl" x="210.4" y="258.0" style="font-size:16.1px">C</text><text class="ttl" x="222.6" y="262.20" style="font-size:11.7px">4</text><text class="ttl" x="234.1" y="258.0" style="font-size:16.1px">grassland</text>
<text x="18.1" y="276.1" style="font-size:17.3px;fill:#000">(b)</text>
<rect x="461.5" y="285.3" width="7.0" height="133.70" fill="url(#cool)"/><path d="M461.5 285.3 L465.0 279.0 L468.5 285.3 Z" fill="#ff00ff"/><path d="M461.5 285.3 L465.0 279.0 L468.5 285.3 L468.5 419.0 L461.5 419.0 Z" fill="none" stroke="#222" stroke-width="0.8"/><path d="M468.5 419.00h3.5M468.5 415.66h2.0M468.5 412.31h2.0M468.5 408.97h2.0M468.5 405.63h2.0M468.5 402.29h2.0M468.5 398.94h2.0M468.5 395.60h2.0M468.5 392.26h2.0M468.5 388.92h2.0M468.5 385.57h3.5M468.5 382.23h2.0M468.5 378.89h2.0M468.5 375.55h2.0M468.5 372.20h2.0M468.5 368.86h2.0M468.5 365.52h2.0M468.5 362.18h2.0M468.5 358.83h2.0M468.5 355.49h2.0M468.5 352.15h3.5M468.5 348.81h2.0M468.5 345.47h2.0M468.5 342.12h2.0M468.5 338.78h2.0M468.5 335.44h2.0M468.5 332.10h2.0M468.5 328.75h2.0M468.5 325.41h2.0M468.5 322.07h2.0M468.5 318.73h3.5M468.5 315.38h2.0M468.5 312.04h2.0M468.5 308.70h2.0M468.5 305.36h2.0M468.5 302.01h2.0M468.5 298.67h2.0M468.5 295.33h2.0M468.5 291.99h2.0M468.5 288.64h2.0M468.5 285.30h3.5" stroke="#000" stroke-width="0.7"/>
<text class="t" x="475.38" y="422.40" text-anchor="start" textLength="15.42" lengthAdjust="spacingAndGlyphs" style="font-size:9.8px">0.0</text><text class="t" x="475.38" y="388.97" text-anchor="start" textLength="15.42" lengthAdjust="spacingAndGlyphs" style="font-size:9.8px">0.5</text><text class="t" x="475.38" y="355.55" text-anchor="start" textLength="15.42" lengthAdjust="spacingAndGlyphs" style="font-size:9.8px">1.0</text><text class="t" x="475.38" y="322.12" text-anchor="start" textLength="15.42" lengthAdjust="spacingAndGlyphs" style="font-size:9.8px">1.5</text><text class="t" x="475.38" y="288.70" text-anchor="start" textLength="15.42" lengthAdjust="spacingAndGlyphs" style="font-size:9.8px">2.0</text>
<g clip-path="url(#clipc)"><path fill="#08f7ff" d="M121.59 563.47h2.15v2.23h-2.15zM123.74 563.47h2.15v2.23h-2.15zM128.04 563.47h2.15v2.23h-2.15zM121.59 565.70h2.15v2.23h-2.15zM123.74 565.70h2.15v2.23h-2.15zM125.89 565.70h2.15v2.23h-2.15zM123.74 567.93h2.15v2.23h-2.15zM125.89 567.93h2.15v2.23h-2.15zM138.78 567.93h2.15v2.23h-2.15zM125.89 570.17h2.15v2.23h-2.15zM130.19 570.17h2.15v2.23h-2.15zM136.63 570.17h2.15v2.23h-2.15zM138.78 570.17h2.15v2.23h-2.15zM140.93 570.17h2.15v2.23h-2.15zM134.48 572.40h2.15v2.23h-2.15zM136.63 572.40h2.15v2.23h-2.15zM138.78 572.40h2.15v2.23h-2.15zM140.93 572.40h2.15v2.23h-2.15zM143.08 572.40h2.15v2.23h-2.15zM130.19 574.63h2.15v2.23h-2.15zM134.48 574.63h2.15v2.23h-2.15zM136.63 574.63h2.15v2.23h-2.15zM138.78 574.63h2.15v2.23h-2.15zM140.93 574.63h2.15v2.23h-2.15zM143.08 574.63h2.15v2.23h-2.15zM130.19 576.87h2.15v2.23h-2.15zM134.48 576.87h2.15v2.23h-2.15zM138.78 576.87h2.15v2.23h-2.15zM143.08 576.87h2.15v2.23h-2.15zM145.23 576.87h2.15v2.23h-2.15zM134.48 579.10h2.15v2.23h-2.15zM136.63 579.10h2.15v2.23h-2.15zM138.78 579.10h2.15v2.23h-2.15zM143.08 579.10h2.15v2.23h-2.15zM134.48 581.33h2.15v2.23h-2.15zM136.63 581.33h2.15v2.23h-2.15zM138.78 581.33h2.15v2.23h-2.15zM140.93 581.33h2.15v2.23h-2.15zM143.08 581.33h2.15v2.23h-2.15zM145.23 581.33h2.15v2.23h-2.15zM136.63 583.57h2.15v2.23h-2.15zM138.78 583.57h2.15v2.23h-2.15zM140.93 583.57h2.15v2.23h-2.15zM143.08 583.57h2.15v2.23h-2.15zM145.23 583.57h2.15v2.23h-2.15zM136.63 585.80h2.15v2.23h-2.15zM138.78 585.80h2.15v2.23h-2.15zM140.93 585.80h2.15v2.23h-2.15zM143.08 585.80h2.15v2.23h-2.15zM145.23 585.80h2.15v2.23h-2.15zM155.97 592.50h2.15v2.23h-2.15zM162.41 579.10h2.15v2.23h-2.15zM293.47 563.47h2.15v2.23h-2.15zM295.62 563.47h2.15v2.23h-2.15zM284.88 565.70h2.15v2.23h-2.15zM295.62 565.70h2.15v2.23h-2.15zM297.77 565.70h2.15v2.23h-2.15zM304.21 565.70h2.15v2.23h-2.15zM308.51 565.70h2.15v2.23h-2.15zM291.32 567.93h2.15v2.23h-2.15zM293.47 567.93h2.15v2.23h-2.15zM297.77 567.93h2.15v2.23h-2.15zM299.91 567.93h2.15v2.23h-2.15zM302.06 567.93h2.15v2.23h-2.15zM308.51 567.93h2.15v2.23h-2.15zM269.84 570.17h2.15v2.23h-2.15zM274.13 570.17h2.15v2.23h-2.15zM284.88 570.17h2.15v2.23h-2.15zM289.17 570.17h2.15v2.23h-2.15zM291.32 570.17h2.15v2.23h-2.15zM297.77 570.17h2.15v2.23h-2.15zM299.91 570.17h2.15v2.23h-2.15zM304.21 570.17h2.15v2.23h-2.15zM269.84 572.40h2.15v2.23h-2.15zM282.73 572.40h2.15v2.23h-2.15zM287.02 572.40h2.15v2.23h-2.15zM289.17 572.40h2.15v2.23h-2.15zM295.62 572.40h2.15v2.23h-2.15zM297.77 572.40h2.15v2.23h-2.15zM299.91 572.40h2.15v2.23h-2.15zM304.21 572.40h2.15v2.23h-2.15zM280.58 574.63h2.15v2.23h-2.15zM284.88 574.63h2.15v2.23h-2.15zM293.47 574.63h2.15v2.23h-2.15zM295.62 574.63h2.15v2.23h-2.15zM304.21 574.63h2.15v2.23h-2.15zM278.43 576.87h2.15v2.23h-2.15zM284.88 576.87h2.15v2.23h-2.15zM291.32 576.87h2.15v2.23h-2.15zM293.47 576.87h2.15v2.23h-2.15zM297.77 576.87h2.15v2.23h-2.15zM289.17 579.10h2.15v2.23h-2.15zM291.32 579.10h2.15v2.23h-2.15zM293.47 579.10h2.15v2.23h-2.15zM280.58 581.33h2.15v2.23h-2.15zM284.88 581.33h2.15v2.23h-2.15zM291.32 581.33h2.15v2.23h-2.15zM293.47 581.33h2.15v2.23h-2.15zM293.47 583.57h2.15v2.23h-2.15zM291.32 585.80h2.15v2.23h-2.15zM295.62 585.80h2.15v2.23h-2.15zM291.32 588.03h2.15v2.23h-2.15zM295.62 588.03h2.15v2.23h-2.15zM289.17 590.27h2.15v2.23h-2.15zM291.32 590.27h2.15v2.23h-2.15zM295.62 590.27h2.15v2.23h-2.15zM297.77 590.27h2.15v2.23h-2.15zM287.02 592.50h2.15v2.23h-2.15zM289.17 592.50h2.15v2.23h-2.15zM293.47 592.50h2.15v2.23h-2.15zM299.91 592.50h2.15v2.23h-2.15zM302.06 592.50h2.15v2.23h-2.15zM287.02 594.73h2.15v2.23h-2.15zM289.17 594.73h2.15v2.23h-2.15zM291.32 594.73h2.15v2.23h-2.15zM293.47 594.73h2.15v2.23h-2.15zM299.91 594.73h2.15v2.23h-2.15zM287.02 596.97h2.15v2.23h-2.15zM289.17 596.97h2.15v2.23h-2.15zM284.88 599.20h2.15v2.23h-2.15zM287.02 599.20h2.15v2.23h-2.15zM289.17 599.20h2.15v2.23h-2.15zM308.51 561.23h2.15v2.23h-2.15zM314.95 561.23h2.15v2.23h-2.15zM319.25 561.23h2.15v2.23h-2.15zM314.95 563.47h2.15v2.23h-2.15zM319.25 563.47h2.15v2.23h-2.15zM321.40 563.47h2.15v2.23h-2.15zM323.55 563.47h2.15v2.23h-2.15zM325.70 563.47h2.15v2.23h-2.15zM312.80 565.70h2.15v2.23h-2.15zM317.10 565.70h2.15v2.23h-2.15zM314.95 567.93h2.15v2.23h-2.15zM319.25 567.93h2.15v2.23h-2.15zM323.55 567.93h2.15v2.23h-2.15zM325.70 567.93h2.15v2.23h-2.15zM308.51 570.17h2.15v2.23h-2.15zM314.95 570.17h2.15v2.23h-2.15zM323.55 570.17h2.15v2.23h-2.15zM325.70 570.17h2.15v2.23h-2.15zM314.95 572.40h2.15v2.23h-2.15zM325.70 572.40h2.15v2.23h-2.15zM332.14 572.40h2.15v2.23h-2.15zM308.51 576.87h2.15v2.23h-2.15zM310.66 576.87h2.15v2.23h-2.15zM323.55 576.87h2.15v2.23h-2.15zM308.51 579.10h2.15v2.23h-2.15zM310.66 579.10h2.15v2.23h-2.15zM325.70 579.10h2.15v2.23h-2.15zM263.39 621.53h2.15v2.23h-2.15zM265.54 621.53h2.15v2.23h-2.15zM267.69 621.53h2.15v2.23h-2.15zM287.02 621.53h2.15v2.23h-2.15zM263.39 623.77h2.15v2.23h-2.15zM265.54 623.77h2.15v2.23h-2.15zM267.69 623.77h2.15v2.23h-2.15zM269.84 623.77h2.15v2.23h-2.15zM271.98 623.77h2.15v2.23h-2.15zM274.13 623.77h2.15v2.23h-2.15zM276.28 623.77h2.15v2.23h-2.15zM278.43 623.77h2.15v2.23h-2.15zM263.39 626.00h2.15v2.23h-2.15zM265.54 626.00h2.15v2.23h-2.15zM267.69 626.00h2.15v2.23h-2.15zM269.84 626.00h2.15v2.23h-2.15zM271.98 626.00h2.15v2.23h-2.15zM274.13 626.00h2.15v2.23h-2.15zM276.28 626.00h2.15v2.23h-2.15zM278.43 626.00h2.15v2.23h-2.15zM280.58 626.00h2.15v2.23h-2.15zM263.39 628.23h2.15v2.23h-2.15zM269.84 628.23h2.15v2.23h-2.15zM271.98 628.23h2.15v2.23h-2.15zM274.13 628.23h2.15v2.23h-2.15zM276.28 628.23h2.15v2.23h-2.15zM278.43 628.23h2.15v2.23h-2.15zM280.58 628.23h2.15v2.23h-2.15zM282.73 628.23h2.15v2.23h-2.15zM284.88 628.23h2.15v2.23h-2.15zM263.39 630.47h2.15v2.23h-2.15zM274.13 630.47h2.15v2.23h-2.15zM276.28 630.47h2.15v2.23h-2.15zM278.43 630.47h2.15v2.23h-2.15zM280.58 630.47h2.15v2.23h-2.15zM282.73 630.47h2.15v2.23h-2.15zM284.88 630.47h2.15v2.23h-2.15zM274.13 632.70h2.15v2.23h-2.15zM276.28 632.70h2.15v2.23h-2.15zM278.43 632.70h2.15v2.23h-2.15zM280.58 632.70h2.15v2.23h-2.15zM282.73 632.70h2.15v2.23h-2.15zM284.88 632.70h2.15v2.23h-2.15zM287.02 632.70h2.15v2.23h-2.15zM267.69 634.93h2.15v2.23h-2.15zM269.84 634.93h2.15v2.23h-2.15zM271.98 634.93h2.15v2.23h-2.15zM276.28 634.93h2.15v2.23h-2.15zM278.43 634.93h2.15v2.23h-2.15zM282.73 634.93h2.15v2.23h-2.15zM284.88 634.93h2.15v2.23h-2.15zM269.84 637.17h2.15v2.23h-2.15zM271.98 637.17h2.15v2.23h-2.15zM274.13 637.17h2.15v2.23h-2.15zM276.28 637.17h2.15v2.23h-2.15zM278.43 637.17h2.15v2.23h-2.15zM280.58 637.17h2.15v2.23h-2.15zM284.88 637.17h2.15v2.23h-2.15zM269.84 639.40h2.15v2.23h-2.15zM274.13 639.40h2.15v2.23h-2.15zM278.43 639.40h2.15v2.23h-2.15zM280.58 639.40h2.15v2.23h-2.15zM282.73 639.40h2.15v2.23h-2.15zM269.84 641.63h2.15v2.23h-2.15zM274.13 641.63h2.15v2.23h-2.15zM276.28 641.63h2.15v2.23h-2.15zM280.58 641.63h2.15v2.23h-2.15zM269.84 643.87h2.15v2.23h-2.15zM271.98 643.87h2.15v2.23h-2.15zM390.15 617.07h2.15v2.23h-2.15zM392.30 617.07h2.15v2.23h-2.15zM403.04 617.07h2.15v2.23h-2.15zM390.15 619.30h2.15v2.23h-2.15zM394.45 619.30h2.15v2.23h-2.15zM405.19 619.30h2.15v2.23h-2.15zM390.15 621.53h2.15v2.23h-2.15zM392.30 621.53h2.15v2.23h-2.15zM396.59 623.77h2.15v2.23h-2.15zM398.74 623.77h2.15v2.23h-2.15zM400.89 623.77h2.15v2.23h-2.15zM392.30 628.23h2.15v2.23h-2.15zM372.96 630.47h2.15v2.23h-2.15zM388.00 630.47h2.15v2.23h-2.15zM394.45 630.47h2.15v2.23h-2.15zM403.04 630.47h2.15v2.23h-2.15zM405.19 630.47h2.15v2.23h-2.15zM407.34 630.47h2.15v2.23h-2.15zM409.48 630.47h2.15v2.23h-2.15zM372.96 632.70h2.15v2.23h-2.15zM377.26 632.70h2.15v2.23h-2.15zM381.56 632.70h2.15v2.23h-2.15zM390.15 632.70h2.15v2.23h-2.15zM403.04 632.70h2.15v2.23h-2.15zM407.34 632.70h2.15v2.23h-2.15zM409.48 632.70h2.15v2.23h-2.15zM372.96 634.93h2.15v2.23h-2.15zM375.11 634.93h2.15v2.23h-2.15zM379.41 634.93h2.15v2.23h-2.15zM381.56 634.93h2.15v2.23h-2.15zM383.70 634.93h2.15v2.23h-2.15zM385.85 634.93h2.15v2.23h-2.15zM388.00 634.93h2.15v2.23h-2.15zM392.30 634.93h2.15v2.23h-2.15zM394.45 634.93h2.15v2.23h-2.15zM403.04 634.93h2.15v2.23h-2.15zM405.19 634.93h2.15v2.23h-2.15zM407.34 634.93h2.15v2.23h-2.15zM409.48 634.93h2.15v2.23h-2.15zM372.96 637.17h2.15v2.23h-2.15zM375.11 637.17h2.15v2.23h-2.15zM377.26 637.17h2.15v2.23h-2.15zM379.41 637.17h2.15v2.23h-2.15zM381.56 637.17h2.15v2.23h-2.15zM383.70 637.17h2.15v2.23h-2.15zM385.85 637.17h2.15v2.23h-2.15zM388.00 637.17h2.15v2.23h-2.15zM390.15 637.17h2.15v2.23h-2.15zM392.30 637.17h2.15v2.23h-2.15zM394.45 637.17h2.15v2.23h-2.15zM396.59 637.17h2.15v2.23h-2.15zM398.74 637.17h2.15v2.23h-2.15zM403.04 637.17h2.15v2.23h-2.15zM407.34 637.17h2.15v2.23h-2.15zM409.48 637.17h2.15v2.23h-2.15zM375.11 639.40h2.15v2.23h-2.15zM377.26 639.40h2.15v2.23h-2.15zM379.41 639.40h2.15v2.23h-2.15zM381.56 639.40h2.15v2.23h-2.15zM383.70 639.40h2.15v2.23h-2.15zM385.85 639.40h2.15v2.23h-2.15zM388.00 639.40h2.15v2.23h-2.15zM390.15 639.40h2.15v2.23h-2.15zM392.30 639.40h2.15v2.23h-2.15zM394.45 639.40h2.15v2.23h-2.15zM403.04 639.40h2.15v2.23h-2.15zM405.19 639.40h2.15v2.23h-2.15zM407.34 639.40h2.15v2.23h-2.15zM409.48 639.40h2.15v2.23h-2.15zM377.26 641.63h2.15v2.23h-2.15zM394.45 641.63h2.15v2.23h-2.15zM396.59 641.63h2.15v2.23h-2.15zM398.74 641.63h2.15v2.23h-2.15zM400.89 641.63h2.15v2.23h-2.15zM403.04 641.63h2.15v2.23h-2.15zM405.19 641.63h2.15v2.23h-2.15zM407.34 641.63h2.15v2.23h-2.15zM403.04 643.87h2.15v2.23h-2.15zM80.77 581.33h2.15v2.23h-2.15zM222.57 585.80h2.15v2.23h-2.15zM171.01 592.50h2.15v2.23h-2.15zM173.16 592.50h2.15v2.23h-2.15zM173.16 596.97h2.15v2.23h-2.15zM188.20 599.20h2.15v2.23h-2.15zM201.09 605.90h2.15v2.23h-2.15zM205.38 608.13h2.15v2.23h-2.15zM207.53 608.13h2.15v2.23h-2.15zM209.68 610.37h2.15v2.23h-2.15zM166.71 617.07h2.15v2.23h-2.15zM207.53 617.07h2.15v2.23h-2.15zM190.34 621.53h2.15v2.23h-2.15zM190.34 623.77h2.15v2.23h-2.15zM192.49 621.53h2.15v2.23h-2.15zM194.64 623.77h2.15v2.23h-2.15zM194.64 626.00h2.15v2.23h-2.15zM194.64 628.23h2.15v2.23h-2.15zM196.79 621.53h2.15v2.23h-2.15zM196.79 623.77h2.15v2.23h-2.15zM198.94 623.77h2.15v2.23h-2.15zM196.79 626.00h2.15v2.23h-2.15zM179.60 626.00h2.15v2.23h-2.15zM186.05 626.00h2.15v2.23h-2.15zM183.90 628.23h2.15v2.23h-2.15zM179.60 632.70h2.15v2.23h-2.15zM177.45 637.17h2.15v2.23h-2.15zM175.30 639.40h2.15v2.23h-2.15zM177.45 639.40h2.15v2.23h-2.15zM179.60 639.40h2.15v2.23h-2.15zM241.91 565.70h2.15v2.23h-2.15zM244.05 565.70h2.15v2.23h-2.15zM246.20 565.70h2.15v2.23h-2.15zM250.50 565.70h2.15v2.23h-2.15zM254.80 565.70h2.15v2.23h-2.15zM261.24 565.70h2.15v2.23h-2.15zM239.76 567.93h2.15v2.23h-2.15zM241.91 567.93h2.15v2.23h-2.15zM244.05 567.93h2.15v2.23h-2.15zM246.20 567.93h2.15v2.23h-2.15zM248.35 567.93h2.15v2.23h-2.15zM252.65 567.93h2.15v2.23h-2.15zM259.09 567.93h2.15v2.23h-2.15zM261.24 567.93h2.15v2.23h-2.15zM239.76 570.17h2.15v2.23h-2.15zM246.20 570.17h2.15v2.23h-2.15zM250.50 570.17h2.15v2.23h-2.15zM265.54 570.17h2.15v2.23h-2.15zM239.76 572.40h2.15v2.23h-2.15zM246.20 572.40h2.15v2.23h-2.15zM259.09 572.40h2.15v2.23h-2.15zM233.31 592.50h2.15v2.23h-2.15zM237.61 592.50h2.15v2.23h-2.15zM235.46 594.73h2.15v2.23h-2.15zM250.50 596.97h2.15v2.23h-2.15zM252.65 596.97h2.15v2.23h-2.15zM254.80 596.97h2.15v2.23h-2.15zM265.54 596.97h2.15v2.23h-2.15zM261.24 599.20h2.15v2.23h-2.15zM259.09 599.20h2.15v2.23h-2.15zM261.24 601.43h2.15v2.23h-2.15zM280.58 601.43h2.15v2.23h-2.15zM282.73 599.20h2.15v2.23h-2.15zM282.73 601.43h2.15v2.23h-2.15zM284.88 601.43h2.15v2.23h-2.15zM282.73 603.67h2.15v2.23h-2.15zM284.88 603.67h2.15v2.23h-2.15zM289.17 601.43h2.15v2.23h-2.15zM295.62 603.67h2.15v2.23h-2.15zM284.88 608.13h2.15v2.23h-2.15zM287.02 610.37h2.15v2.23h-2.15zM287.02 612.60h2.15v2.23h-2.15zM289.17 612.60h2.15v2.23h-2.15zM287.02 614.83h2.15v2.23h-2.15zM271.98 617.07h2.15v2.23h-2.15zM278.43 617.07h2.15v2.23h-2.15zM280.58 614.83h2.15v2.23h-2.15zM280.58 617.07h2.15v2.23h-2.15zM282.73 617.07h2.15v2.23h-2.15zM282.73 619.30h2.15v2.23h-2.15zM284.88 619.30h2.15v2.23h-2.15zM329.99 588.03h2.15v2.23h-2.15zM332.14 588.03h2.15v2.23h-2.15zM329.99 590.27h2.15v2.23h-2.15zM332.14 590.27h2.15v2.23h-2.15zM332.14 592.50h2.15v2.23h-2.15zM334.29 592.50h2.15v2.23h-2.15zM334.29 594.73h2.15v2.23h-2.15zM340.73 579.10h2.15v2.23h-2.15zM342.88 579.10h2.15v2.23h-2.15zM340.73 581.33h2.15v2.23h-2.15zM340.73 583.57h2.15v2.23h-2.15zM351.48 579.10h2.15v2.23h-2.15zM360.07 574.63h2.15v2.23h-2.15zM360.07 576.87h2.15v2.23h-2.15zM357.92 579.10h2.15v2.23h-2.15zM360.07 579.10h2.15v2.23h-2.15zM362.22 579.10h2.15v2.23h-2.15zM355.77 581.33h2.15v2.23h-2.15zM364.37 585.80h2.15v2.23h-2.15zM366.52 585.80h2.15v2.23h-2.15zM364.37 588.03h2.15v2.23h-2.15zM366.52 588.03h2.15v2.23h-2.15zM355.77 590.27h2.15v2.23h-2.15zM357.92 590.27h2.15v2.23h-2.15zM364.37 592.50h2.15v2.23h-2.15zM366.52 592.50h2.15v2.23h-2.15zM424.52 599.20h2.15v2.23h-2.15zM428.82 628.23h2.15v2.23h-2.15zM398.74 614.83h2.15v2.23h-2.15zM400.89 614.83h2.15v2.23h-2.15z"/><path fill="#6c93ff" d="M125.89 563.47h2.15v2.23h-2.15zM128.04 565.70h2.15v2.23h-2.15zM130.19 567.93h2.15v2.23h-2.15zM132.34 567.93h2.15v2.23h-2.15zM289.17 563.47h2.15v2.23h-2.15zM289.17 565.70h2.15v2.23h-2.15zM291.32 565.70h2.15v2.23h-2.15zM299.91 565.70h2.15v2.23h-2.15zM302.06 565.70h2.15v2.23h-2.15zM306.36 565.70h2.15v2.23h-2.15zM289.17 567.93h2.15v2.23h-2.15zM295.62 567.93h2.15v2.23h-2.15zM304.21 567.93h2.15v2.23h-2.15zM306.36 567.93h2.15v2.23h-2.15zM271.98 570.17h2.15v2.23h-2.15zM276.28 570.17h2.15v2.23h-2.15zM278.43 570.17h2.15v2.23h-2.15zM280.58 570.17h2.15v2.23h-2.15zM282.73 570.17h2.15v2.23h-2.15zM287.02 570.17h2.15v2.23h-2.15zM302.06 570.17h2.15v2.23h-2.15zM271.98 572.40h2.15v2.23h-2.15zM276.28 572.40h2.15v2.23h-2.15zM278.43 572.40h2.15v2.23h-2.15zM280.58 572.40h2.15v2.23h-2.15zM284.88 572.40h2.15v2.23h-2.15zM302.06 572.40h2.15v2.23h-2.15zM274.13 574.63h2.15v2.23h-2.15zM278.43 574.63h2.15v2.23h-2.15zM282.73 574.63h2.15v2.23h-2.15zM287.02 574.63h2.15v2.23h-2.15zM289.17 574.63h2.15v2.23h-2.15zM291.32 574.63h2.15v2.23h-2.15zM299.91 574.63h2.15v2.23h-2.15zM306.36 574.63h2.15v2.23h-2.15zM274.13 576.87h2.15v2.23h-2.15zM276.28 576.87h2.15v2.23h-2.15zM280.58 576.87h2.15v2.23h-2.15zM282.73 576.87h2.15v2.23h-2.15zM299.91 576.87h2.15v2.23h-2.15zM276.28 579.10h2.15v2.23h-2.15zM278.43 579.10h2.15v2.23h-2.15zM280.58 579.10h2.15v2.23h-2.15zM282.73 579.10h2.15v2.23h-2.15zM284.88 579.10h2.15v2.23h-2.15zM282.73 581.33h2.15v2.23h-2.15zM287.02 581.33h2.15v2.23h-2.15zM289.17 581.33h2.15v2.23h-2.15zM282.73 583.57h2.15v2.23h-2.15zM284.88 583.57h2.15v2.23h-2.15zM287.02 583.57h2.15v2.23h-2.15zM295.62 583.57h2.15v2.23h-2.15zM287.02 585.80h2.15v2.23h-2.15zM297.77 588.03h2.15v2.23h-2.15zM299.91 588.03h2.15v2.23h-2.15zM276.28 590.27h2.15v2.23h-2.15zM293.47 590.27h2.15v2.23h-2.15zM310.66 561.23h2.15v2.23h-2.15zM312.80 561.23h2.15v2.23h-2.15zM308.51 563.47h2.15v2.23h-2.15zM310.66 563.47h2.15v2.23h-2.15zM312.80 563.47h2.15v2.23h-2.15zM310.66 565.70h2.15v2.23h-2.15zM314.95 565.70h2.15v2.23h-2.15zM321.40 565.70h2.15v2.23h-2.15zM325.70 565.70h2.15v2.23h-2.15zM317.10 567.93h2.15v2.23h-2.15zM327.84 567.93h2.15v2.23h-2.15zM310.66 570.17h2.15v2.23h-2.15zM312.80 570.17h2.15v2.23h-2.15zM317.10 570.17h2.15v2.23h-2.15zM321.40 570.17h2.15v2.23h-2.15zM327.84 570.17h2.15v2.23h-2.15zM332.14 570.17h2.15v2.23h-2.15zM312.80 572.40h2.15v2.23h-2.15zM317.10 572.40h2.15v2.23h-2.15zM319.25 572.40h2.15v2.23h-2.15zM321.40 572.40h2.15v2.23h-2.15zM323.55 572.40h2.15v2.23h-2.15zM312.80 574.63h2.15v2.23h-2.15zM314.95 574.63h2.15v2.23h-2.15zM317.10 574.63h2.15v2.23h-2.15zM325.70 574.63h2.15v2.23h-2.15zM314.95 576.87h2.15v2.23h-2.15zM317.10 576.87h2.15v2.23h-2.15zM321.40 576.87h2.15v2.23h-2.15zM325.70 576.87h2.15v2.23h-2.15zM327.84 579.10h2.15v2.23h-2.15zM327.84 581.33h2.15v2.23h-2.15zM280.58 623.77h2.15v2.23h-2.15zM282.73 623.77h2.15v2.23h-2.15zM284.88 623.77h2.15v2.23h-2.15zM282.73 626.00h2.15v2.23h-2.15zM284.88 626.00h2.15v2.23h-2.15zM265.54 628.23h2.15v2.23h-2.15zM267.69 628.23h2.15v2.23h-2.15zM265.54 630.47h2.15v2.23h-2.15zM267.69 630.47h2.15v2.23h-2.15zM265.54 632.70h2.15v2.23h-2.15zM267.69 632.70h2.15v2.23h-2.15zM383.70 626.00h2.15v2.23h-2.15zM375.11 628.23h2.15v2.23h-2.15zM379.41 628.23h2.15v2.23h-2.15zM390.15 628.23h2.15v2.23h-2.15zM394.45 628.23h2.15v2.23h-2.15zM375.11 630.47h2.15v2.23h-2.15zM377.26 630.47h2.15v2.23h-2.15zM390.15 630.47h2.15v2.23h-2.15zM392.30 630.47h2.15v2.23h-2.15zM375.11 632.70h2.15v2.23h-2.15zM379.41 632.70h2.15v2.23h-2.15zM388.00 632.70h2.15v2.23h-2.15zM392.30 632.70h2.15v2.23h-2.15zM405.19 632.70h2.15v2.23h-2.15zM377.26 634.93h2.15v2.23h-2.15zM405.19 637.17h2.15v2.23h-2.15zM396.59 639.40h2.15v2.23h-2.15zM398.74 639.40h2.15v2.23h-2.15zM400.89 639.40h2.15v2.23h-2.15zM162.41 610.37h2.15v2.23h-2.15zM168.86 621.53h2.15v2.23h-2.15zM173.16 623.77h2.15v2.23h-2.15zM252.65 565.70h2.15v2.23h-2.15zM250.50 567.93h2.15v2.23h-2.15zM254.80 567.93h2.15v2.23h-2.15zM267.69 567.93h2.15v2.23h-2.15zM252.65 570.17h2.15v2.23h-2.15zM263.39 570.17h2.15v2.23h-2.15zM267.69 570.17h2.15v2.23h-2.15zM250.50 572.40h2.15v2.23h-2.15zM250.50 574.63h2.15v2.23h-2.15zM265.54 574.63h2.15v2.23h-2.15zM263.39 576.87h2.15v2.23h-2.15zM265.54 576.87h2.15v2.23h-2.15zM231.16 581.33h2.15v2.23h-2.15zM336.44 588.03h2.15v2.23h-2.15zM342.88 581.33h2.15v2.23h-2.15zM345.03 579.10h2.15v2.23h-2.15zM345.03 581.33h2.15v2.23h-2.15z"/><path fill="#a659ff" d="M119.44 565.70h2.15v2.23h-2.15zM128.04 570.17h2.15v2.23h-2.15zM128.04 572.40h2.15v2.23h-2.15zM130.19 572.40h2.15v2.23h-2.15zM128.04 574.63h2.15v2.23h-2.15zM136.63 576.87h2.15v2.23h-2.15zM140.93 579.10h2.15v2.23h-2.15zM287.02 567.93h2.15v2.23h-2.15zM306.36 570.17h2.15v2.23h-2.15zM280.58 583.57h2.15v2.23h-2.15zM282.73 585.80h2.15v2.23h-2.15zM291.32 592.50h2.15v2.23h-2.15zM291.32 596.97h2.15v2.23h-2.15zM323.55 565.70h2.15v2.23h-2.15zM310.66 567.93h2.15v2.23h-2.15zM321.40 567.93h2.15v2.23h-2.15zM319.25 570.17h2.15v2.23h-2.15zM308.51 572.40h2.15v2.23h-2.15zM310.66 572.40h2.15v2.23h-2.15zM308.51 574.63h2.15v2.23h-2.15zM310.66 574.63h2.15v2.23h-2.15zM319.25 574.63h2.15v2.23h-2.15zM321.40 574.63h2.15v2.23h-2.15zM319.25 576.87h2.15v2.23h-2.15zM312.80 581.33h2.15v2.23h-2.15zM329.99 581.33h2.15v2.23h-2.15zM287.02 623.77h2.15v2.23h-2.15zM269.84 630.47h2.15v2.23h-2.15zM271.98 630.47h2.15v2.23h-2.15zM269.84 632.70h2.15v2.23h-2.15zM271.98 632.70h2.15v2.23h-2.15zM274.13 634.93h2.15v2.23h-2.15zM271.98 639.40h2.15v2.23h-2.15zM271.98 641.63h2.15v2.23h-2.15zM383.70 621.53h2.15v2.23h-2.15zM383.70 623.77h2.15v2.23h-2.15zM377.26 628.23h2.15v2.23h-2.15zM379.41 630.47h2.15v2.23h-2.15zM390.15 634.93h2.15v2.23h-2.15zM396.59 634.93h2.15v2.23h-2.15zM256.95 565.70h2.15v2.23h-2.15zM259.09 594.73h2.15v2.23h-2.15zM291.32 599.20h2.15v2.23h-2.15zM360.07 581.33h2.15v2.23h-2.15z"/><path fill="#40bfff" d="M128.04 567.93h2.15v2.23h-2.15zM140.93 588.03h2.15v2.23h-2.15zM153.82 592.50h2.15v2.23h-2.15zM291.32 563.47h2.15v2.23h-2.15zM293.47 565.70h2.15v2.23h-2.15zM295.62 570.17h2.15v2.23h-2.15zM289.17 576.87h2.15v2.23h-2.15zM164.56 612.60h2.15v2.23h-2.15zM263.39 574.63h2.15v2.23h-2.15zM233.31 579.10h2.15v2.23h-2.15zM256.95 583.57h2.15v2.23h-2.15z"/><path fill="#ec13ff" d="M284.88 563.47h2.15v2.23h-2.15zM306.36 572.40h2.15v2.23h-2.15zM392.30 619.30h2.15v2.23h-2.15zM385.85 621.53h2.15v2.23h-2.15zM259.09 565.70h2.15v2.23h-2.15zM241.91 570.17h2.15v2.23h-2.15zM261.24 594.73h2.15v2.23h-2.15z"/><use href="#world" transform="translate(57.14 505.4) scale(1.07422 1.11667)"/></g>
<rect x="58.5" y="506.5" width="384.00" height="166.00" fill="none" stroke="#000" stroke-width="0.9"/>
<g stroke="#000" stroke-width="0.9"><line x1="55.00" y1="506.50" x2="58.50" y2="506.50"/><line x1="55.00" y1="538.50" x2="58.50" y2="538.50"/><line x1="55.00" y1="572.50" x2="58.50" y2="572.50"/><line x1="55.00" y1="606.50" x2="58.50" y2="606.50"/><line x1="55.00" y1="639.50" x2="58.50" y2="639.50"/><line x1="55.00" y1="672.50" x2="58.50" y2="672.50"/><line x1="58.50" y1="672.50" x2="58.50" y2="676.00"/><line x1="121.59" y1="672.50" x2="121.59" y2="676.00"/><line x1="186.05" y1="672.50" x2="186.05" y2="676.00"/><line x1="250.50" y1="672.50" x2="250.50" y2="676.00"/><line x1="314.95" y1="672.50" x2="314.95" y2="676.00"/><line x1="379.41" y1="672.50" x2="379.41" y2="676.00"/><line x1="442.50" y1="672.50" x2="442.50" y2="676.00"/></g>
<text class="t" x="51.30" y="542.50" text-anchor="end" textLength="27.80" lengthAdjust="spacingAndGlyphs" style="font-size:9.9px">60° N</text><text class="t" x="51.30" y="576.50" text-anchor="end" textLength="27.80" lengthAdjust="spacingAndGlyphs" style="font-size:9.9px">30° N</text><text class="t" x="51.30" y="610.50" text-anchor="end" textLength="11.13" lengthAdjust="spacingAndGlyphs" style="font-size:9.9px">0°</text><text class="t" x="51.30" y="643.50" text-anchor="end" textLength="26.69" lengthAdjust="spacingAndGlyphs" style="font-size:9.9px">30° S</text><text class="t" x="51.30" y="676.50" text-anchor="end" textLength="26.69" lengthAdjust="spacingAndGlyphs" style="font-size:9.9px">60° S</text>
<text class="t" x="121.59" y="686.70" text-anchor="middle" textLength="36.39" lengthAdjust="spacingAndGlyphs" style="font-size:9.9px">120° W</text><text class="t" x="186.05" y="686.70" text-anchor="middle" textLength="30.16" lengthAdjust="spacingAndGlyphs" style="font-size:9.9px">60° W</text><text class="t" x="250.50" y="686.70" text-anchor="middle" textLength="11.13" lengthAdjust="spacingAndGlyphs" style="font-size:9.9px">0°</text><text class="t" x="314.95" y="686.70" text-anchor="middle" textLength="26.67" lengthAdjust="spacingAndGlyphs" style="font-size:9.9px">60° E</text><text class="t" x="379.41" y="686.70" text-anchor="middle" textLength="32.90" lengthAdjust="spacingAndGlyphs" style="font-size:9.9px">120° E</text>
<text x="250.50" y="700.40" text-anchor="middle" textLength="57.70" lengthAdjust="spacingAndGlyphs" style="font-size:11.4px;stroke:#1a1a1a;stroke-width:0.15px">Longitude</text>
<text transform="translate(18.2 588.75) rotate(-90)" text-anchor="middle" textLength="47.40" lengthAdjust="spacingAndGlyphs" style="font-size:11.4px;stroke:#1a1a1a;stroke-width:0.15px">Latitude</text>
<text class="ttl" x="179.05" y="500.0" style="font-size:16.2px">Tropical C</text><text class="ttl" x="253.6" y="504.20" style="font-size:11.7px">3</text><text class="ttl" x="264.5" y="500.0" style="font-size:16.2px">grassland</text>
<text x="18.3" y="517.9" style="font-size:17.3px;fill:#000">(c)</text>
<rect x="466.5" y="526.0" width="7.0" height="133.00" fill="url(#cool)"/><path d="M466.5 526.0 L470.0 519.6 L473.5 526.0 Z" fill="#ff00ff"/><path d="M466.5 526.0 L470.0 519.6 L473.5 526.0 L473.5 659.0 L466.5 659.0 Z" fill="none" stroke="#222" stroke-width="0.8"/><path d="M473.5 659.00h3.5M473.5 655.67h2.0M473.5 652.35h2.0M473.5 649.02h2.0M473.5 645.70h2.0M473.5 642.38h2.0M473.5 639.05h2.0M473.5 635.73h2.0M473.5 632.40h2.0M473.5 629.08h2.0M473.5 625.75h3.5M473.5 622.42h2.0M473.5 619.10h2.0M473.5 615.77h2.0M473.5 612.45h2.0M473.5 609.12h2.0M473.5 605.80h2.0M473.5 602.48h2.0M473.5 599.15h2.0M473.5 595.83h2.0M473.5 592.50h3.5M473.5 589.17h2.0M473.5 585.85h2.0M473.5 582.52h2.0M473.5 579.20h2.0M473.5 575.88h2.0M473.5 572.55h2.0M473.5 569.23h2.0M473.5 565.90h2.0M473.5 562.58h2.0M473.5 559.25h3.5M473.5 555.92h2.0M473.5 552.60h2.0M473.5 549.27h2.0M473.5 545.95h2.0M473.5 542.62h2.0M473.5 539.30h2.0M473.5 535.98h2.0M473.5 532.65h2.0M473.5 529.33h2.0M473.5 526.00h3.5" stroke="#000" stroke-width="0.7"/>
<text class="t" x="479.58" y="662.40" text-anchor="start" textLength="15.58" lengthAdjust="spacingAndGlyphs" style="font-size:9.9px">0.0</text><text class="t" x="479.58" y="629.15" text-anchor="start" textLength="15.58" lengthAdjust="spacingAndGlyphs" style="font-size:9.9px">0.5</text><text class="t" x="479.58" y="595.90" text-anchor="start" textLength="15.58" lengthAdjust="spacingAndGlyphs" style="font-size:9.9px">1.0</text><text class="t" x="479.58" y="562.65" text-anchor="start" textLength="15.58" lengthAdjust="spacingAndGlyphs" style="font-size:9.9px">1.5</text><text class="t" x="479.58" y="529.40" text-anchor="start" textLength="15.58" lengthAdjust="spacingAndGlyphs" style="font-size:9.9px">2.0</text>
</svg>
</body></html>
